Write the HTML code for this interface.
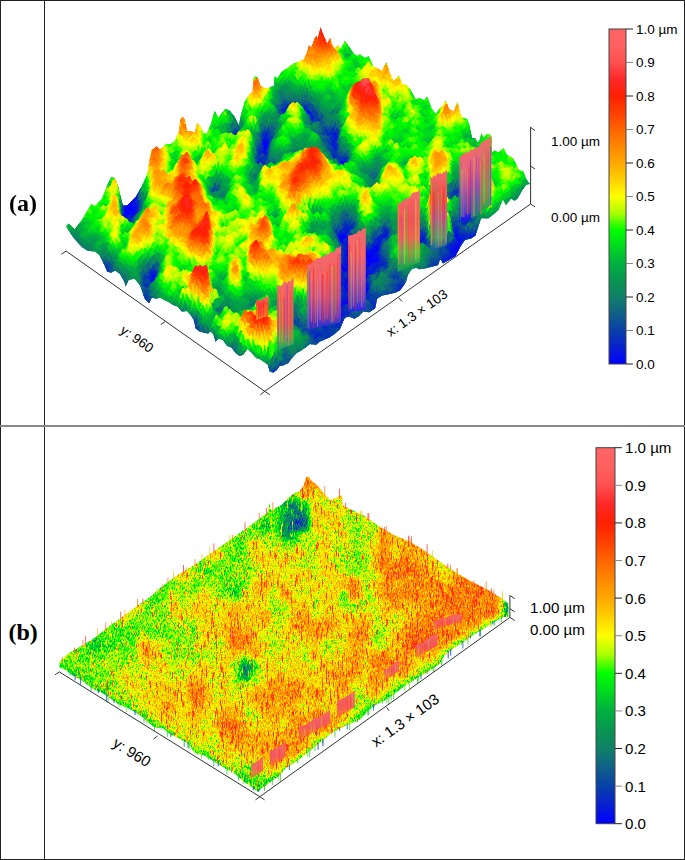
<!DOCTYPE html>
<html><head><meta charset="utf-8"><style>
html,body{margin:0;padding:0;background:#fff}
body{width:685px;height:860px;position:relative;overflow:hidden}
.lab{position:absolute;font-family:"Liberation Serif",serif;font-weight:bold;font-size:24px;line-height:1;z-index:4}
.bd{position:absolute;background:#222;z-index:4}
</style></head><body>
<svg width="685" height="860" viewBox="0 0 685 860" style="position:absolute;left:0;top:0;z-index:1;font-family:'Liberation Sans',sans-serif">
<defs>
<linearGradient id="cb" x1="0" y1="0" x2="0" y2="1"><stop offset="0.000" stop-color="#ff6464"/><stop offset="0.050" stop-color="#ff6060"/><stop offset="0.100" stop-color="#ff5050"/><stop offset="0.150" stop-color="#ff2828"/><stop offset="0.200" stop-color="#ff2000"/><stop offset="0.250" stop-color="#ff4000"/><stop offset="0.300" stop-color="#ff6400"/><stop offset="0.350" stop-color="#ff8800"/><stop offset="0.400" stop-color="#ffa800"/><stop offset="0.450" stop-color="#ffd000"/><stop offset="0.500" stop-color="#ffff00"/><stop offset="0.550" stop-color="#aaff00"/><stop offset="0.600" stop-color="#00ff00"/><stop offset="0.650" stop-color="#00d820"/><stop offset="0.700" stop-color="#00b040"/><stop offset="0.750" stop-color="#089650"/><stop offset="0.800" stop-color="#108068"/><stop offset="0.850" stop-color="#106088"/><stop offset="0.900" stop-color="#0840a8"/><stop offset="0.950" stop-color="#0820d0"/><stop offset="1.000" stop-color="#0000ff"/></linearGradient>
<linearGradient id="wg0" x1="0" y1="0" x2="0" y2="1"><stop offset="0" stop-color="#f46a6a"/><stop offset="0.55" stop-color="#f45a5a"/><stop offset="1" stop-color="#ff6030" stop-opacity="0.5"/></linearGradient><linearGradient id="wg1" x1="0" y1="0" x2="0" y2="1"><stop offset="0" stop-color="#f46a6a"/><stop offset="0.55" stop-color="#f45a5a"/><stop offset="1" stop-color="#ff6030" stop-opacity="0.5"/></linearGradient><linearGradient id="wg2" x1="0" y1="0" x2="0" y2="1"><stop offset="0" stop-color="#f46a6a"/><stop offset="0.55" stop-color="#f45a5a"/><stop offset="1" stop-color="#ff6030" stop-opacity="0.5"/></linearGradient><linearGradient id="wg3" x1="0" y1="0" x2="0" y2="1"><stop offset="0" stop-color="#f46a6a"/><stop offset="0.55" stop-color="#f45a5a"/><stop offset="1" stop-color="#ff6030" stop-opacity="0.5"/></linearGradient><linearGradient id="wg4" x1="0" y1="0" x2="0" y2="1"><stop offset="0" stop-color="#f46a6a"/><stop offset="0.55" stop-color="#f45a5a"/><stop offset="1" stop-color="#ff6030" stop-opacity="0.5"/></linearGradient><linearGradient id="wg5" x1="0" y1="0" x2="0" y2="1"><stop offset="0" stop-color="#f46a6a"/><stop offset="0.55" stop-color="#f45a5a"/><stop offset="1" stop-color="#ff6030" stop-opacity="0.5"/></linearGradient><linearGradient id="wg6" x1="0" y1="0" x2="0" y2="1"><stop offset="0" stop-color="#f46a6a"/><stop offset="0.55" stop-color="#f45a5a"/><stop offset="1" stop-color="#ff6030" stop-opacity="0.5"/></linearGradient>
<clipPath id="clipA"><polygon points="66.6,225.9 68.8,223.7 74.6,229.6 81.9,220.0 91.4,204.0 95.0,206.2 102.3,198.2 108.2,183.6 111.8,177.0 115.5,179.2 118.4,188.0 122.8,205.5 127.2,205.5 135.9,196.7 141.8,186.5 147.6,173.4 149.8,158.8 152.0,150.0 156.6,146.6 160.0,149.6 165.8,144.5 170.2,144.5 174.6,141.5 179.0,131.3 180.4,119.6 182.6,116.7 184.8,119.6 187.0,131.3 190.7,131.3 195.0,132.8 197.2,123.3 200.1,126.2 203.8,132.8 206.7,134.2 211.1,124.0 214.7,110.9 218.4,118.2 221.3,113.8 225.7,108.7 230.1,110.9 234.5,116.7 238.8,125.5 241.0,115.3 244.7,102.1 249.1,94.8 252.7,91.9 253.4,78.8 255.6,76.6 257.8,78.0 260.0,85.0 264.4,88.6 268.8,87.9 273.9,85.7 274.6,76.2 277.5,78.4 281.9,71.8 287.0,68.2 293.6,63.8 299.4,61.6 303.8,59.4 306.7,53.6 308.9,45.5 311.1,47.7 314.7,39.0 316.2,36.1 317.7,39.0 319.9,30.2 320.6,27.3 322.0,31.7 327.2,44.1 330.1,38.2 332.3,44.8 334.5,48.5 338.1,45.5 341.0,48.5 344.7,41.2 349.1,47.0 353.4,53.6 357.1,56.0 360.0,54.4 364.4,58.0 368.8,56.6 373.1,66.8 379.0,69.0 381.9,71.2 386.3,62.4 389.2,71.9 393.6,81.4 398.7,75.5 402.3,84.3 406.7,85.0 410.4,89.4 415.5,99.6 419.9,98.2 424.2,100.4 427.2,96.7 431.5,108.4 435.9,114.2 439.6,108.4 443.2,105.5 445.8,100.7 448.8,108.8 453.9,111.7 457.5,101.5 459.7,111.7 461.9,117.5 467.0,119.0 469.2,124.8 472.1,138.0 475.0,138.0 477.2,142.3 479.4,140.9 481.6,133.6 483.8,138.0 486.7,134.3 490.4,135.0 491.8,138.0 491.8,152.6 494.7,150.4 498.4,152.6 503.5,148.2 507.2,155.5 511.5,156.9 514.5,161.3 518.8,170.1 523.2,171.5 526.1,178.8 529.1,183.2 530.0,184.0 526.4,184.6 522.0,190.4 517.6,198.5 514.7,200.7 511.0,198.5 505.9,205.0 503.0,199.2 498.6,209.4 494.2,213.8 488.4,218.2 481.1,218.2 478.2,226.9 475.3,235.7 470.9,238.6 465.0,240.1 460.7,245.9 457.7,251.8 455.5,256.1 443.1,263.4 440.2,259.1 438.0,264.9 436.4,265.5 430.5,267.0 424.7,268.5 419.6,269.2 415.9,267.7 411.5,269.2 407.9,275.0 405.7,282.3 402.8,286.7 399.9,290.4 395.5,292.6 389.6,294.0 382.3,295.5 377.2,298.4 375.0,308.6 369.2,312.3 363.4,311.5 359.0,315.9 354.6,318.8 348.8,316.6 345.1,317.4 342.9,321.8 340.0,329.0 334.9,333.8 330.5,336.7 324.7,339.6 319.6,341.8 315.9,344.7 310.1,344.0 304.2,348.4 299.9,351.3 296.9,352.8 292.6,357.2 288.2,363.0 283.8,365.2 279.4,365.9 277.2,369.6 273.6,372.5 269.9,371.8 267.7,364.5 263.4,361.5 259.0,358.6 256.4,358.3 252.0,353.2 247.6,348.8 243.2,354.7 239.6,356.1 235.9,353.2 231.5,347.4 227.2,345.9 222.8,340.1 218.4,338.6 215.5,341.5 213.3,334.2 210.4,331.3 208.2,333.5 203.8,332.8 199.4,331.3 195.8,328.4 193.6,319.6 190.7,315.3 187.0,310.9 181.9,311.6 177.5,306.5 173.1,305.0 168.8,302.1 164.4,299.9 160.0,297.4 156.4,298.8 152.0,297.4 149.0,303.2 144.7,298.8 140.3,285.7 134.5,278.4 128.6,279.9 125.7,286.4 124.2,281.3 119.9,274.0 115.5,270.4 111.1,272.6 107.4,271.8 103.8,263.8 99.4,255.0 95.0,251.4 87.7,250.7 81.9,247.0 74.6,239.0 71.0,233.9 66.6,227.0"/></clipPath>
<clipPath id="clipB"><polygon points="59.5,661.8 69.0,653.0 79.2,647.2 93.8,638.4 108.4,626.7 123.0,616.5 137.6,605.5 150.0,597.0 164.6,584.2 179.2,574.0 193.8,565.3 208.4,555.0 223.0,544.8 237.6,534.6 250.0,525.7 260.5,517.8 267.5,512.5 269.3,502.9 271.0,510.8 281.5,504.7 293.8,493.3 299.0,491.5 303.4,486.3 306.0,477.5 308.7,476.6 310.4,479.3 313.0,481.9 318.3,486.3 323.6,493.3 330.6,500.3 342.0,495.0 342.8,505.5 350.0,509.0 364.6,516.1 379.2,526.3 393.8,535.0 408.4,540.9 423.0,549.6 437.6,559.9 452.5,570.3 470.0,580.8 487.6,589.5 501.6,598.3 508.5,603.7 508.3,617.0 503.2,617.0 493.0,622.8 484.2,628.6 474.0,634.5 463.8,641.8 455.0,647.6 444.8,654.9 440.0,664.0 424.9,673.4 406.2,685.0 387.5,699.0 373.5,706.0 359.4,720.0 347.8,724.8 333.7,731.8 322.0,741.1 310.4,750.5 298.7,759.8 292.4,763.9 285.4,768.5 278.4,776.7 272.6,780.2 266.7,784.9 260.9,788.4 258.5,791.9 256.2,790.7 250.4,786.1 243.4,781.4 231.7,770.9 227.6,770.0 215.9,762.8 204.2,755.5 194.0,752.6 188.2,743.8 178.0,738.0 169.2,733.6 161.9,727.7 154.6,727.7 147.6,721.8 138.8,714.5 128.6,708.6 118.4,704.2 103.8,694.0 92.1,688.2 80.4,679.4 71.7,675.0 65.8,669.9 59.5,667.6"/></clipPath>
<filter id="fa" x="0" y="0" width="100%" height="100%" color-interpolation-filters="sRGB"><feGaussianBlur in="SourceGraphic" stdDeviation="1.8 3" result="b"/><feTurbulence type="fractalNoise" baseFrequency="0.5 0.05" numOctaves="2" seed="5" result="n"/><feColorMatrix in="n" type="matrix" values="1 0 0 0 0 1 0 0 0 0 1 0 0 0 0 0 0 0 0 1" result="n2"/><feComposite in="b" in2="n2" operator="arithmetic" k1="0" k2="1" k3="0.06" k4="-0.030" result="bn"/><feComponentTransfer in="bn"><feFuncR type="table" tableValues="0.000 0.031 0.031 0.063 0.063 0.031 0.000 0.000 0.000 0.667 1.000 1.000 1.000 1.000 1.000 1.000 1.000 1.000 1.000 1.000 1.000"/><feFuncG type="table" tableValues="0.000 0.125 0.251 0.376 0.502 0.588 0.690 0.847 1.000 1.000 1.000 0.816 0.659 0.533 0.392 0.251 0.125 0.157 0.314 0.376 0.392"/><feFuncB type="table" tableValues="1.000 0.816 0.659 0.533 0.408 0.314 0.251 0.125 0.000 0.000 0.000 0.000 0.000 0.000 0.000 0.000 0.000 0.157 0.314 0.376 0.392"/><feFuncA type="linear" slope="0" intercept="1"/></feComponentTransfer></filter>
<filter id="fb" x="0" y="0" width="100%" height="100%" color-interpolation-filters="sRGB"><feGaussianBlur in="SourceGraphic" stdDeviation="3 3.5" result="b"/><feTurbulence type="fractalNoise" baseFrequency="1.5 0.4" numOctaves="2" seed="7" result="n"/><feColorMatrix in="n" type="matrix" values="1 0 0 0 0 1 0 0 0 0 1 0 0 0 0 0 0 0 0 1" result="n2"/><feComposite in="b" in2="n2" operator="arithmetic" k1="0" k2="1" k3="0.45" k4="-0.225" result="bn"/><feTurbulence type="fractalNoise" baseFrequency="1.8 0.1" numOctaves="2" seed="9" result="s"/><feColorMatrix in="s" type="matrix" values="1 0 0 0 0 1 0 0 0 0 1 0 0 0 0 0 0 0 0 1" result="s2"/><feComponentTransfer in="s2" result="s3"><feFuncR type="table" tableValues="0 0 0 0 0 0 0.25 0.6 1 1"/><feFuncG type="table" tableValues="0 0 0 0 0 0 0.25 0.6 1 1"/><feFuncB type="table" tableValues="0 0 0 0 0 0 0.25 0.6 1 1"/></feComponentTransfer><feComposite in="bn" in2="s3" operator="arithmetic" k1="0" k2="1" k3="0.5" k4="-0.040" result="bs"/><feComponentTransfer in="bs"><feFuncR type="table" tableValues="0.000 0.031 0.031 0.063 0.063 0.031 0.000 0.000 0.000 0.667 1.000 1.000 1.000 1.000 1.000 1.000 1.000 1.000 1.000 1.000 1.000"/><feFuncG type="table" tableValues="0.000 0.125 0.251 0.376 0.502 0.588 0.690 0.847 1.000 1.000 1.000 0.816 0.659 0.533 0.392 0.251 0.125 0.157 0.314 0.376 0.392"/><feFuncB type="table" tableValues="1.000 0.816 0.659 0.533 0.408 0.314 0.251 0.125 0.000 0.000 0.000 0.000 0.000 0.000 0.000 0.000 0.000 0.157 0.314 0.376 0.392"/><feFuncA type="linear" slope="0" intercept="1"/></feComponentTransfer></filter>
</defs>
<rect width="685" height="860" fill="#fff"/>
<g clip-path="url(#clipA)"><g filter="url(#fa)"><path fill="#000000" d="M299 104h12v7h-12zM299 109h12v7h-12zM299 114h12v7h-12zM309 119h12v7h-12zM329 129h12v7h-12zM229 134h12v7h-12zM329 134h12v7h-12zM259 139h12v7h-12zM329 139h12v7h-12zM259 144h12v7h-12zM259 149h12v7h-12zM124 184h12v7h-12zM124 189h17v7h-17zM124 194h17v7h-17zM209 194h12v7h-12zM124 199h17v7h-17zM119 204h22v7h-22zM119 209h12v7h-12zM119 214h12v7h-12zM339 219h12v7h-12zM119 224h12v7h-12zM339 229h12v7h-12zM339 234h27v7h-27zM349 239h22v7h-22zM449 239h22v7h-22zM354 244h27v7h-27zM459 244h17v7h-17zM354 249h27v7h-27zM449 249h32v7h-32zM354 254h27v7h-27zM449 254h37v7h-37zM354 259h27v7h-27zM439 259h12v7h-12zM454 259h37v7h-37zM354 264h27v7h-27zM439 264h57v7h-57zM354 269h17v7h-17zM444 269h57v7h-57zM354 274h17v7h-17zM449 274h57v7h-57zM149 279h12v7h-12zM354 279h17v7h-17zM454 279h57v7h-57zM354 284h17v7h-17zM459 284h52v7h-52zM359 289h12v7h-12zM464 289h37v7h-37zM469 294h32v7h-32zM474 299h17v7h-17zM479 304h12v7h-12zM184 329h17v7h-17zM174 334h27v7h-27zM169 339h27v7h-27zM164 344h27v7h-27zM199 344h12v7h-12zM159 349h32v7h-32zM194 349h12v7h-12zM154 354h47v7h-47zM149 359h52v7h-52zM149 364h47v7h-47zM149 369h47v7h-47zM259 369h22v7h-22zM149 374h42v7h-42zM259 374h22v7h-22zM159 379h27v7h-27zM264 379h12v7h-12zM159 384h22v7h-22z"/><path fill="#040404" d="M259 134h12v7h-12zM339 159h12v7h-12zM129 209h12v7h-12zM129 214h12v7h-12zM379 234h12v7h-12zM419 234h12v7h-12zM339 239h12v7h-12zM339 244h17v7h-17zM339 249h17v7h-17zM334 254h22v7h-22zM329 259h27v7h-27zM329 264h27v7h-27zM149 269h12v7h-12zM329 269h12v7h-12zM349 269h7v7h-7zM149 274h12v7h-12zM354 289h7v7h-7zM189 324h12v7h-12zM179 329h7v7h-7zM189 344h7v7h-7zM189 349h7v7h-7zM199 354h7v7h-7zM199 359h7v7h-7zM194 364h7v7h-7zM189 374h7v7h-7zM184 379h7v7h-7zM179 384h7v7h-7zM264 384h12v7h-12z"/><path fill="#080808" d="M449 224h12v7h-12zM449 229h12v7h-12zM369 239h12v7h-12zM449 244h12v7h-12zM449 259h7v7h-7zM339 269h12v7h-12zM324 274h32v7h-32zM324 279h32v7h-32zM324 284h32v7h-32zM324 289h32v7h-32zM324 294h32v7h-32zM339 299h12v7h-12zM184 324h7v7h-7zM194 344h7v7h-7zM199 364h7v7h-7zM194 369h7v7h-7zM264 389h12v7h-12z"/><path fill="#0c0c0c" d="M299 99h12v7h-12zM279 109h12v7h-12zM319 119h12v7h-12zM309 124h22v7h-22zM229 129h12v7h-12zM329 144h12v7h-12zM329 149h12v7h-12zM259 154h12v7h-12zM329 154h12v7h-12zM254 159h17v7h-17zM209 189h12v7h-12zM119 219h12v7h-12zM339 224h12v7h-12zM119 229h12v7h-12zM364 234h7v7h-7zM449 234h12v7h-12zM419 239h12v7h-12zM149 284h12v7h-12zM209 299h12v7h-12zM324 299h17v7h-17zM349 299h7v7h-7zM209 304h12v7h-12zM334 304h7v7h-7zM199 339h12v7h-12zM204 349h7v7h-7zM204 354h7v7h-7zM204 359h7v7h-7zM259 379h7v7h-7zM274 379h7v7h-7zM259 384h7v7h-7zM274 384h7v7h-7zM264 394h12v7h-12zM264 399h12v7h-12zM264 404h12v7h-12z"/><path fill="#101010" d="M279 99h12v7h-12zM279 104h12v7h-12zM329 119h12v7h-12zM259 124h12v7h-12zM329 124h12v7h-12zM259 129h12v7h-12zM319 129h12v7h-12zM229 139h7v7h-7zM254 149h7v7h-7zM254 154h7v7h-7zM329 159h12v7h-12zM254 164h7v7h-7zM339 164h12v7h-12zM219 189h12v7h-12zM449 189h12v7h-12zM459 214h12v7h-12zM309 219h12v7h-12zM329 219h12v7h-12zM459 219h12v7h-12zM309 224h12v7h-12zM329 224h12v7h-12zM329 229h12v7h-12zM349 229h7v7h-7zM379 229h12v7h-12zM419 229h12v7h-12zM439 229h12v7h-12zM439 234h12v7h-12zM379 259h12v7h-12zM379 264h12v7h-12zM99 269h12v7h-12zM94 274h17v7h-17zM89 279h22v7h-22zM139 279h12v7h-12zM389 279h22v7h-22zM84 284h27v7h-27zM399 284h12v7h-12zM79 289h27v7h-27zM399 289h12v7h-12zM74 294h27v7h-27zM354 294h17v7h-17zM389 294h22v7h-22zM69 299h32v7h-32zM394 299h12v7h-12zM64 304h37v7h-37zM324 304h12v7h-12zM339 304h12v7h-12zM59 309h37v7h-37zM139 309h12v7h-12zM289 309h12v7h-12zM319 309h17v7h-17zM339 309h12v7h-12zM59 314h32v7h-32zM134 314h17v7h-17zM284 314h17v7h-17zM319 314h17v7h-17zM59 319h27v7h-27zM119 319h27v7h-27zM189 319h12v7h-12zM284 319h17v7h-17zM319 319h22v7h-22zM59 324h22v7h-22zM114 324h27v7h-27zM289 324h12v7h-12zM314 324h12v7h-12zM329 324h12v7h-12zM109 329h32v7h-32zM309 329h22v7h-22zM104 334h32v7h-32zM309 334h22v7h-22zM99 339h37v7h-37zM194 339h7v7h-7zM99 344h37v7h-37zM99 349h32v7h-32zM219 349h12v7h-12zM239 349h12v7h-12zM99 354h32v7h-32zM214 354h12v7h-12zM229 354h12v7h-12zM209 359h27v7h-27zM204 364h27v7h-27zM269 364h12v7h-12zM199 369h27v7h-27zM194 374h27v7h-27zM189 379h27v7h-27zM184 384h27v7h-27zM179 389h27v7h-27zM259 389h7v7h-7zM274 389h7v7h-7zM189 394h12v7h-12zM259 394h7v7h-7zM274 394h7v7h-7zM259 399h7v7h-7zM274 399h7v7h-7zM264 409h12v7h-12zM264 414h12v7h-12z"/><path fill="#141414" d="M229 124h12v7h-12zM289 154h12v7h-12zM339 154h12v7h-12zM359 179h12v7h-12zM449 194h12v7h-12zM299 219h12v7h-12zM449 219h12v7h-12zM414 229h7v7h-7zM429 229h7v7h-7zM469 229h12v7h-12zM369 234h12v7h-12zM474 244h7v7h-7zM479 249h7v7h-7zM484 254h7v7h-7zM489 259h7v7h-7zM149 264h12v7h-12zM494 264h7v7h-7zM139 269h12v7h-12zM499 269h7v7h-7zM139 274h12v7h-12zM504 274h7v7h-7zM459 289h7v7h-7zM99 294h7v7h-7zM464 294h7v7h-7zM99 299h7v7h-7zM139 299h12v7h-12zM369 299h12v7h-12zM469 299h7v7h-7zM394 304h12v7h-12zM474 304h7v7h-7zM129 309h7v7h-7zM334 309h7v7h-7zM394 309h12v7h-12zM124 314h12v7h-12zM334 314h17v7h-17zM399 314h7v7h-7zM199 324h12v7h-12zM324 324h7v7h-7zM174 329h7v7h-7zM134 334h7v7h-7zM134 339h7v7h-7zM134 344h7v7h-7zM129 349h7v7h-7zM129 354h7v7h-7zM149 354h7v7h-7zM224 354h7v7h-7zM239 354h12v7h-12zM259 359h12v7h-12zM259 364h12v7h-12zM259 404h7v7h-7zM274 404h7v7h-7zM259 409h7v7h-7zM274 409h7v7h-7zM259 414h7v7h-7zM274 414h7v7h-7z"/><path fill="#181818" d="M459 189h7v7h-7zM434 229h7v7h-7zM429 234h7v7h-7zM439 239h12v7h-12zM469 239h7v7h-7zM439 244h12v7h-12zM449 279h7v7h-7zM454 284h7v7h-7zM104 289h7v7h-7zM104 294h7v7h-7zM389 299h7v7h-7zM404 299h7v7h-7zM134 304h7v7h-7zM349 304h7v7h-7zM389 304h7v7h-7zM404 304h7v7h-7zM134 309h7v7h-7zM404 309h7v7h-7zM404 314h7v7h-7zM139 324h7v7h-7zM179 324h7v7h-7zM139 329h7v7h-7zM169 334h7v7h-7zM164 339h7v7h-7zM159 344h7v7h-7zM134 349h7v7h-7zM154 349h7v7h-7zM209 349h7v7h-7zM134 354h7v7h-7zM209 354h7v7h-7zM254 389h7v7h-7zM279 389h7v7h-7zM254 394h7v7h-7zM279 394h7v7h-7zM254 399h7v7h-7zM279 399h7v7h-7zM254 404h7v7h-7zM279 404h7v7h-7zM254 409h7v7h-7zM279 409h7v7h-7zM254 414h7v7h-7zM279 414h7v7h-7z"/><path fill="#1c1c1c" d="M309 109h12v7h-12zM309 114h12v7h-12zM369 194h12v7h-12zM464 209h7v7h-7zM379 224h12v7h-12zM434 234h7v7h-7zM419 244h12v7h-12zM99 259h12v7h-12zM99 264h12v7h-12zM389 269h12v7h-12zM389 274h12v7h-12zM99 304h7v7h-7zM179 304h12v7h-12zM239 304h12v7h-12zM94 309h7v7h-7zM89 314h7v7h-7zM394 314h7v7h-7zM84 319h7v7h-7zM114 319h7v7h-7zM184 319h7v7h-7zM314 319h7v7h-7zM404 319h7v7h-7zM79 324h7v7h-7zM109 324h7v7h-7zM104 329h7v7h-7zM99 334h7v7h-7zM139 334h7v7h-7zM139 339h7v7h-7zM139 344h7v7h-7zM139 349h7v7h-7zM229 349h12v7h-12zM139 354h7v7h-7zM234 359h7v7h-7zM229 364h7v7h-7zM224 369h7v7h-7zM219 374h7v7h-7zM214 379h7v7h-7zM254 379h7v7h-7zM279 379h7v7h-7zM209 384h7v7h-7zM254 384h7v7h-7zM279 384h7v7h-7zM204 389h7v7h-7zM199 394h7v7h-7z"/><path fill="#202020" d="M279 114h12v7h-12zM249 184h7v7h-7zM449 184h17v7h-17zM464 189h7v7h-7zM339 214h12v7h-12zM414 224h7v7h-7zM429 224h12v7h-12zM309 229h12v7h-12zM479 234h7v7h-7zM379 239h12v7h-12zM334 249h7v7h-7zM379 249h12v7h-12zM379 254h12v7h-12zM324 269h7v7h-7zM444 274h7v7h-7zM109 289h7v7h-7zM369 289h12v7h-12zM369 294h12v7h-12zM104 299h7v7h-7zM384 299h7v7h-7zM409 299h7v7h-7zM379 304h12v7h-12zM409 304h7v7h-7zM389 309h7v7h-7zM409 309h7v7h-7zM119 314h7v7h-7zM409 314h7v7h-7zM399 319h7v7h-7zM409 319h7v7h-7zM309 324h7v7h-7zM404 324h12v7h-12zM199 329h12v7h-12zM249 394h7v7h-7zM284 394h7v7h-7zM249 399h7v7h-7zM284 399h7v7h-7zM249 404h7v7h-7zM284 404h7v7h-7zM249 409h7v7h-7zM284 409h7v7h-7zM249 414h7v7h-7zM284 414h7v7h-7z"/><path fill="#242424" d="M259 119h12v7h-12zM319 134h12v7h-12zM254 144h7v7h-7zM209 184h12v7h-12zM464 184h7v7h-7zM219 194h12v7h-12zM449 214h12v7h-12zM349 219h12v7h-12zM349 224h12v7h-12zM409 224h7v7h-7zM459 224h12v7h-12zM479 229h12v7h-12zM329 234h12v7h-12zM459 234h12v7h-12zM484 234h7v7h-7zM484 239h12v7h-12zM439 249h12v7h-12zM439 254h12v7h-12zM369 269h12v7h-12zM139 284h12v7h-12zM389 284h12v7h-12zM389 289h12v7h-12zM109 294h7v7h-7zM359 299h12v7h-12zM379 299h7v7h-7zM124 309h7v7h-7zM284 309h7v7h-7zM384 309h7v7h-7zM414 309h7v7h-7zM414 314h7v7h-7zM144 319h7v7h-7zM349 319h7v7h-7zM414 319h7v7h-7zM144 324h7v7h-7zM284 324h7v7h-7zM414 324h7v7h-7zM144 329h7v7h-7zM339 329h7v7h-7zM409 329h17v7h-17zM144 334h7v7h-7zM419 334h7v7h-7zM144 339h7v7h-7zM209 339h12v7h-12zM144 344h7v7h-7zM209 344h12v7h-12zM144 349h7v7h-7zM144 354h7v7h-7zM249 354h12v7h-12zM269 359h12v7h-12zM249 384h7v7h-7zM284 384h7v7h-7zM249 389h7v7h-7zM284 389h7v7h-7zM244 399h7v7h-7zM289 399h7v7h-7zM244 404h7v7h-7zM289 404h7v7h-7zM244 409h7v7h-7zM289 409h7v7h-7zM244 414h7v7h-7zM289 414h7v7h-7z"/><path fill="#282828" d="M279 89h12v7h-12zM279 94h22v7h-22zM269 99h12v7h-12zM309 99h12v7h-12zM269 104h12v7h-12zM309 104h12v7h-12zM229 119h12v7h-12zM269 119h12v7h-12zM269 124h12v7h-12zM269 129h12v7h-12zM319 139h12v7h-12zM319 144h12v7h-12zM289 149h12v7h-12zM339 149h12v7h-12zM269 159h12v7h-12zM369 169h12v7h-12zM369 174h12v7h-12zM214 179h7v7h-7zM249 179h7v7h-7zM449 179h12v7h-12zM459 194h12v7h-12zM509 194h12v7h-12zM514 199h12v7h-12zM464 204h12v7h-12zM519 204h12v7h-12zM459 209h7v7h-7zM469 209h12v7h-12zM524 209h12v7h-12zM434 214h17v7h-17zM469 214h12v7h-12zM529 214h17v7h-17zM269 219h12v7h-12zM319 219h12v7h-12zM419 219h12v7h-12zM434 219h17v7h-17zM479 219h12v7h-12zM534 219h17v7h-17zM299 224h12v7h-12zM419 224h12v7h-12zM439 224h12v7h-12zM469 224h12v7h-12zM484 224h12v7h-12zM539 224h17v7h-17zM369 229h12v7h-12zM489 229h12v7h-12zM544 229h17v7h-17zM469 234h12v7h-12zM489 234h17v7h-17zM549 234h12v7h-12zM429 239h12v7h-12zM474 239h12v7h-12zM494 239h17v7h-17zM429 244h12v7h-12zM479 244h37v7h-37zM69 249h12v7h-12zM429 249h12v7h-12zM484 249h37v7h-37zM64 254h17v7h-17zM429 254h12v7h-12zM489 254h37v7h-37zM59 259h17v7h-17zM149 259h12v7h-12zM429 259h12v7h-12zM494 259h37v7h-37zM54 264h17v7h-17zM389 264h12v7h-12zM429 264h12v7h-12zM499 264h22v7h-22zM49 269h17v7h-17zM399 269h12v7h-12zM439 269h7v7h-7zM504 269h17v7h-17zM44 274h17v7h-17zM109 274h12v7h-12zM399 274h12v7h-12zM509 274h12v7h-12zM39 279h17v7h-17zM109 279h12v7h-12zM409 279h32v7h-32zM34 284h17v7h-17zM109 284h12v7h-12zM409 284h37v7h-37zM29 289h17v7h-17zM119 289h12v7h-12zM139 289h12v7h-12zM209 289h12v7h-12zM379 289h12v7h-12zM409 289h42v7h-42zM29 294h12v7h-12zM114 294h17v7h-17zM139 294h12v7h-12zM209 294h12v7h-12zM379 294h12v7h-12zM409 294h57v7h-57zM109 299h17v7h-17zM219 299h12v7h-12zM249 299h12v7h-12zM354 299h7v7h-7zM414 299h57v7h-57zM104 304h17v7h-17zM139 304h12v7h-12zM219 304h12v7h-12zM249 304h12v7h-12zM369 304h12v7h-12zM414 304h62v7h-62zM99 309h17v7h-17zM159 309h32v7h-32zM349 309h22v7h-22zM374 309h12v7h-12zM419 309h62v7h-62zM94 314h22v7h-22zM159 314h32v7h-32zM349 314h47v7h-47zM419 314h62v7h-62zM89 319h27v7h-27zM164 319h22v7h-22zM299 319h12v7h-12zM339 319h12v7h-12zM354 319h47v7h-47zM419 319h62v7h-62zM84 324h27v7h-27zM169 324h12v7h-12zM299 324h12v7h-12zM339 324h67v7h-67zM419 324h62v7h-62zM79 329h27v7h-27zM299 329h12v7h-12zM329 329h12v7h-12zM344 329h67v7h-67zM424 329h57v7h-57zM79 334h22v7h-22zM299 334h12v7h-12zM329 334h92v7h-92zM424 334h57v7h-57zM309 339h112v7h-112zM309 344h112v7h-112zM214 349h7v7h-7zM279 349h22v7h-22zM309 349h102v7h-102zM279 354h22v7h-22zM309 354h102v7h-102zM239 359h22v7h-22zM279 359h112v7h-112zM234 364h27v7h-27zM279 364h112v7h-112zM229 369h32v7h-32zM279 369h102v7h-102zM224 374h37v7h-37zM279 374h102v7h-102zM219 379h37v7h-37zM284 379h97v7h-97zM214 384h37v7h-37zM289 384h92v7h-92zM209 389h42v7h-42zM289 389h92v7h-92zM204 394h47v7h-47zM289 394h92v7h-92zM199 399h47v7h-47zM294 399h87v7h-87zM199 404h47v7h-47zM294 404h87v7h-87zM199 409h47v7h-47zM294 409h87v7h-87zM199 414h47v7h-47zM294 414h87v7h-87z"/><path fill="#2c2c2c" d="M249 174h12v7h-12zM529 204h7v7h-7zM534 209h7v7h-7zM479 224h7v7h-7zM414 234h7v7h-7zM94 269h7v7h-7zM379 269h12v7h-12zM89 274h7v7h-7zM84 279h7v7h-7zM444 284h7v7h-7zM449 289h12v7h-12zM119 304h7v7h-7zM129 304h7v7h-7zM354 304h7v7h-7zM114 309h7v7h-7zM209 309h12v7h-12zM369 309h7v7h-7zM114 314h7v7h-7zM189 314h12v7h-12zM309 314h7v7h-7zM309 319h7v7h-7zM164 324h7v7h-7zM169 329h7v7h-7zM149 339h7v7h-7zM149 344h7v7h-7zM149 349h7v7h-7z"/><path fill="#303030" d="M299 94h12v7h-12zM299 124h12v7h-12zM249 134h12v7h-12zM289 144h12v7h-12zM339 144h12v7h-12zM269 154h22v7h-22zM369 159h12v7h-12zM319 164h12v7h-12zM369 164h12v7h-12zM359 169h12v7h-12zM359 174h12v7h-12zM129 179h7v7h-7zM369 179h12v7h-12zM444 179h7v7h-7zM459 179h12v7h-12zM134 184h7v7h-7zM369 184h12v7h-12zM139 189h12v7h-12zM369 189h12v7h-12zM139 194h12v7h-12zM139 199h12v7h-12zM464 199h7v7h-7zM524 199h7v7h-7zM349 209h12v7h-12zM439 209h7v7h-7zM539 209h7v7h-7zM349 214h12v7h-12zM544 214h7v7h-7zM289 219h12v7h-12zM379 219h12v7h-12zM549 219h7v7h-7zM369 224h12v7h-12zM554 224h7v7h-7zM389 229h12v7h-12zM59 234h22v7h-22zM69 239h12v7h-12zM329 239h12v7h-12zM379 244h12v7h-12zM329 254h7v7h-7zM419 259h12v7h-12zM139 264h12v7h-12zM409 264h12v7h-12zM219 279h12v7h-12zM379 279h12v7h-12zM79 284h7v7h-7zM379 284h12v7h-12zM449 284h7v7h-7zM74 289h7v7h-7zM114 289h7v7h-7zM69 294h7v7h-7zM64 299h7v7h-7zM179 299h12v7h-12zM239 299h12v7h-12zM59 304h7v7h-7zM169 304h12v7h-12zM229 304h12v7h-12zM319 304h7v7h-7zM119 309h7v7h-7zM299 309h12v7h-12zM299 314h12v7h-12zM314 314h7v7h-7zM149 329h7v7h-7zM164 329h7v7h-7zM149 334h7v7h-7zM164 334h7v7h-7zM154 339h12v7h-12zM154 344h7v7h-7z"/><path fill="#343434" d="M249 159h7v7h-7zM254 169h7v7h-7zM519 194h7v7h-7zM529 199h7v7h-7zM534 204h7v7h-7zM339 209h12v7h-12zM379 209h12v7h-12zM379 214h12v7h-12zM409 219h12v7h-12zM429 219h7v7h-7zM99 249h12v7h-12zM419 249h12v7h-12zM99 254h12v7h-12zM109 259h12v7h-12zM109 264h12v7h-12zM369 274h12v7h-12zM369 279h12v7h-12zM439 279h12v7h-12zM369 284h12v7h-12zM249 294h12v7h-12zM124 299h7v7h-7zM134 299h7v7h-7zM269 299h12v7h-12zM124 304h7v7h-7zM269 304h12v7h-12zM159 319h7v7h-7zM149 324h7v7h-7zM159 324h7v7h-7zM159 329h7v7h-7zM154 334h12v7h-12zM229 334h12v7h-12zM279 339h12v7h-12zM279 344h12v7h-12z"/><path fill="#383838" d="M249 149h7v7h-7zM249 154h7v7h-7zM249 164h7v7h-7zM519 184h12v7h-12zM524 189h12v7h-12zM524 194h17v7h-17zM459 199h7v7h-7zM534 199h12v7h-12zM539 204h22v7h-22zM444 209h7v7h-7zM544 209h27v7h-27zM549 214h22v7h-22zM554 219h17v7h-17zM559 224h12v7h-12zM379 274h12v7h-12zM284 304h7v7h-7zM229 309h12v7h-12zM314 309h7v7h-7zM149 319h7v7h-7zM154 329h7v7h-7zM284 329h7v7h-7zM229 339h12v7h-12zM229 344h12v7h-12z"/><path fill="#3c3c3c" d="M249 144h7v7h-7zM204 184h7v7h-7zM539 194h27v7h-27zM544 199h27v7h-27zM559 204h12v7h-12zM449 209h12v7h-12zM519 209h7v7h-7zM524 214h7v7h-7zM529 219h7v7h-7zM534 224h7v7h-7zM159 229h7v7h-7zM299 229h12v7h-12zM354 229h7v7h-7zM409 229h7v7h-7zM539 229h7v7h-7zM119 234h12v7h-12zM544 234h7v7h-7zM59 254h7v7h-7zM54 259h7v7h-7zM49 264h7v7h-7zM69 264h7v7h-7zM44 269h7v7h-7zM64 269h7v7h-7zM39 274h7v7h-7zM59 274h7v7h-7zM34 279h7v7h-7zM54 279h7v7h-7zM29 284h7v7h-7zM49 284h7v7h-7zM44 289h7v7h-7zM39 294h7v7h-7zM189 309h12v7h-12zM309 309h7v7h-7zM154 324h7v7h-7zM199 334h12v7h-12z"/><path fill="#404040" d="M254 139h7v7h-7zM444 174h7v7h-7zM459 174h12v7h-12zM209 179h7v7h-7zM219 179h7v7h-7zM254 179h7v7h-7zM219 184h7v7h-7zM509 189h17v7h-17zM534 189h32v7h-32zM564 194h7v7h-7zM514 204h7v7h-7zM434 209h7v7h-7zM414 214h7v7h-7zM429 214h7v7h-7zM399 224h7v7h-7zM494 224h7v7h-7zM364 229h7v7h-7zM399 229h7v7h-7zM459 229h12v7h-12zM499 229h7v7h-7zM504 234h7v7h-7zM509 239h7v7h-7zM514 244h7v7h-7zM64 249h7v7h-7zM519 249h7v7h-7zM524 254h7v7h-7zM74 259h7v7h-7zM439 274h7v7h-7zM129 299h7v7h-7zM279 299h7v7h-7zM359 304h12v7h-12zM154 319h7v7h-7zM284 334h7v7h-7zM249 349h12v7h-12z"/><path fill="#444444" d="M289 89h12v7h-12zM269 109h12v7h-12zM269 114h12v7h-12zM299 129h12v7h-12zM269 134h12v7h-12zM299 134h12v7h-12zM299 139h12v7h-12zM299 144h12v7h-12zM319 149h12v7h-12zM319 154h12v7h-12zM529 184h22v7h-22zM564 189h7v7h-7zM509 199h7v7h-7zM444 204h22v7h-22zM409 214h7v7h-7zM389 219h12v7h-12zM404 219h7v7h-7zM469 219h12v7h-12zM489 219h7v7h-7zM269 224h12v7h-12zM319 224h12v7h-12zM389 224h12v7h-12zM404 224h7v7h-7zM54 229h7v7h-7zM44 234h17v7h-17zM54 239h7v7h-7zM79 239h12v7h-12zM79 244h12v7h-12zM389 259h12v7h-12zM109 269h12v7h-12zM219 269h12v7h-12zM219 274h12v7h-12zM149 289h12v7h-12zM149 294h12v7h-12zM259 299h7v7h-7zM309 304h7v7h-7zM199 319h12v7h-12zM289 339h12v7h-12zM289 344h12v7h-12z"/><path fill="#484848" d="M449 169h12v7h-12zM464 169h7v7h-7zM449 174h12v7h-12zM254 184h7v7h-7zM549 184h22v7h-22zM469 199h7v7h-7zM399 219h7v7h-7zM19 224h37v7h-37zM19 229h37v7h-37zM19 234h27v7h-27zM19 239h37v7h-37zM19 244h37v7h-37zM279 294h7v7h-7zM279 304h7v7h-7zM314 304h7v7h-7zM209 314h12v7h-12z"/><path fill="#4c4c4c" d="M369 -1h32v7h-32zM369 4h32v7h-32zM364 9h32v7h-32zM364 14h27v7h-27zM364 19h22v7h-22zM359 24h22v7h-22zM359 29h17v7h-17zM354 34h17v7h-17zM349 39h17v7h-17zM349 44h12v7h-12zM339 49h12v7h-12zM339 54h12v7h-12zM349 59h12v7h-12zM349 64h12v7h-12zM279 79h12v7h-12zM279 84h12v7h-12zM339 84h12v7h-12zM269 89h12v7h-12zM299 89h12v7h-12zM319 89h12v7h-12zM269 94h12v7h-12zM309 94h22v7h-22zM319 99h22v7h-22zM319 104h12v7h-12zM319 109h12v7h-12zM319 114h22v7h-22zM219 119h12v7h-12zM279 119h12v7h-12zM299 119h12v7h-12zM339 119h12v7h-12zM209 124h22v7h-22zM249 129h12v7h-12zM469 129h12v7h-12zM209 134h12v7h-12zM289 134h12v7h-12zM469 134h12v7h-12zM269 139h12v7h-12zM289 139h12v7h-12zM309 139h12v7h-12zM339 139h12v7h-12zM469 139h12v7h-12zM269 144h12v7h-12zM469 144h17v7h-17zM269 149h22v7h-22zM379 149h12v7h-12zM474 149h12v7h-12zM379 154h12v7h-12zM319 159h12v7h-12zM349 159h12v7h-12zM379 159h12v7h-12zM399 159h12v7h-12zM399 164h12v7h-12zM214 169h7v7h-7zM244 169h12v7h-12zM459 169h7v7h-7zM209 174h12v7h-12zM19 179h22v7h-22zM419 179h12v7h-12zM529 179h42v7h-42zM19 184h27v7h-27zM419 184h12v7h-12zM19 189h32v7h-32zM249 189h12v7h-12zM19 194h37v7h-37zM249 194h12v7h-12zM19 199h42v7h-42zM219 199h12v7h-12zM349 199h12v7h-12zM19 204h47v7h-47zM139 204h12v7h-12zM349 204h12v7h-12zM474 204h7v7h-7zM499 204h12v7h-12zM19 209h52v7h-52zM389 209h12v7h-12zM419 209h12v7h-12zM504 209h12v7h-12zM19 214h57v7h-57zM389 214h22v7h-22zM419 214h12v7h-12zM479 214h22v7h-22zM509 214h12v7h-12zM19 219h72v7h-72zM369 219h12v7h-12zM494 219h12v7h-12zM514 219h12v7h-12zM54 224h37v7h-37zM289 224h12v7h-12zM499 224h12v7h-12zM514 224h22v7h-22zM59 229h42v7h-42zM319 229h12v7h-12zM504 229h12v7h-12zM519 229h22v7h-22zM79 234h22v7h-22zM319 234h12v7h-12zM389 234h12v7h-12zM509 234h37v7h-37zM59 239h12v7h-12zM89 239h12v7h-12zM514 239h37v7h-37zM54 244h27v7h-27zM89 244h12v7h-12zM329 244h12v7h-12zM519 244h32v7h-32zM19 249h47v7h-47zM79 249h22v7h-22zM149 249h12v7h-12zM524 249h17v7h-17zM19 254h42v7h-42zM79 254h22v7h-22zM149 254h12v7h-12zM309 254h12v7h-12zM389 254h12v7h-12zM529 254h12v7h-12zM19 259h37v7h-37zM79 259h22v7h-22zM119 259h12v7h-12zM139 259h12v7h-12zM314 259h12v7h-12zM399 259h22v7h-22zM19 264h32v7h-32zM74 264h27v7h-27zM119 264h12v7h-12zM319 264h12v7h-12zM399 264h12v7h-12zM419 264h12v7h-12zM19 269h27v7h-27zM69 269h27v7h-27zM119 269h22v7h-22zM179 269h12v7h-12zM409 269h32v7h-32zM19 274h22v7h-22zM64 274h27v7h-27zM119 274h12v7h-12zM239 274h12v7h-12zM409 274h32v7h-32zM19 279h17v7h-17zM59 279h27v7h-27zM119 279h22v7h-22zM209 279h12v7h-12zM19 284h12v7h-12zM54 284h27v7h-27zM119 284h22v7h-22zM209 284h22v7h-22zM49 289h27v7h-27zM129 289h12v7h-12zM219 289h12v7h-12zM44 294h27v7h-27zM129 294h12v7h-12zM219 294h12v7h-12zM39 299h27v7h-27zM149 299h32v7h-32zM229 299h12v7h-12zM289 299h12v7h-12zM39 304h22v7h-22zM149 304h22v7h-22zM289 304h12v7h-12zM149 309h12v7h-12zM149 314h12v7h-12zM289 329h12v7h-12zM209 334h12v7h-12zM289 334h12v7h-12zM219 339h12v7h-12zM219 344h12v7h-12zM299 349h12v7h-12zM299 354h12v7h-12z"/><path fill="#505050" d="M364 4h7v7h-7zM359 9h7v7h-7zM359 14h7v7h-7zM359 19h7v7h-7zM354 24h7v7h-7zM354 29h7v7h-7zM359 64h12v7h-12zM269 79h12v7h-12zM269 84h12v7h-12zM289 84h12v7h-12zM329 89h22v7h-22zM329 94h22v7h-22zM419 104h12v7h-12zM239 109h12v7h-12zM259 109h12v7h-12zM399 109h12v7h-12zM229 114h22v7h-22zM259 114h12v7h-12zM389 114h12v7h-12zM239 124h12v7h-12zM419 124h12v7h-12zM399 129h12v7h-12zM419 129h12v7h-12zM459 129h12v7h-12zM339 134h12v7h-12zM389 134h12v7h-12zM419 134h12v7h-12zM459 134h12v7h-12zM249 139h7v7h-7zM389 139h12v7h-12zM419 139h12v7h-12zM459 139h12v7h-12zM279 144h12v7h-12zM399 144h12v7h-12zM419 144h12v7h-12zM199 154h7v7h-7zM349 154h12v7h-12zM369 154h12v7h-12zM359 159h12v7h-12zM169 164h12v7h-12zM359 164h12v7h-12zM449 164h17v7h-17zM349 169h12v7h-12zM419 174h12v7h-12zM224 179h7v7h-7zM489 179h12v7h-12zM519 179h12v7h-12zM139 184h12v7h-12zM224 184h7v7h-7zM244 184h7v7h-7zM489 184h12v7h-12zM204 189h7v7h-7zM419 194h12v7h-12zM99 199h12v7h-12zM339 199h12v7h-12zM449 199h12v7h-12zM99 204h12v7h-12zM229 204h12v7h-12zM269 204h12v7h-12zM329 204h22v7h-22zM379 204h12v7h-12zM269 209h12v7h-12zM329 209h12v7h-12zM409 209h7v7h-7zM514 209h7v7h-7zM269 214h12v7h-12zM319 214h22v7h-22zM369 214h12v7h-12zM504 214h7v7h-7zM519 214h7v7h-7zM504 219h12v7h-12zM524 219h7v7h-7zM219 224h12v7h-12zM509 224h7v7h-7zM359 229h7v7h-7zM404 229h7v7h-7zM514 229h7v7h-7zM99 234h12v7h-12zM279 234h12v7h-12zM99 239h12v7h-12zM99 244h12v7h-12zM279 244h12v7h-12zM109 249h12v7h-12zM209 249h12v7h-12zM109 254h12v7h-12zM139 254h12v7h-12zM399 254h12v7h-12zM419 254h12v7h-12zM129 259h12v7h-12zM129 264h12v7h-12zM179 264h12v7h-12zM239 279h12v7h-12zM239 284h12v7h-12zM239 289h32v7h-32zM159 294h12v7h-12zM229 294h22v7h-22zM189 299h12v7h-12zM264 299h7v7h-7zM299 299h12v7h-12zM314 299h12v7h-12zM189 304h12v7h-12zM299 304h12v7h-12zM209 324h12v7h-12zM229 329h12v7h-12zM219 334h12v7h-12zM239 344h12v7h-12zM269 354h12v7h-12z"/><path fill="#545454" d="M354 14h7v7h-7zM354 19h7v7h-7zM349 29h7v7h-7zM349 34h7v7h-7zM174 149h7v7h-7zM469 149h7v7h-7zM169 154h12v7h-12zM194 154h7v7h-7zM169 159h12v7h-12zM189 159h12v7h-12zM189 164h12v7h-12zM464 164h7v7h-7zM244 174h7v7h-7zM519 174h12v7h-12zM534 174h7v7h-7zM544 174h27v7h-27zM204 179h7v7h-7zM244 179h7v7h-7zM399 209h12v7h-12zM414 209h7v7h-7zM429 209h7v7h-7zM159 214h7v7h-7zM159 224h7v7h-7zM399 234h7v7h-7zM119 239h12v7h-12zM389 239h12v7h-12zM119 244h12v7h-12zM389 244h12v7h-12zM269 289h12v7h-12zM269 294h12v7h-12zM299 294h12v7h-12zM284 299h7v7h-7zM309 299h7v7h-7zM259 354h12v7h-12z"/><path fill="#585858" d="M394 9h7v7h-7zM389 14h7v7h-7zM384 19h7v7h-7zM349 24h7v7h-7zM379 24h7v7h-7zM374 29h7v7h-7zM369 34h7v7h-7zM339 99h12v7h-12zM339 104h12v7h-12zM249 124h12v7h-12zM399 124h12v7h-12zM449 139h12v7h-12zM479 139h7v7h-7zM349 144h12v7h-12zM449 159h12v7h-12zM464 159h7v7h-7zM529 174h7v7h-7zM539 174h7v7h-7zM39 179h7v7h-7zM124 179h7v7h-7zM44 184h7v7h-7zM49 189h7v7h-7zM54 194h7v7h-7zM499 194h12v7h-12zM59 199h7v7h-7zM119 199h7v7h-7zM64 204h7v7h-7zM409 204h7v7h-7zM509 204h7v7h-7zM69 209h7v7h-7zM499 209h7v7h-7zM74 214h7v7h-7zM499 214h7v7h-7zM229 239h12v7h-12zM324 259h7v7h-7zM309 294h7v7h-7z"/><path fill="#5c5c5c" d="M349 19h7v7h-7zM344 34h7v7h-7zM364 39h7v7h-7zM359 44h7v7h-7zM339 109h12v7h-12zM339 114h12v7h-12zM204 119h7v7h-7zM234 139h7v7h-7zM464 149h7v7h-7zM464 154h7v7h-7zM459 159h7v7h-7zM169 169h7v7h-7zM209 169h7v7h-7zM239 169h7v7h-7zM529 169h7v7h-7zM539 169h32v7h-32zM229 174h12v7h-12zM414 194h7v7h-7zM409 199h12v7h-12zM399 204h12v7h-12zM414 204h7v7h-7zM429 204h7v7h-7zM229 209h12v7h-12zM329 249h7v7h-7zM279 289h7v7h-7zM284 294h7v7h-7zM314 294h12v7h-12zM219 309h12v7h-12zM279 309h7v7h-7zM279 334h7v7h-7zM239 339h12v7h-12z"/><path fill="#606060" d="M169 69h32v7h-32zM349 69h12v7h-12zM174 74h32v7h-32zM349 74h12v7h-12zM179 79h32v7h-32zM339 79h12v7h-12zM184 84h27v7h-27zM189 89h22v7h-22zM309 89h12v7h-12zM194 94h17v7h-17zM199 99h17v7h-17zM199 104h17v7h-17zM329 104h12v7h-12zM199 109h22v7h-22zM329 109h12v7h-12zM419 109h12v7h-12zM204 114h17v7h-17zM419 114h12v7h-12zM209 119h12v7h-12zM204 124h7v7h-7zM279 124h12v7h-12zM339 124h12v7h-12zM479 124h7v7h-7zM209 129h12v7h-12zM289 129h12v7h-12zM309 129h12v7h-12zM429 129h12v7h-12zM309 134h12v7h-12zM209 144h12v7h-12zM349 164h12v7h-12zM544 164h27v7h-27zM444 169h7v7h-7zM534 169h7v7h-7zM219 174h12v7h-12zM134 179h7v7h-7zM239 184h7v7h-7zM369 199h12v7h-12zM419 199h12v7h-12zM479 199h12v7h-12zM499 199h12v7h-12zM219 204h12v7h-12zM369 204h12v7h-12zM419 204h12v7h-12zM479 204h12v7h-12zM89 209h12v7h-12zM309 209h12v7h-12zM479 209h22v7h-22zM89 214h12v7h-12zM309 214h12v7h-12zM409 239h12v7h-12zM409 244h12v7h-12zM389 249h12v7h-12zM319 254h7v7h-7zM209 269h12v7h-12zM239 269h12v7h-12zM129 274h12v7h-12zM209 274h12v7h-12zM249 279h12v7h-12zM249 284h12v7h-12zM209 329h12v7h-12z"/><path fill="#646464" d="M199 69h7v7h-7zM204 74h7v7h-7zM209 79h7v7h-7zM209 84h12v7h-12zM209 89h17v7h-17zM209 94h22v7h-22zM214 99h22v7h-22zM214 104h12v7h-12zM234 104h7v7h-7zM484 119h7v7h-7zM449 144h12v7h-12zM459 149h7v7h-7zM549 149h22v7h-22zM459 154h7v7h-7zM544 154h27v7h-27zM539 159h32v7h-32zM164 164h7v7h-7zM534 164h12v7h-12zM229 169h12v7h-12zM239 174h7v7h-7zM89 189h7v7h-7zM469 189h7v7h-7zM94 194h7v7h-7zM469 194h12v7h-12zM404 199h7v7h-7zM474 199h7v7h-7zM84 204h7v7h-7zM404 234h12v7h-12zM324 254h7v7h-7zM279 284h7v7h-7zM309 289h17v7h-17z"/><path fill="#686868" d="M399 9h12v7h-12zM394 14h17v7h-17zM239 19h22v7h-22zM389 19h17v7h-17zM239 24h27v7h-27zM344 24h7v7h-7zM384 24h17v7h-17zM239 29h32v7h-32zM344 29h7v7h-7zM379 29h17v7h-17zM244 34h32v7h-32zM374 34h17v7h-17zM249 39h32v7h-32zM339 39h12v7h-12zM369 39h17v7h-17zM439 39h22v7h-22zM254 44h32v7h-32zM339 44h12v7h-12zM364 44h17v7h-17zM434 44h27v7h-27zM259 49h32v7h-32zM349 49h27v7h-27zM429 49h32v7h-32zM199 54h12v7h-12zM264 54h32v7h-32zM349 54h27v7h-27zM424 54h47v7h-47zM199 59h17v7h-17zM269 59h32v7h-32zM339 59h12v7h-12zM359 59h22v7h-22zM419 59h47v7h-47zM199 64h22v7h-22zM269 64h32v7h-32zM339 64h12v7h-12zM369 64h12v7h-12zM414 64h47v7h-47zM204 69h22v7h-22zM264 69h37v7h-37zM329 69h22v7h-22zM409 69h47v7h-47zM499 69h12v7h-12zM209 74h22v7h-22zM269 74h32v7h-32zM329 74h22v7h-22zM404 74h47v7h-47zM494 74h17v7h-17zM214 79h22v7h-22zM289 79h52v7h-52zM409 79h37v7h-37zM489 79h32v7h-32zM219 84h22v7h-22zM299 84h42v7h-42zM409 84h32v7h-32zM484 84h37v7h-37zM224 89h22v7h-22zM409 89h27v7h-27zM479 89h52v7h-52zM229 94h22v7h-22zM259 94h12v7h-12zM389 94h12v7h-12zM409 94h27v7h-27zM474 94h57v7h-57zM234 99h17v7h-17zM259 99h12v7h-12zM389 99h12v7h-12zM409 99h32v7h-32zM469 99h62v7h-62zM224 104h12v7h-12zM239 104h12v7h-12zM259 104h12v7h-12zM379 104h22v7h-22zM409 104h12v7h-12zM429 104h12v7h-12zM464 104h67v7h-67zM219 109h22v7h-22zM389 109h12v7h-12zM429 109h12v7h-12zM459 109h102v7h-102zM219 114h12v7h-12zM399 114h22v7h-22zM429 114h12v7h-12zM459 114h102v7h-102zM239 119h12v7h-12zM289 119h12v7h-12zM389 119h12v7h-12zM409 119h32v7h-32zM459 119h27v7h-27zM489 119h72v7h-72zM289 124h12v7h-12zM389 124h12v7h-12zM409 124h12v7h-12zM429 124h12v7h-12zM449 124h32v7h-32zM484 124h77v7h-77zM279 129h12v7h-12zM339 129h12v7h-12zM379 129h22v7h-22zM409 129h12v7h-12zM439 129h22v7h-22zM479 129h92v7h-92zM279 134h12v7h-12zM379 134h12v7h-12zM399 134h22v7h-22zM439 134h22v7h-22zM479 134h92v7h-92zM159 139h22v7h-22zM199 139h7v7h-7zM209 139h22v7h-22zM279 139h12v7h-12zM379 139h12v7h-12zM399 139h12v7h-12zM439 139h12v7h-12zM484 139h87v7h-87zM59 144h12v7h-12zM164 144h17v7h-17zM224 144h12v7h-12zM379 144h22v7h-22zM439 144h12v7h-12zM459 144h12v7h-12zM484 144h87v7h-87zM59 149h17v7h-17zM169 149h7v7h-7zM189 149h17v7h-17zM209 149h7v7h-7zM299 149h12v7h-12zM349 149h32v7h-32zM389 149h42v7h-42zM449 149h12v7h-12zM484 149h67v7h-67zM59 154h22v7h-22zM189 154h7v7h-7zM209 154h7v7h-7zM244 154h7v7h-7zM359 154h12v7h-12zM389 154h22v7h-22zM419 154h12v7h-12zM449 154h12v7h-12zM489 154h57v7h-57zM49 159h37v7h-37zM164 159h7v7h-7zM239 159h12v7h-12zM389 159h12v7h-12zM419 159h12v7h-12zM489 159h52v7h-52zM49 164h42v7h-42zM209 164h22v7h-22zM239 164h12v7h-12zM329 164h12v7h-12zM419 164h12v7h-12zM489 164h12v7h-12zM509 164h27v7h-27zM39 169h57v7h-57zM139 169h12v7h-12zM199 169h12v7h-12zM219 169h12v7h-12zM399 169h12v7h-12zM419 169h12v7h-12zM489 169h12v7h-12zM509 169h22v7h-22zM39 174h62v7h-62zM129 174h22v7h-22zM199 174h12v7h-12zM349 174h12v7h-12zM399 174h12v7h-12zM489 174h12v7h-12zM509 174h12v7h-12zM44 179h62v7h-62zM139 179h12v7h-12zM199 179h7v7h-7zM239 179h7v7h-7zM349 179h12v7h-12zM399 179h12v7h-12zM479 179h12v7h-12zM509 179h12v7h-12zM49 184h62v7h-62zM349 184h12v7h-12zM474 184h17v7h-17zM509 184h12v7h-12zM54 189h37v7h-37zM94 189h17v7h-17zM229 189h12v7h-12zM259 189h12v7h-12zM329 189h32v7h-32zM389 189h12v7h-12zM414 189h17v7h-17zM474 189h27v7h-27zM59 194h37v7h-37zM99 194h12v7h-12zM204 194h7v7h-7zM229 194h12v7h-12zM259 194h12v7h-12zM329 194h32v7h-32zM389 194h17v7h-17zM479 194h22v7h-22zM64 199h37v7h-37zM159 199h7v7h-7zM209 199h12v7h-12zM229 199h12v7h-12zM249 199h32v7h-32zM309 199h32v7h-32zM379 199h27v7h-27zM489 199h12v7h-12zM69 204h17v7h-17zM89 204h12v7h-12zM159 204h12v7h-12zM209 204h12v7h-12zM249 204h22v7h-22zM309 204h22v7h-22zM389 204h12v7h-12zM489 204h12v7h-12zM74 209h17v7h-17zM99 209h12v7h-12zM159 209h7v7h-7zM219 209h12v7h-12zM249 209h12v7h-12zM319 209h12v7h-12zM369 209h12v7h-12zM79 214h12v7h-12zM89 219h12v7h-12zM129 219h12v7h-12zM159 219h7v7h-7zM219 219h12v7h-12zM279 219h12v7h-12zM359 219h12v7h-12zM89 224h12v7h-12zM279 224h12v7h-12zM359 224h12v7h-12zM99 229h12v7h-12zM269 229h22v7h-22zM159 234h7v7h-7zM239 234h12v7h-12zM269 234h12v7h-12zM309 234h12v7h-12zM159 239h12v7h-12zM239 239h12v7h-12zM269 239h22v7h-22zM399 239h12v7h-12zM159 244h12v7h-12zM269 244h12v7h-12zM399 244h12v7h-12zM119 249h12v7h-12zM139 249h12v7h-12zM159 249h22v7h-22zM219 249h12v7h-12zM239 249h12v7h-12zM399 249h22v7h-22zM119 254h12v7h-12zM169 254h12v7h-12zM209 254h22v7h-22zM239 254h12v7h-12zM409 254h12v7h-12zM169 259h32v7h-32zM209 259h22v7h-22zM239 259h12v7h-12zM169 264h12v7h-12zM189 264h12v7h-12zM209 264h22v7h-22zM239 264h12v7h-12zM159 269h12v7h-12zM159 274h12v7h-12zM159 279h22v7h-22zM259 279h12v7h-12zM159 284h22v7h-22zM259 284h12v7h-12zM284 284h12v7h-12zM159 289h22v7h-22zM229 289h12v7h-12zM284 289h27v7h-27zM169 294h12v7h-12zM259 294h12v7h-12zM289 294h12v7h-12zM199 309h12v7h-12zM199 314h12v7h-12zM209 319h12v7h-12zM229 324h12v7h-12zM219 329h12v7h-12zM269 334h12v7h-12zM299 339h12v7h-12zM269 344h12v7h-12zM299 344h12v7h-12zM269 349h12v7h-12z"/><path fill="#6c6c6c" d="M299 69h12v7h-12zM299 74h32v7h-32zM399 79h12v7h-12zM379 89h12v7h-12zM379 94h12v7h-12zM399 99h12v7h-12zM249 104h12v7h-12zM399 104h12v7h-12zM249 109h12v7h-12zM379 109h12v7h-12zM379 114h12v7h-12zM249 119h12v7h-12zM379 119h12v7h-12zM399 119h12v7h-12zM379 124h12v7h-12zM199 129h12v7h-12zM164 134h7v7h-7zM199 134h12v7h-12zM349 134h22v7h-22zM349 139h12v7h-12zM409 139h12v7h-12zM199 144h7v7h-7zM369 144h12v7h-12zM409 144h12v7h-12zM164 149h7v7h-7zM219 159h7v7h-7zM409 179h12v7h-12zM259 184h22v7h-22zM339 184h12v7h-12zM389 184h12v7h-12zM269 189h12v7h-12zM379 189h12v7h-12zM499 189h12v7h-12zM269 194h12v7h-12zM319 194h12v7h-12zM379 194h12v7h-12zM409 194h7v7h-7zM149 199h12v7h-12zM239 209h12v7h-12zM279 209h12v7h-12zM359 209h12v7h-12zM239 214h12v7h-12zM359 214h12v7h-12zM99 219h12v7h-12zM99 224h12v7h-12zM209 229h12v7h-12zM289 229h12v7h-12zM149 234h12v7h-12zM209 234h12v7h-12zM289 234h12v7h-12zM109 239h12v7h-12zM149 239h12v7h-12zM209 239h12v7h-12zM109 244h12v7h-12zM149 244h12v7h-12zM169 244h12v7h-12zM209 244h12v7h-12zM229 244h12v7h-12zM129 249h12v7h-12zM129 254h12v7h-12zM179 254h12v7h-12zM249 269h22v7h-22zM249 274h32v7h-32zM269 279h12v7h-12zM229 284h12v7h-12zM269 284h12v7h-12zM294 284h17v7h-17zM179 294h12v7h-12z"/><path fill="#707070" d="M374 49h7v7h-7zM264 74h7v7h-7zM379 84h12v7h-12zM434 89h7v7h-7zM434 94h7v7h-7zM439 124h12v7h-12zM179 139h7v7h-7zM189 139h12v7h-12zM179 144h12v7h-12zM194 144h7v7h-7zM244 149h7v7h-7zM224 154h7v7h-7zM269 164h12v7h-12zM129 169h12v7h-12zM189 169h12v7h-12zM229 179h7v7h-7zM499 179h12v7h-12zM229 184h7v7h-7zM359 184h12v7h-12zM444 184h7v7h-7zM499 184h12v7h-12zM399 189h7v7h-7zM149 194h12v7h-12zM404 194h7v7h-7zM229 214h12v7h-12zM109 219h12v7h-12zM229 219h12v7h-12zM109 224h12v7h-12zM229 224h12v7h-12zM229 229h12v7h-12zM229 234h12v7h-12zM139 244h12v7h-12zM229 249h12v7h-12zM269 249h12v7h-12zM324 249h7v7h-7zM309 284h7v7h-7zM199 304h12v7h-12zM269 309h12v7h-12zM269 314h12v7h-12zM269 339h12v7h-12z"/><path fill="#747474" d="M434 39h7v7h-7zM429 44h7v7h-7zM424 49h7v7h-7zM419 54h7v7h-7zM264 59h7v7h-7zM414 59h7v7h-7zM449 119h12v7h-12zM429 134h12v7h-12zM224 149h7v7h-7zM164 154h7v7h-7zM379 164h12v7h-12zM469 184h7v7h-7zM279 249h12v7h-12zM299 249h27v7h-27zM169 269h12v7h-12zM169 274h12v7h-12zM314 284h12v7h-12zM249 309h12v7h-12zM239 329h12v7h-12zM239 334h12v7h-12zM259 349h12v7h-12z"/><path fill="#787878" d="M379 44h7v7h-7zM374 54h7v7h-7zM409 64h7v7h-7zM439 84h7v7h-7zM204 139h7v7h-7zM244 139h7v7h-7zM244 144h7v7h-7zM214 149h7v7h-7zM214 154h7v7h-7zM229 154h7v7h-7zM239 154h7v7h-7zM209 159h12v7h-12zM429 169h7v7h-7zM199 184h7v7h-7zM164 199h7v7h-7zM164 234h7v7h-7zM319 269h7v7h-7zM229 314h12v7h-12zM249 339h12v7h-12zM249 344h12v7h-12z"/><path fill="#7c7c7c" d="M364 -1h7v7h-7zM339 29h7v7h-7zM384 39h7v7h-7zM404 69h7v7h-7zM389 84h12v7h-12zM259 89h12v7h-12zM389 89h22v7h-22zM399 94h12v7h-12zM439 94h7v7h-7zM379 99h12v7h-12zM409 109h12v7h-12zM239 129h12v7h-12zM439 149h12v7h-12zM159 164h7v7h-7zM259 164h12v7h-12zM389 164h12v7h-12zM499 164h12v7h-12zM159 169h12v7h-12zM399 184h12v7h-12zM404 189h7v7h-7zM239 199h12v7h-12zM239 204h12v7h-12zM209 209h12v7h-12zM299 209h12v7h-12zM99 214h12v7h-12zM209 214h22v7h-22zM249 214h12v7h-12zM299 214h12v7h-12zM149 219h12v7h-12zM149 224h12v7h-12zM219 229h12v7h-12zM239 229h12v7h-12zM219 234h12v7h-12zM219 239h12v7h-12zM219 244h12v7h-12zM239 244h12v7h-12zM289 249h12v7h-12zM159 254h12v7h-12zM279 279h7v7h-7zM219 314h12v7h-12zM279 314h7v7h-7zM229 319h12v7h-12zM269 329h17v7h-17zM249 334h12v7h-12z"/><path fill="#808080" d="M404 19h7v7h-7zM399 24h7v7h-7zM394 29h7v7h-7zM429 29h12v7h-12zM339 34h7v7h-7zM389 34h7v7h-7zM424 34h17v7h-17zM419 39h17v7h-17zM414 44h17v7h-17zM329 49h12v7h-12zM409 49h17v7h-17zM259 54h7v7h-7zM329 54h12v7h-12zM404 54h12v7h-12zM299 59h12v7h-12zM329 59h12v7h-12zM399 59h12v7h-12zM264 64h7v7h-7zM299 64h12v7h-12zM329 64h12v7h-12zM394 64h12v7h-12zM309 69h22v7h-22zM359 69h12v7h-12zM389 69h12v7h-12zM369 74h12v7h-12zM259 79h12v7h-12zM444 79h7v7h-7zM259 84h12v7h-12zM399 84h12v7h-12zM439 89h7v7h-7zM129 94h12v7h-12zM134 99h12v7h-12zM249 99h12v7h-12zM289 99h12v7h-12zM139 104h12v7h-12zM289 104h12v7h-12zM144 109h12v7h-12zM289 109h12v7h-12zM149 114h12v7h-12zM199 114h7v7h-7zM249 114h12v7h-12zM289 114h12v7h-12zM449 114h12v7h-12zM154 119h12v7h-12zM159 124h12v7h-12zM159 129h17v7h-17zM219 129h12v7h-12zM349 129h32v7h-32zM159 134h7v7h-7zM169 134h12v7h-12zM219 134h12v7h-12zM369 134h12v7h-12zM184 139h7v7h-7zM359 139h22v7h-22zM429 139h12v7h-12zM69 144h7v7h-7zM159 144h7v7h-7zM189 144h7v7h-7zM359 144h12v7h-12zM429 144h12v7h-12zM74 149h7v7h-7zM229 149h7v7h-7zM79 154h7v7h-7zM219 154h7v7h-7zM84 159h7v7h-7zM199 159h12v7h-12zM224 159h17v7h-17zM89 164h7v7h-7zM129 164h22v7h-22zM199 164h12v7h-12zM229 164h12v7h-12zM409 164h12v7h-12zM94 169h7v7h-7zM269 169h12v7h-12zM329 169h22v7h-22zM409 169h12v7h-12zM499 169h12v7h-12zM99 174h7v7h-7zM164 174h12v7h-12zM269 174h12v7h-12zM329 174h22v7h-22zM409 174h12v7h-12zM499 174h12v7h-12zM104 179h7v7h-7zM234 179h7v7h-7zM259 179h22v7h-22zM319 179h32v7h-32zM379 179h22v7h-22zM109 184h12v7h-12zM234 184h7v7h-7zM319 184h22v7h-22zM379 184h12v7h-12zM409 184h12v7h-12zM199 189h7v7h-7zM239 189h12v7h-12zM309 189h22v7h-22zM409 189h7v7h-7zM159 194h12v7h-12zM239 194h12v7h-12zM309 194h12v7h-12zM299 199h12v7h-12zM444 199h7v7h-7zM149 204h12v7h-12zM299 204h12v7h-12zM259 209h12v7h-12zM279 214h12v7h-12zM209 219h12v7h-12zM239 219h22v7h-22zM209 224h12v7h-12zM239 224h12v7h-12zM109 229h12v7h-12zM149 229h12v7h-12zM109 234h12v7h-12zM299 234h12v7h-12zM169 239h22v7h-22zM259 239h12v7h-12zM289 239h42v7h-42zM179 244h12v7h-12zM259 244h12v7h-12zM289 244h42v7h-42zM179 249h22v7h-22zM189 254h22v7h-22zM269 269h12v7h-12zM229 279h12v7h-12zM299 279h12v7h-12zM179 289h12v7h-12zM259 304h7v7h-7zM219 319h12v7h-12zM219 324h12v7h-12z"/><path fill="#838383" d="M414 54h7v7h-7zM319 59h12v7h-12zM409 59h7v7h-7zM309 64h22v7h-22zM399 74h7v7h-7zM379 79h12v7h-12zM349 119h12v7h-12zM439 119h12v7h-12zM349 124h22v7h-22zM439 164h12v7h-12zM259 169h12v7h-12zM259 174h12v7h-12zM379 174h22v7h-22zM309 184h12v7h-12zM149 189h12v7h-12zM279 189h12v7h-12zM279 194h12v7h-12zM299 194h12v7h-12zM279 199h12v7h-12zM359 199h12v7h-12zM279 204h12v7h-12zM359 204h12v7h-12zM139 234h12v7h-12zM129 239h22v7h-22zM129 244h12v7h-12zM229 254h12v7h-12zM269 264h12v7h-12zM314 264h7v7h-7zM229 274h12v7h-12zM309 279h17v7h-17zM179 284h12v7h-12zM189 294h12v7h-12zM199 299h12v7h-12zM264 304h7v7h-7zM259 344h12v7h-12z"/><path fill="#878787" d="M254 49h7v7h-7zM379 49h7v7h-7zM294 54h7v7h-7zM379 54h7v7h-7zM494 69h7v7h-7zM449 74h7v7h-7zM489 74h7v7h-7zM484 79h7v7h-7zM479 84h7v7h-7zM244 89h7v7h-7zM474 89h7v7h-7zM469 94h7v7h-7zM439 99h12v7h-12zM464 99h7v7h-7zM459 104h7v7h-7zM199 124h7v7h-7zM239 139h7v7h-7zM219 144h7v7h-7zM159 149h7v7h-7zM179 149h7v7h-7zM179 154h7v7h-7zM159 189h7v7h-7zM199 194h7v7h-7zM164 209h7v7h-7zM164 214h7v7h-7zM164 219h7v7h-7zM164 224h7v7h-7zM164 229h7v7h-7zM279 319h7v7h-7z"/><path fill="#8b8b8b" d="M259 19h7v7h-7zM264 24h7v7h-7zM269 29h7v7h-7zM424 29h7v7h-7zM239 34h7v7h-7zM274 34h7v7h-7zM419 34h7v7h-7zM244 39h7v7h-7zM279 39h7v7h-7zM414 39h7v7h-7zM249 44h7v7h-7zM284 44h7v7h-7zM409 44h7v7h-7zM289 49h7v7h-7zM404 49h7v7h-7zM209 54h7v7h-7zM399 54h7v7h-7zM214 59h7v7h-7zM394 59h7v7h-7zM219 64h7v7h-7zM404 64h7v7h-7zM224 69h7v7h-7zM454 69h7v7h-7zM229 74h7v7h-7zM234 79h7v7h-7zM369 79h12v7h-12zM239 84h7v7h-7zM249 94h12v7h-12zM449 109h12v7h-12zM179 134h12v7h-12zM159 154h7v7h-7zM439 169h7v7h-7zM189 174h7v7h-7zM119 184h7v7h-7zM119 189h7v7h-7zM179 274h12v7h-12zM199 294h12v7h-12zM279 324h7v7h-7z"/><path fill="#8f8f8f" d="M359 4h7v7h-7zM354 9h7v7h-7zM464 59h7v7h-7zM389 64h7v7h-7zM459 64h7v7h-7zM389 79h12v7h-12zM444 84h7v7h-7zM444 89h7v7h-7zM444 94h7v7h-7zM439 114h12v7h-12zM154 124h7v7h-7zM239 134h12v7h-12zM239 149h7v7h-7zM409 154h12v7h-12zM439 154h12v7h-12zM469 154h7v7h-7zM124 159h17v7h-17zM159 159h7v7h-7zM149 169h12v7h-12zM174 169h7v7h-7zM434 169h7v7h-7zM159 174h7v7h-7zM174 174h7v7h-7zM429 174h7v7h-7zM119 179h7v7h-7zM469 179h12v7h-12zM439 204h7v7h-7zM149 209h12v7h-12zM174 209h7v7h-7zM194 209h7v7h-7zM149 214h12v7h-12zM129 224h12v7h-12zM169 234h12v7h-12zM259 339h12v7h-12z"/><path fill="#939393" d="M349 14h7v7h-7zM384 44h7v7h-7zM384 49h7v7h-7zM369 69h12v7h-12zM399 69h7v7h-7zM174 129h7v7h-7zM124 154h7v7h-7zM289 159h12v7h-12zM409 159h12v7h-12zM289 164h12v7h-12zM124 174h7v7h-7zM109 179h12v7h-12zM109 189h12v7h-12zM109 194h17v7h-17zM109 199h12v7h-12zM429 199h7v7h-7zM109 204h12v7h-12zM289 209h12v7h-12zM289 214h12v7h-12zM194 219h7v7h-7zM249 224h12v7h-12zM199 249h12v7h-12zM309 259h7v7h-7zM309 274h7v7h-7zM269 319h12v7h-12zM269 324h12v7h-12z"/><path fill="#979797" d="M344 19h7v7h-7zM409 19h22v7h-22zM404 24h27v7h-27zM399 29h27v7h-27zM334 34h7v7h-7zM394 34h27v7h-27zM389 39h27v7h-27zM389 44h22v7h-22zM389 49h17v7h-17zM319 54h12v7h-12zM384 54h17v7h-17zM259 59h7v7h-7zM309 59h12v7h-12zM379 59h17v7h-17zM259 64h7v7h-7zM379 64h12v7h-12zM379 69h12v7h-12zM259 74h7v7h-7zM379 74h12v7h-12zM449 79h7v7h-7zM449 84h7v7h-7zM194 99h7v7h-7zM349 109h12v7h-12zM99 114h12v7h-12zM349 114h12v7h-12zM99 119h17v7h-17zM359 119h22v7h-22zM99 124h22v7h-22zM169 124h7v7h-7zM369 124h12v7h-12zM99 129h27v7h-27zM154 129h7v7h-7zM189 129h12v7h-12zM69 134h62v7h-62zM154 134h7v7h-7zM189 134h12v7h-12zM69 139h67v7h-67zM74 144h67v7h-67zM239 144h7v7h-7zM79 149h67v7h-67zM219 149h7v7h-7zM429 149h12v7h-12zM84 154h42v7h-42zM129 154h22v7h-22zM204 154h7v7h-7zM234 154h7v7h-7zM429 154h12v7h-12zM484 154h7v7h-7zM89 159h37v7h-37zM139 159h12v7h-12zM279 159h12v7h-12zM429 159h22v7h-22zM94 164h37v7h-37zM279 164h12v7h-12zM429 164h12v7h-12zM99 169h32v7h-32zM184 169h7v7h-7zM279 169h12v7h-12zM319 169h12v7h-12zM379 169h22v7h-22zM104 174h22v7h-22zM279 174h12v7h-12zM319 174h12v7h-12zM149 179h12v7h-12zM169 179h7v7h-7zM189 179h7v7h-7zM279 179h12v7h-12zM309 179h12v7h-12zM149 184h12v7h-12zM189 184h7v7h-7zM279 184h12v7h-12zM164 189h7v7h-7zM299 189h12v7h-12zM359 189h12v7h-12zM359 194h12v7h-12zM289 199h12v7h-12zM289 204h12v7h-12zM109 209h12v7h-12zM109 214h12v7h-12zM194 214h7v7h-7zM139 229h12v7h-12zM169 229h12v7h-12zM184 229h7v7h-7zM179 234h12v7h-12zM269 254h12v7h-12zM159 259h12v7h-12zM229 259h12v7h-12zM249 259h32v7h-32zM159 264h12v7h-12zM249 264h22v7h-22zM229 269h12v7h-12zM279 269h12v7h-12zM279 274h12v7h-12zM314 274h12v7h-12zM179 279h12v7h-12zM294 279h7v7h-7zM189 289h12v7h-12z"/><path fill="#9b9b9b" d="M449 89h7v7h-7zM449 94h7v7h-7zM149 119h7v7h-7zM164 119h7v7h-7zM234 144h7v7h-7zM149 174h12v7h-12zM434 204h7v7h-7zM249 329h12v7h-12z"/><path fill="#9f9f9f" d="M309 49h12v7h-12zM299 54h22v7h-22zM454 74h7v7h-7zM454 79h7v7h-7zM369 84h12v7h-12zM454 84h7v7h-7zM249 89h12v7h-12zM129 99h7v7h-7zM349 99h12v7h-12zM134 104h7v7h-7zM349 104h12v7h-12zM139 109h7v7h-7zM144 114h7v7h-7zM159 114h7v7h-7zM359 114h12v7h-12zM179 129h12v7h-12zM204 144h7v7h-7zM149 164h12v7h-12zM159 179h12v7h-12zM169 184h7v7h-7zM299 184h12v7h-12zM199 199h7v7h-7zM199 204h7v7h-7zM139 209h12v7h-12zM139 214h12v7h-12zM129 229h12v7h-12zM129 234h12v7h-12zM259 234h12v7h-12zM189 244h12v7h-12zM259 249h12v7h-12zM279 254h12v7h-12zM289 269h22v7h-22zM299 274h12v7h-12zM199 289h12v7h-12zM259 334h12v7h-12z"/><path fill="#a3a3a3" d="M339 24h7v7h-7zM469 59h7v7h-7zM464 64h12v7h-12zM459 69h12v7h-12zM459 74h12v7h-12zM459 79h7v7h-7zM459 84h7v7h-7zM454 89h7v7h-7zM139 94h7v7h-7zM189 94h7v7h-7zM144 99h7v7h-7zM149 104h7v7h-7zM154 109h7v7h-7zM169 189h7v7h-7zM174 199h7v7h-7zM194 199h7v7h-7zM174 204h7v7h-7zM194 204h7v7h-7zM169 224h7v7h-7zM249 229h12v7h-12zM284 279h7v7h-7z"/><path fill="#a7a7a7" d="M254 54h7v7h-7zM474 59h27v7h-27zM474 64h27v7h-27zM469 69h27v7h-27zM169 74h7v7h-7zM389 74h12v7h-12zM469 74h22v7h-22zM174 79h7v7h-7zM464 79h22v7h-22zM179 84h7v7h-7zM464 84h17v7h-17zM184 89h7v7h-7zM459 89h17v7h-17zM454 94h17v7h-17zM449 99h17v7h-17zM449 104h12v7h-12zM439 109h12v7h-12zM109 114h7v7h-7zM114 119h7v7h-7zM119 124h7v7h-7zM149 124h7v7h-7zM124 129h7v7h-7zM129 134h7v7h-7zM134 139h7v7h-7zM139 144h7v7h-7zM144 149h7v7h-7zM199 209h7v7h-7zM259 214h12v7h-12zM314 269h7v7h-7z"/><path fill="#ababab" d="M294 49h7v7h-7zM254 59h7v7h-7zM244 84h7v7h-7zM174 124h7v7h-7zM149 129h7v7h-7zM204 149h7v7h-7zM179 169h7v7h-7zM159 184h12v7h-12zM189 189h7v7h-7zM169 194h12v7h-12zM179 224h17v7h-17zM179 229h7v7h-7zM309 269h7v7h-7zM289 279h7v7h-7z"/><path fill="#afafaf" d="M334 29h7v7h-7zM244 44h7v7h-7zM289 44h7v7h-7zM249 49h7v7h-7zM319 49h12v7h-12zM249 54h7v7h-7zM239 79h7v7h-7zM439 104h12v7h-12zM139 114h7v7h-7zM144 119h7v7h-7zM144 124h7v7h-7zM234 149h7v7h-7zM204 199h7v7h-7zM204 204h7v7h-7zM199 214h7v7h-7zM229 264h12v7h-12z"/><path fill="#b3b3b3" d="M259 -1h12v7h-12zM259 4h17v7h-17zM259 9h22v7h-22zM259 14h27v7h-27zM264 19h27v7h-27zM269 24h27v7h-27zM274 29h27v7h-27zM209 34h32v7h-32zM279 34h27v7h-27zM209 39h37v7h-37zM284 39h37v7h-37zM329 39h12v7h-12zM209 44h37v7h-37zM294 44h47v7h-47zM209 49h42v7h-42zM299 49h12v7h-12zM214 54h37v7h-37zM219 59h37v7h-37zM224 64h37v7h-37zM229 69h37v7h-37zM234 74h27v7h-27zM244 79h17v7h-17zM249 84h12v7h-12zM109 99h22v7h-22zM109 104h27v7h-27zM109 109h32v7h-32zM359 109h22v7h-22zM114 114h27v7h-27zM369 114h12v7h-12zM119 119h27v7h-27zM179 119h12v7h-12zM194 119h12v7h-12zM124 124h22v7h-22zM179 124h22v7h-22zM129 129h22v7h-22zM134 134h22v7h-22zM139 139h22v7h-22zM144 144h17v7h-17zM309 144h12v7h-12zM149 149h12v7h-12zM149 154h12v7h-12zM149 159h12v7h-12zM309 169h12v7h-12zM309 174h12v7h-12zM299 179h12v7h-12zM174 189h7v7h-7zM289 189h12v7h-12zM189 194h12v7h-12zM289 194h12v7h-12zM189 199h7v7h-7zM169 204h7v7h-7zM169 209h7v7h-7zM169 214h12v7h-12zM139 219h12v7h-12zM169 219h27v7h-27zM139 224h12v7h-12zM174 224h7v7h-7zM259 229h12v7h-12zM189 239h22v7h-22zM199 244h12v7h-12zM249 249h12v7h-12zM249 254h22v7h-22zM299 254h12v7h-12zM279 259h12v7h-12zM279 264h12v7h-12zM289 274h12v7h-12zM189 279h12v7h-12zM189 284h12v7h-12zM259 329h12v7h-12z"/><path fill="#b7b7b7" d="M304 34h17v7h-17zM349 94h12v7h-12zM359 104h22v7h-22zM169 119h7v7h-7zM189 119h7v7h-7zM299 154h12v7h-12zM299 169h12v7h-12zM299 174h12v7h-12zM289 184h12v7h-12zM259 219h12v7h-12zM259 224h12v7h-12zM289 254h12v7h-12zM289 264h12v7h-12zM189 274h12v7h-12zM199 279h12v7h-12zM199 284h12v7h-12zM239 319h12v7h-12zM239 324h22v7h-22z"/><path fill="#bbbbbb" d="M269 -1h7v7h-7zM299 29h7v7h-7zM194 114h7v7h-7zM174 119h7v7h-7zM184 149h7v7h-7zM179 159h7v7h-7zM179 164h12v7h-12zM469 174h12v7h-12zM174 179h7v7h-7zM179 189h7v7h-7zM194 189h7v7h-7zM189 214h7v7h-7zM309 264h7v7h-7z"/><path fill="#bfbfbf" d="M274 4h7v7h-7zM279 9h7v7h-7zM284 14h7v7h-7zM289 19h7v7h-7zM294 24h7v7h-7zM329 34h7v7h-7zM164 114h7v7h-7zM174 114h7v7h-7zM189 114h7v7h-7zM194 174h7v7h-7zM239 309h12v7h-12zM249 314h12v7h-12z"/><path fill="#c3c3c3" d="M304 29h7v7h-7zM159 109h7v7h-7zM169 114h7v7h-7zM174 184h7v7h-7zM169 199h7v7h-7zM189 204h7v7h-7zM189 209h7v7h-7z"/><path fill="#c7c7c7" d="M299 24h7v7h-7zM319 39h12v7h-12zM349 79h12v7h-12zM349 84h12v7h-12zM154 104h17v7h-17zM164 109h12v7h-12zM194 109h7v7h-7zM299 159h12v7h-12zM299 164h12v7h-12zM179 174h12v7h-12zM299 259h12v7h-12zM299 264h12v7h-12zM249 319h12v7h-12z"/><path fill="#cbcbcb" d="M274 -1h92v7h-92zM279 4h82v7h-82zM284 9h72v7h-72zM289 14h62v7h-62zM294 19h52v7h-52zM304 24h37v7h-37zM309 29h27v7h-27zM319 34h12v7h-12zM139 74h32v7h-32zM139 79h37v7h-37zM139 84h42v7h-42zM139 89h47v7h-47zM349 89h32v7h-32zM144 94h47v7h-47zM359 94h22v7h-22zM149 99h47v7h-47zM359 99h22v7h-22zM169 104h32v7h-32zM174 109h22v7h-22zM179 114h12v7h-12zM309 149h12v7h-12zM184 154h7v7h-7zM309 154h12v7h-12zM184 159h7v7h-7zM309 159h12v7h-12zM309 164h12v7h-12zM289 169h12v7h-12zM289 174h12v7h-12zM179 179h12v7h-12zM194 179h7v7h-7zM289 179h12v7h-12zM179 184h12v7h-12zM194 184h7v7h-7zM184 189h7v7h-7zM179 204h12v7h-12zM179 209h12v7h-12zM204 209h7v7h-7zM179 214h12v7h-12zM194 224h17v7h-17zM189 229h22v7h-22zM189 234h22v7h-22zM249 234h12v7h-12zM249 239h12v7h-12zM249 244h12v7h-12zM289 259h12v7h-12zM189 269h22v7h-22zM199 274h12v7h-12zM239 314h12v7h-12zM259 314h12v7h-12zM259 319h12v7h-12zM259 324h12v7h-12z"/><path fill="#cfcfcf" d="M359 84h12v7h-12z"/><path fill="#d3d3d3" d="M179 194h7v7h-7zM179 199h12v7h-12zM199 219h7v7h-7z"/><path fill="#d7d7d7" d="M469 169h7v7h-7z"/><path fill="#dfdfdf" d="M259 309h12v7h-12z"/><path fill="#e3e3e3" d="M184 194h7v7h-7zM204 214h7v7h-7zM204 219h7v7h-7z"/><path fill="#e7e7e7" d="M359 74h12v7h-12zM359 79h12v7h-12zM474 154h12v7h-12zM469 159h22v7h-22zM469 164h22v7h-22zM474 169h17v7h-17zM434 174h12v7h-12zM479 174h12v7h-12zM429 179h17v7h-17zM429 184h17v7h-17zM429 189h22v7h-22zM429 194h22v7h-22zM434 199h12v7h-12zM199 259h12v7h-12zM199 264h12v7h-12z"/></g></g>
<g clip-path="url(#clipB)"><g filter="url(#fb)"><path fill="#181818" d="M289 519h22v7h-22zM289 524h22v7h-22z"/><path fill="#282828" d="M239 669h12v7h-12zM239 674h12v7h-12z"/><path fill="#343434" d="M289 499h12v7h-12zM289 504h12v7h-12zM289 509h22v7h-22zM289 514h22v7h-22zM279 519h12v7h-12zM279 524h12v7h-12zM279 529h12v7h-12zM279 534h12v7h-12zM239 659h12v7h-12zM239 664h12v7h-12zM49 669h12v7h-12zM44 674h17v7h-17zM34 679h22v7h-22zM19 684h32v7h-32zM9 689h42v7h-42zM9 694h37v7h-37zM9 699h37v7h-37zM9 704h32v7h-32zM9 709h27v7h-27zM9 714h22v7h-22z"/><path fill="#383838" d="M39 674h7v7h-7zM19 679h17v7h-17zM9 684h12v7h-12zM49 684h7v7h-7zM44 694h7v7h-7z"/><path fill="#3c3c3c" d="M34 674h7v7h-7zM9 679h12v7h-12zM49 689h7v7h-7z"/><path fill="#404040" d="M14 674h22v7h-22z"/><path fill="#444444" d="M9 674h7v7h-7z"/><path fill="#484848" d="M29 669h22v7h-22zM54 679h7v7h-7zM54 684h7v7h-7z"/><path fill="#4c4c4c" d="M279 499h12v7h-12zM299 499h12v7h-12zM279 504h12v7h-12zM299 504h12v7h-12zM279 509h12v7h-12zM279 514h12v7h-12zM259 519h12v7h-12zM259 524h12v7h-12zM289 529h12v7h-12zM289 534h12v7h-12zM539 559h22v7h-22zM534 564h27v7h-27zM529 569h32v7h-32zM524 574h37v7h-37zM519 579h42v7h-42zM514 584h47v7h-47zM229 589h12v7h-12zM339 589h12v7h-12zM509 589h52v7h-52zM229 594h12v7h-12zM339 594h12v7h-12zM504 594h57v7h-57zM499 599h62v7h-62zM499 604h62v7h-62zM499 609h62v7h-62zM499 614h62v7h-62zM504 619h57v7h-57zM509 624h52v7h-52zM514 629h47v7h-47zM519 634h42v7h-42zM89 639h12v7h-12zM524 639h37v7h-37zM89 644h12v7h-12zM529 644h32v7h-32zM534 649h17v7h-17zM539 654h12v7h-12zM249 659h12v7h-12zM249 664h12v7h-12zM9 669h22v7h-22zM239 779h12v7h-12zM234 784h17v7h-17zM229 789h17v7h-17zM249 789h12v7h-12zM224 794h17v7h-17zM244 794h22v7h-22zM219 799h52v7h-52zM214 804h62v7h-62zM209 809h72v7h-72zM204 814h82v7h-82zM199 819h92v7h-92zM199 824h97v7h-97zM209 829h92v7h-92zM209 834h92v7h-92z"/><path fill="#505050" d="M39 704h7v7h-7zM34 709h7v7h-7zM29 714h7v7h-7zM239 794h7v7h-7z"/><path fill="#545454" d="M284 494h7v7h-7zM9 664h12v7h-12zM49 694h7v7h-7zM44 699h7v7h-7zM244 789h7v7h-7z"/><path fill="#585858" d="M279 494h7v7h-7zM89 634h7v7h-7zM19 664h22v7h-22zM54 689h7v7h-7z"/><path fill="#5c5c5c" d="M99 639h12v7h-12zM99 644h12v7h-12zM39 664h12v7h-12zM59 679h7v7h-7zM219 794h7v7h-7zM214 799h7v7h-7zM269 799h7v7h-7zM209 804h7v7h-7zM274 804h7v7h-7zM204 809h7v7h-7zM279 809h7v7h-7zM199 814h7v7h-7zM284 814h7v7h-7zM289 819h7v7h-7zM294 824h7v7h-7z"/><path fill="#606060" d="M94 634h7v7h-7zM9 659h22v7h-22zM229 784h7v7h-7zM224 789h7v7h-7zM259 789h7v7h-7zM264 794h7v7h-7z"/><path fill="#646464" d="M274 489h12v7h-12zM274 494h7v7h-7zM504 624h7v7h-7zM84 629h7v7h-7zM509 629h7v7h-7zM84 634h7v7h-7zM514 634h7v7h-7zM519 639h7v7h-7zM524 644h7v7h-7zM529 649h7v7h-7zM9 654h7v7h-7zM534 654h7v7h-7zM29 659h12v7h-12zM59 684h7v7h-7zM234 779h7v7h-7z"/><path fill="#686868" d="M269 484h12v7h-12zM79 624h7v7h-7zM89 629h7v7h-7zM14 654h17v7h-17zM39 659h7v7h-7zM249 774h7v7h-7z"/><path fill="#6c6c6c" d="M249 464h12v7h-12zM254 469h12v7h-12zM254 474h17v7h-17zM259 479h17v7h-17zM264 484h7v7h-7zM269 489h7v7h-7zM254 514h7v7h-7zM59 604h7v7h-7zM64 609h7v7h-7zM64 614h12v7h-12zM69 619h12v7h-12zM74 624h7v7h-7zM79 629h7v7h-7zM9 634h7v7h-7zM9 639h17v7h-17zM9 644h22v7h-22zM9 649h27v7h-27zM29 654h12v7h-12z"/><path fill="#707070" d="M249 449h12v7h-12zM249 454h17v7h-17zM229 459h42v7h-42zM229 464h22v7h-22zM259 464h17v7h-17zM234 469h22v7h-22zM264 469h17v7h-17zM239 474h17v7h-17zM269 474h17v7h-17zM209 479h12v7h-12zM244 479h17v7h-17zM274 479h17v7h-17zM209 484h17v7h-17zM249 484h17v7h-17zM279 484h17v7h-17zM199 489h32v7h-32zM254 489h17v7h-17zM284 489h17v7h-17zM199 494h37v7h-37zM259 494h17v7h-17zM289 494h12v7h-12zM204 499h37v7h-37zM264 499h17v7h-17zM209 504h37v7h-37zM269 504h12v7h-12zM214 509h42v7h-42zM269 509h12v7h-12zM219 514h37v7h-37zM269 514h12v7h-12zM159 519h12v7h-12zM224 519h37v7h-37zM269 519h12v7h-12zM159 524h17v7h-17zM224 524h37v7h-37zM269 524h12v7h-12zM164 529h17v7h-17zM229 529h22v7h-22zM259 529h12v7h-12zM349 529h12v7h-12zM169 534h17v7h-17zM229 534h22v7h-22zM259 534h12v7h-12zM349 534h12v7h-12zM174 539h17v7h-17zM229 539h22v7h-22zM179 544h17v7h-17zM229 544h22v7h-22zM109 549h22v7h-22zM184 549h17v7h-17zM229 549h22v7h-22zM349 549h12v7h-12zM109 554h27v7h-27zM189 554h17v7h-17zM229 554h22v7h-22zM349 554h12v7h-12zM114 559h27v7h-27zM194 559h37v7h-37zM239 559h12v7h-12zM359 559h12v7h-12zM119 564h27v7h-27zM199 564h32v7h-32zM239 564h12v7h-12zM359 564h12v7h-12zM124 569h27v7h-27zM199 569h32v7h-32zM239 569h12v7h-12zM129 574h27v7h-27zM199 574h32v7h-32zM239 574h12v7h-12zM69 579h12v7h-12zM134 579h27v7h-27zM189 579h12v7h-12zM219 579h32v7h-32zM359 579h12v7h-12zM69 584h17v7h-17zM139 584h27v7h-27zM189 584h12v7h-12zM219 584h32v7h-32zM359 584h12v7h-12zM74 589h17v7h-17zM144 589h27v7h-27zM219 589h12v7h-12zM79 594h17v7h-17zM149 594h22v7h-22zM219 594h12v7h-12zM39 599h22v7h-22zM84 599h17v7h-17zM149 599h12v7h-12zM309 599h12v7h-12zM349 599h12v7h-12zM39 604h22v7h-22zM89 604h17v7h-17zM149 604h12v7h-12zM309 604h12v7h-12zM349 604h12v7h-12zM44 609h22v7h-22zM94 609h17v7h-17zM139 609h12v7h-12zM159 609h12v7h-12zM49 614h17v7h-17zM99 614h17v7h-17zM139 614h12v7h-12zM159 614h12v7h-12zM9 619h12v7h-12zM54 619h17v7h-17zM79 619h7v7h-7zM104 619h37v7h-37zM159 619h12v7h-12zM189 619h12v7h-12zM9 624h17v7h-17zM59 624h17v7h-17zM84 624h7v7h-7zM109 624h32v7h-32zM159 624h12v7h-12zM189 624h12v7h-12zM9 629h22v7h-22zM64 629h17v7h-17zM109 629h32v7h-32zM149 629h22v7h-22zM189 629h12v7h-12zM369 629h12v7h-12zM14 634h22v7h-22zM69 634h17v7h-17zM109 634h32v7h-32zM149 634h22v7h-22zM189 634h12v7h-12zM369 634h12v7h-12zM24 639h17v7h-17zM74 639h17v7h-17zM109 639h22v7h-22zM319 639h12v7h-12zM29 644h17v7h-17zM79 644h12v7h-12zM109 644h22v7h-22zM319 644h12v7h-12zM34 649h17v7h-17zM79 649h22v7h-22zM169 649h42v7h-42zM39 654h17v7h-17zM79 654h22v7h-22zM169 654h42v7h-42zM44 659h27v7h-27zM79 659h12v7h-12zM119 659h12v7h-12zM49 664h22v7h-22zM79 664h12v7h-12zM119 664h12v7h-12zM59 669h22v7h-22zM59 674h22v7h-22zM64 679h27v7h-27zM64 684h27v7h-27zM59 689h52v7h-52zM54 694h57v7h-57zM49 699h72v7h-72zM44 704h77v7h-77zM39 709h92v7h-92zM34 714h97v7h-97zM29 719h102v7h-102zM139 719h12v7h-12zM29 724h122v7h-122zM39 729h122v7h-122zM39 734h122v7h-122zM59 739h102v7h-102zM169 739h12v7h-12zM59 744h122v7h-122zM79 749h97v7h-97zM189 749h12v7h-12zM79 754h97v7h-97zM184 754h17v7h-17zM99 759h97v7h-97zM99 764h92v7h-92zM109 769h77v7h-77zM219 769h12v7h-12zM239 769h17v7h-17zM109 774h72v7h-72zM214 774h17v7h-17zM239 774h12v7h-12zM129 779h47v7h-47zM209 779h27v7h-27zM249 779h22v7h-22zM129 784h42v7h-42zM204 784h27v7h-27zM249 784h27v7h-27zM149 789h17v7h-17zM199 789h27v7h-27zM264 789h17v7h-17zM149 794h12v7h-12zM194 794h27v7h-27zM269 794h17v7h-17zM189 799h27v7h-27zM274 799h17v7h-17zM184 804h27v7h-27zM279 804h17v7h-17zM179 809h27v7h-27zM284 809h17v7h-17zM179 814h22v7h-22zM289 814h17v7h-17zM294 819h17v7h-17zM299 824h12v7h-12z"/><path fill="#747474" d="M229 469h7v7h-7zM234 474h7v7h-7zM219 479h7v7h-7zM239 479h7v7h-7zM224 484h7v7h-7zM244 484h7v7h-7zM229 489h7v7h-7zM249 489h7v7h-7zM234 494h7v7h-7zM254 494h7v7h-7zM199 499h7v7h-7zM239 499h7v7h-7zM259 499h7v7h-7zM204 504h7v7h-7zM244 504h7v7h-7zM264 504h7v7h-7zM209 509h7v7h-7zM214 514h7v7h-7zM219 519h7v7h-7zM224 529h7v7h-7zM224 534h7v7h-7zM129 549h7v7h-7zM134 554h7v7h-7zM139 559h7v7h-7zM144 564h7v7h-7zM194 564h7v7h-7zM149 569h7v7h-7zM154 574h7v7h-7zM159 579h7v7h-7zM164 584h7v7h-7zM69 589h7v7h-7zM74 594h7v7h-7zM144 594h7v7h-7zM59 599h7v7h-7zM79 599h7v7h-7zM339 599h12v7h-12zM64 604h7v7h-7zM84 604h7v7h-7zM339 604h12v7h-12zM39 609h7v7h-7zM69 609h7v7h-7zM89 609h7v7h-7zM44 614h7v7h-7zM74 614h7v7h-7zM94 614h7v7h-7zM19 619h7v7h-7zM49 619h7v7h-7zM99 619h7v7h-7zM499 619h7v7h-7zM24 624h7v7h-7zM54 624h7v7h-7zM104 624h7v7h-7zM29 629h7v7h-7zM59 629h7v7h-7zM34 634h7v7h-7zM64 634h7v7h-7zM39 639h7v7h-7zM69 639h7v7h-7zM129 639h12v7h-12zM44 644h7v7h-7zM74 644h7v7h-7zM129 644h12v7h-12zM49 649h7v7h-7zM119 649h22v7h-22zM54 654h7v7h-7zM119 654h22v7h-22zM79 669h32v7h-32zM79 674h32v7h-32zM129 719h12v7h-12zM149 719h12v7h-12zM149 724h12v7h-12zM159 739h12v7h-12zM174 749h7v7h-7zM174 754h12v7h-12zM194 759h7v7h-7zM189 764h7v7h-7zM249 764h7v7h-7zM184 769h7v7h-7zM214 769h7v7h-7zM229 769h12v7h-12zM179 774h7v7h-7zM209 774h7v7h-7zM229 774h12v7h-12zM254 774h7v7h-7zM174 779h7v7h-7zM204 779h7v7h-7zM169 784h7v7h-7zM199 784h7v7h-7zM164 789h7v7h-7zM194 789h7v7h-7zM159 794h7v7h-7zM189 794h7v7h-7zM184 799h7v7h-7zM179 804h7v7h-7z"/><path fill="#787878" d="M369 459h32v7h-32zM364 464h37v7h-37zM219 469h12v7h-12zM364 469h32v7h-32zM219 474h17v7h-17zM364 474h27v7h-27zM224 479h17v7h-17zM364 479h22v7h-22zM229 484h17v7h-17zM359 484h22v7h-22zM234 489h17v7h-17zM359 489h17v7h-17zM239 494h17v7h-17zM354 494h17v7h-17zM179 499h22v7h-22zM244 499h17v7h-17zM329 499h12v7h-12zM349 499h17v7h-17zM179 504h27v7h-27zM249 504h17v7h-17zM329 504h12v7h-12zM349 504h12v7h-12zM184 509h27v7h-27zM254 509h17v7h-17zM349 509h12v7h-12zM189 514h27v7h-27zM259 514h12v7h-12zM349 514h12v7h-12zM194 519h27v7h-27zM349 519h12v7h-12zM369 519h12v7h-12zM199 524h27v7h-27zM349 524h12v7h-12zM369 524h12v7h-12zM204 529h22v7h-22zM249 529h12v7h-12zM269 529h12v7h-12zM359 529h22v7h-22zM209 534h17v7h-17zM249 534h12v7h-12zM269 534h12v7h-12zM359 534h22v7h-22zM129 539h12v7h-12zM214 539h17v7h-17zM259 539h12v7h-12zM279 539h22v7h-22zM349 539h12v7h-12zM129 544h17v7h-17zM219 544h12v7h-12zM259 544h12v7h-12zM279 544h22v7h-22zM349 544h12v7h-12zM134 549h17v7h-17zM219 549h12v7h-12zM279 549h12v7h-12zM359 549h12v7h-12zM139 554h17v7h-17zM219 554h12v7h-12zM279 554h12v7h-12zM359 554h12v7h-12zM144 559h17v7h-17zM189 559h7v7h-7zM229 559h12v7h-12zM289 559h12v7h-12zM339 559h22v7h-22zM149 564h17v7h-17zM229 564h12v7h-12zM289 564h12v7h-12zM339 564h22v7h-22zM154 569h17v7h-17zM189 569h12v7h-12zM229 569h12v7h-12zM249 569h12v7h-12zM349 569h12v7h-12zM159 574h17v7h-17zM189 574h12v7h-12zM229 574h12v7h-12zM249 574h12v7h-12zM349 574h12v7h-12zM164 579h27v7h-27zM199 579h12v7h-12zM169 584h22v7h-22zM199 584h12v7h-12zM59 589h12v7h-12zM139 589h7v7h-7zM179 589h22v7h-22zM239 589h12v7h-12zM269 589h12v7h-12zM359 589h12v7h-12zM59 594h17v7h-17zM179 594h22v7h-22zM239 594h12v7h-12zM269 594h12v7h-12zM359 594h12v7h-12zM64 599h17v7h-17zM139 599h12v7h-12zM159 599h12v7h-12zM269 599h12v7h-12zM359 599h12v7h-12zM69 604h17v7h-17zM139 604h12v7h-12zM159 604h12v7h-12zM269 604h12v7h-12zM359 604h12v7h-12zM19 609h22v7h-22zM74 609h17v7h-17zM129 609h12v7h-12zM149 609h12v7h-12zM269 609h12v7h-12zM19 614h27v7h-27zM79 614h17v7h-17zM129 614h12v7h-12zM149 614h12v7h-12zM269 614h12v7h-12zM24 619h27v7h-27zM84 619h17v7h-17zM139 619h22v7h-22zM169 619h12v7h-12zM369 619h12v7h-12zM489 619h12v7h-12zM29 624h27v7h-27zM89 624h17v7h-17zM139 624h22v7h-22zM169 624h12v7h-12zM369 624h12v7h-12zM489 624h17v7h-17zM34 629h27v7h-27zM94 629h17v7h-17zM139 629h12v7h-12zM169 629h22v7h-22zM494 629h17v7h-17zM39 634h27v7h-27zM99 634h12v7h-12zM139 634h12v7h-12zM169 634h22v7h-22zM499 634h17v7h-17zM44 639h27v7h-27zM169 639h12v7h-12zM189 639h12v7h-12zM209 639h12v7h-12zM269 639h12v7h-12zM369 639h12v7h-12zM459 639h12v7h-12zM499 639h22v7h-22zM49 644h27v7h-27zM169 644h12v7h-12zM189 644h12v7h-12zM209 644h12v7h-12zM269 644h12v7h-12zM369 644h12v7h-12zM459 644h17v7h-17zM504 644h22v7h-22zM54 649h27v7h-27zM99 649h12v7h-12zM159 649h12v7h-12zM239 649h12v7h-12zM299 649h12v7h-12zM439 649h12v7h-12zM464 649h17v7h-17zM504 649h27v7h-27zM59 654h22v7h-22zM99 654h12v7h-12zM159 654h12v7h-12zM239 654h12v7h-12zM299 654h12v7h-12zM439 654h17v7h-17zM464 654h22v7h-22zM509 654h27v7h-27zM69 659h12v7h-12zM89 659h22v7h-22zM169 659h12v7h-12zM189 659h12v7h-12zM229 659h12v7h-12zM444 659h47v7h-47zM514 659h27v7h-27zM69 664h12v7h-12zM89 664h22v7h-22zM169 664h12v7h-12zM189 664h12v7h-12zM229 664h12v7h-12zM449 664h47v7h-47zM519 664h22v7h-22zM109 669h12v7h-12zM159 669h12v7h-12zM179 669h12v7h-12zM229 669h12v7h-12zM249 669h12v7h-12zM409 669h12v7h-12zM449 669h52v7h-52zM109 674h12v7h-12zM159 674h12v7h-12zM179 674h12v7h-12zM229 674h12v7h-12zM249 674h12v7h-12zM409 674h17v7h-17zM454 674h52v7h-52zM89 679h32v7h-32zM239 679h12v7h-12zM349 679h12v7h-12zM414 679h17v7h-17zM454 679h57v7h-57zM89 684h32v7h-32zM239 684h12v7h-12zM349 684h12v7h-12zM419 684h17v7h-17zM459 684h52v7h-52zM119 689h12v7h-12zM359 689h12v7h-12zM419 689h22v7h-22zM464 689h27v7h-27zM119 694h12v7h-12zM354 694h17v7h-17zM424 694h22v7h-22zM469 694h22v7h-22zM119 699h12v7h-12zM349 699h17v7h-17zM424 699h27v7h-27zM119 704h12v7h-12zM349 704h12v7h-12zM429 704h27v7h-27zM129 709h22v7h-22zM354 709h7v7h-7zM434 709h27v7h-27zM129 714h22v7h-22zM439 714h22v7h-22zM159 729h12v7h-12zM159 734h12v7h-12zM199 759h22v7h-22zM239 759h12v7h-12zM194 764h27v7h-27zM239 764h12v7h-12zM254 764h12v7h-12zM189 769h27v7h-27zM254 769h17v7h-17zM184 774h27v7h-27zM259 774h12v7h-12zM179 779h27v7h-27zM269 779h7v7h-7zM174 784h27v7h-27zM274 784h7v7h-7zM169 789h27v7h-27zM279 789h7v7h-7zM164 794h27v7h-27zM284 794h7v7h-7zM159 799h27v7h-27zM289 799h7v7h-7zM159 804h22v7h-22zM294 804h7v7h-7zM299 809h7v7h-7zM304 814h7v7h-7z"/><path fill="#7c7c7c" d="M359 469h7v7h-7zM394 469h7v7h-7zM354 474h12v7h-12zM389 474h7v7h-7zM354 479h12v7h-12zM384 479h7v7h-7zM354 484h7v7h-7zM379 484h7v7h-7zM354 489h7v7h-7zM374 489h7v7h-7zM369 494h7v7h-7zM364 499h7v7h-7zM359 504h7v7h-7zM369 514h7v7h-7zM184 554h7v7h-7zM204 554h7v7h-7zM534 559h7v7h-7zM529 564h7v7h-7zM524 569h7v7h-7zM519 574h7v7h-7zM514 579h7v7h-7zM134 584h7v7h-7zM509 584h7v7h-7zM504 589h7v7h-7zM114 614h7v7h-7zM494 634h7v7h-7zM329 639h12v7h-12zM494 639h7v7h-7zM329 644h12v7h-12zM474 644h7v7h-7zM499 644h7v7h-7zM454 649h12v7h-12zM479 649h7v7h-7zM499 649h7v7h-7zM454 654h12v7h-12zM484 654h7v7h-7zM504 654h7v7h-7zM109 659h12v7h-12zM489 659h7v7h-7zM509 659h7v7h-7zM109 664h12v7h-12zM444 664h7v7h-7zM494 664h7v7h-7zM514 664h7v7h-7zM139 669h12v7h-12zM444 669h7v7h-7zM499 669h7v7h-7zM139 674h12v7h-12zM424 674h7v7h-7zM449 674h7v7h-7zM504 674h7v7h-7zM429 679h7v7h-7zM449 679h7v7h-7zM414 684h7v7h-7zM434 684h7v7h-7zM454 684h7v7h-7zM354 689h7v7h-7zM414 689h7v7h-7zM439 689h7v7h-7zM459 689h7v7h-7zM419 694h7v7h-7zM444 694h7v7h-7zM464 694h7v7h-7zM179 699h12v7h-12zM419 699h7v7h-7zM449 699h7v7h-7zM179 704h12v7h-12zM359 704h7v7h-7zM424 704h7v7h-7zM454 704h7v7h-7zM359 709h7v7h-7zM429 709h7v7h-7zM354 714h12v7h-12zM434 714h7v7h-7zM179 749h12v7h-12z"/><path fill="#808080" d="M399 469h12v7h-12zM394 474h17v7h-17zM349 479h7v7h-7zM389 479h17v7h-17zM349 484h7v7h-7zM384 484h17v7h-17zM309 489h12v7h-12zM349 489h7v7h-7zM379 489h17v7h-17zM309 494h12v7h-12zM334 494h7v7h-7zM349 494h7v7h-7zM374 494h17v7h-17zM319 499h12v7h-12zM369 499h17v7h-17zM319 504h12v7h-12zM364 504h17v7h-17zM339 509h12v7h-12zM359 509h17v7h-17zM339 514h12v7h-12zM359 514h12v7h-12zM169 519h7v7h-7zM319 519h12v7h-12zM339 519h12v7h-12zM359 519h12v7h-12zM174 524h7v7h-7zM319 524h12v7h-12zM339 524h12v7h-12zM359 524h12v7h-12zM159 529h7v7h-7zM179 529h7v7h-7zM299 529h22v7h-22zM329 529h12v7h-12zM164 534h7v7h-7zM184 534h7v7h-7zM299 534h22v7h-22zM329 534h12v7h-12zM169 539h7v7h-7zM189 539h7v7h-7zM269 539h12v7h-12zM299 539h22v7h-22zM329 539h22v7h-22zM359 539h12v7h-12zM174 544h7v7h-7zM194 544h7v7h-7zM269 544h12v7h-12zM299 544h22v7h-22zM329 544h22v7h-22zM359 544h12v7h-12zM179 549h7v7h-7zM199 549h7v7h-7zM299 549h22v7h-22zM329 549h22v7h-22zM389 549h12v7h-12zM299 554h22v7h-22zM329 554h22v7h-22zM389 554h12v7h-12zM109 559h7v7h-7zM249 559h12v7h-12zM269 559h12v7h-12zM299 559h22v7h-22zM329 559h12v7h-12zM114 564h7v7h-7zM189 564h7v7h-7zM249 564h12v7h-12zM269 564h12v7h-12zM299 564h22v7h-22zM329 564h12v7h-12zM119 569h7v7h-7zM259 569h12v7h-12zM279 569h12v7h-12zM309 569h12v7h-12zM339 569h12v7h-12zM359 569h22v7h-22zM124 574h7v7h-7zM259 574h12v7h-12zM279 574h12v7h-12zM309 574h12v7h-12zM339 574h12v7h-12zM359 574h22v7h-22zM79 579h7v7h-7zM129 579h7v7h-7zM209 579h12v7h-12zM269 579h12v7h-12zM289 579h22v7h-22zM319 579h12v7h-12zM84 584h7v7h-7zM209 584h12v7h-12zM269 584h12v7h-12zM289 584h22v7h-22zM319 584h12v7h-12zM89 589h7v7h-7zM169 589h12v7h-12zM209 589h12v7h-12zM289 589h12v7h-12zM309 589h12v7h-12zM369 589h12v7h-12zM94 594h7v7h-7zM139 594h7v7h-7zM169 594h12v7h-12zM209 594h12v7h-12zM289 594h12v7h-12zM309 594h12v7h-12zM369 594h12v7h-12zM99 599h7v7h-7zM179 599h12v7h-12zM209 599h12v7h-12zM259 599h12v7h-12zM279 599h12v7h-12zM369 599h12v7h-12zM104 604h7v7h-7zM179 604h12v7h-12zM209 604h12v7h-12zM259 604h12v7h-12zM279 604h12v7h-12zM369 604h12v7h-12zM109 609h7v7h-7zM179 609h12v7h-12zM209 609h12v7h-12zM279 609h12v7h-12zM309 609h12v7h-12zM349 609h12v7h-12zM369 609h12v7h-12zM389 609h12v7h-12zM179 614h12v7h-12zM209 614h12v7h-12zM279 614h12v7h-12zM309 614h12v7h-12zM349 614h12v7h-12zM369 614h12v7h-12zM389 614h12v7h-12zM179 619h12v7h-12zM269 619h22v7h-22zM379 619h22v7h-22zM179 624h12v7h-12zM269 624h22v7h-22zM379 624h22v7h-22zM209 629h12v7h-12zM259 629h22v7h-22zM289 629h12v7h-12zM379 629h12v7h-12zM469 629h12v7h-12zM489 629h7v7h-7zM209 634h12v7h-12zM259 634h22v7h-22zM289 634h12v7h-12zM379 634h12v7h-12zM469 634h17v7h-17zM489 634h7v7h-7zM159 639h12v7h-12zM179 639h12v7h-12zM219 639h12v7h-12zM279 639h12v7h-12zM299 639h12v7h-12zM379 639h12v7h-12zM449 639h12v7h-12zM469 639h27v7h-27zM159 644h12v7h-12zM179 644h12v7h-12zM219 644h12v7h-12zM279 644h12v7h-12zM299 644h12v7h-12zM379 644h12v7h-12zM449 644h12v7h-12zM479 644h22v7h-22zM109 649h12v7h-12zM209 649h12v7h-12zM259 649h22v7h-22zM289 649h12v7h-12zM319 649h12v7h-12zM484 649h17v7h-17zM109 654h12v7h-12zM209 654h12v7h-12zM259 654h22v7h-22zM289 654h12v7h-12zM319 654h12v7h-12zM489 654h17v7h-17zM129 659h12v7h-12zM209 659h12v7h-12zM279 659h12v7h-12zM299 659h22v7h-22zM419 659h12v7h-12zM439 659h7v7h-7zM494 659h17v7h-17zM129 664h12v7h-12zM209 664h12v7h-12zM279 664h12v7h-12zM299 664h22v7h-22zM419 664h17v7h-17zM439 664h7v7h-7zM499 664h17v7h-17zM129 669h12v7h-12zM169 669h12v7h-12zM209 669h12v7h-12zM259 669h12v7h-12zM359 669h12v7h-12zM419 669h27v7h-27zM504 669h17v7h-17zM129 674h12v7h-12zM169 674h12v7h-12zM209 674h12v7h-12zM259 674h12v7h-12zM359 674h12v7h-12zM429 674h22v7h-22zM509 674h12v7h-12zM119 679h12v7h-12zM139 679h12v7h-12zM209 679h12v7h-12zM229 679h12v7h-12zM249 679h12v7h-12zM389 679h12v7h-12zM409 679h7v7h-7zM434 679h17v7h-17zM119 684h12v7h-12zM139 684h12v7h-12zM209 684h12v7h-12zM229 684h12v7h-12zM249 684h12v7h-12zM389 684h17v7h-17zM409 684h7v7h-7zM439 684h17v7h-17zM109 689h12v7h-12zM129 689h12v7h-12zM169 689h12v7h-12zM209 689h12v7h-12zM229 689h12v7h-12zM379 689h12v7h-12zM394 689h22v7h-22zM444 689h17v7h-17zM109 694h12v7h-12zM129 694h12v7h-12zM169 694h12v7h-12zM209 694h12v7h-12zM229 694h12v7h-12zM379 694h42v7h-42zM449 694h17v7h-17zM129 699h12v7h-12zM239 699h12v7h-12zM299 699h12v7h-12zM364 699h7v7h-7zM384 699h37v7h-37zM454 699h17v7h-17zM129 704h12v7h-12zM239 704h12v7h-12zM299 704h12v7h-12zM364 704h7v7h-7zM389 704h37v7h-37zM459 704h12v7h-12zM239 709h22v7h-22zM349 709h7v7h-7zM364 709h7v7h-7zM389 709h42v7h-42zM239 714h22v7h-22zM364 714h7v7h-7zM389 714h47v7h-47zM159 719h12v7h-12zM179 719h12v7h-12zM199 719h12v7h-12zM249 719h12v7h-12zM279 719h12v7h-12zM354 719h17v7h-17zM389 719h52v7h-52zM159 724h12v7h-12zM179 724h12v7h-12zM199 724h12v7h-12zM249 724h12v7h-12zM279 724h12v7h-12zM359 724h12v7h-12zM389 724h52v7h-52zM169 729h12v7h-12zM189 729h12v7h-12zM209 729h12v7h-12zM364 729h7v7h-7zM394 729h37v7h-37zM169 734h12v7h-12zM189 734h12v7h-12zM209 734h12v7h-12zM394 734h37v7h-37zM179 739h12v7h-12zM199 739h22v7h-22zM309 739h12v7h-12zM179 744h12v7h-12zM199 744h22v7h-22zM309 744h17v7h-17zM199 749h22v7h-22zM299 749h12v7h-12zM314 749h17v7h-17zM199 754h22v7h-22zM299 754h37v7h-37zM219 759h12v7h-12zM289 759h12v7h-12zM304 759h37v7h-37zM219 764h12v7h-12zM289 764h57v7h-57zM269 769h12v7h-12zM294 769h57v7h-57zM269 774h17v7h-17zM294 774h62v7h-62zM274 779h87v7h-87zM279 784h82v7h-82zM284 789h67v7h-67zM289 794h62v7h-62zM294 799h47v7h-47zM299 804h42v7h-42zM304 809h17v7h-17zM309 814h12v7h-12z"/><path fill="#838383" d="M344 484h7v7h-7zM329 494h7v7h-7zM209 539h7v7h-7zM214 544h7v7h-7zM169 569h7v7h-7zM174 574h7v7h-7zM484 634h7v7h-7zM449 649h7v7h-7zM434 664h7v7h-7zM404 684h7v7h-7zM389 689h7v7h-7zM349 694h7v7h-7zM384 704h7v7h-7zM384 709h7v7h-7zM349 714h7v7h-7zM369 714h7v7h-7zM384 714h7v7h-7zM369 719h7v7h-7zM379 719h12v7h-12zM369 724h22v7h-22zM369 729h27v7h-27zM369 734h27v7h-27zM229 749h12v7h-12zM229 754h12v7h-12zM289 769h7v7h-7zM284 774h12v7h-12z"/><path fill="#878787" d="M364 459h7v7h-7zM359 464h7v7h-7zM354 469h7v7h-7zM339 489h12v7h-12zM179 509h7v7h-7zM374 509h7v7h-7zM184 514h7v7h-7zM374 514h7v7h-7zM189 519h7v7h-7zM194 524h7v7h-7zM199 529h7v7h-7zM204 534h7v7h-7zM139 539h7v7h-7zM144 544h7v7h-7zM149 549h7v7h-7zM154 554h7v7h-7zM159 559h7v7h-7zM164 564h7v7h-7zM499 594h7v7h-7zM149 659h12v7h-12zM149 664h12v7h-12zM349 689h7v7h-7zM139 699h12v7h-12zM379 699h7v7h-7zM139 704h12v7h-12zM369 704h7v7h-7zM379 704h7v7h-7zM369 709h17v7h-17zM374 714h12v7h-12zM374 719h7v7h-7zM239 749h12v7h-12zM309 749h7v7h-7zM239 754h12v7h-12zM229 759h12v7h-12zM249 759h7v7h-7zM299 759h7v7h-7zM229 764h12v7h-12zM264 764h7v7h-7zM284 769h7v7h-7z"/><path fill="#8b8b8b" d="M259 449h7v7h-7zM264 454h7v7h-7zM269 459h7v7h-7zM274 464h7v7h-7zM279 469h7v7h-7zM284 474h7v7h-7zM349 474h7v7h-7zM289 479h7v7h-7zM344 479h7v7h-7zM294 484h7v7h-7zM339 484h7v7h-7zM334 489h7v7h-7zM339 494h12v7h-12zM379 504h7v7h-7zM469 519h12v7h-12zM464 524h17v7h-17zM459 529h17v7h-17zM454 534h17v7h-17zM449 539h17v7h-17zM444 544h17v7h-17zM439 549h17v7h-17zM434 554h22v7h-22zM184 559h7v7h-7zM429 559h22v7h-22zM184 564h7v7h-7zM429 564h22v7h-22zM439 569h12v7h-12zM439 574h12v7h-12zM134 589h7v7h-7zM134 594h7v7h-7zM329 599h12v7h-12zM329 604h12v7h-12zM339 619h12v7h-12zM339 624h12v7h-12zM329 629h22v7h-22zM484 629h7v7h-7zM329 634h22v7h-22zM339 639h12v7h-12zM339 644h12v7h-12zM149 649h12v7h-12zM329 649h12v7h-12zM149 654h12v7h-12zM329 654h12v7h-12zM139 659h12v7h-12zM434 659h7v7h-7zM139 664h12v7h-12zM389 674h12v7h-12zM149 679h12v7h-12zM399 679h12v7h-12zM149 684h12v7h-12zM239 689h12v7h-12zM239 694h12v7h-12zM209 699h12v7h-12zM369 699h12v7h-12zM209 704h12v7h-12zM374 704h7v7h-7zM149 709h12v7h-12zM169 709h12v7h-12zM209 709h12v7h-12zM344 709h7v7h-7zM149 714h12v7h-12zM169 714h12v7h-12zM209 714h12v7h-12zM309 734h7v7h-7zM279 759h12v7h-12zM279 764h12v7h-12zM279 769h7v7h-7z"/><path fill="#8f8f8f" d="M384 499h7v7h-7zM474 529h7v7h-7zM469 534h7v7h-7zM464 539h7v7h-7zM459 544h7v7h-7zM454 549h7v7h-7zM179 554h7v7h-7zM429 554h7v7h-7zM179 559h7v7h-7zM449 559h7v7h-7zM449 564h7v7h-7zM129 584h7v7h-7zM129 589h7v7h-7zM124 604h7v7h-7zM479 629h7v7h-7zM429 659h7v7h-7z"/><path fill="#939393" d="M359 449h12v7h-12zM354 454h17v7h-17zM349 459h17v7h-17zM344 464h17v7h-17zM339 469h17v7h-17zM334 474h17v7h-17zM329 479h17v7h-17zM404 479h7v7h-7zM324 484h17v7h-17zM399 484h7v7h-7zM299 489h12v7h-12zM319 489h17v7h-17zM394 489h7v7h-7zM299 494h12v7h-12zM319 494h12v7h-12zM389 494h7v7h-7zM309 499h12v7h-12zM339 499h12v7h-12zM309 504h12v7h-12zM339 504h12v7h-12zM169 509h12v7h-12zM309 509h32v7h-32zM169 514h17v7h-17zM309 514h32v7h-32zM174 519h17v7h-17zM309 519h12v7h-12zM329 519h12v7h-12zM179 524h17v7h-17zM309 524h12v7h-12zM329 524h12v7h-12zM139 529h22v7h-22zM184 529h17v7h-17zM319 529h12v7h-12zM339 529h12v7h-12zM389 529h12v7h-12zM479 529h22v7h-22zM139 534h27v7h-27zM189 534h17v7h-17zM319 534h12v7h-12zM339 534h12v7h-12zM389 534h12v7h-12zM474 534h27v7h-27zM144 539h27v7h-27zM194 539h17v7h-17zM249 539h12v7h-12zM319 539h12v7h-12zM369 539h12v7h-12zM389 539h22v7h-22zM469 539h27v7h-27zM149 544h27v7h-27zM199 544h17v7h-17zM249 544h12v7h-12zM319 544h12v7h-12zM369 544h12v7h-12zM389 544h22v7h-22zM464 544h27v7h-27zM154 549h27v7h-27zM204 549h17v7h-17zM249 549h32v7h-32zM289 549h12v7h-12zM319 549h12v7h-12zM369 549h12v7h-12zM409 549h22v7h-22zM434 549h7v7h-7zM459 549h27v7h-27zM159 554h22v7h-22zM209 554h12v7h-12zM249 554h32v7h-32zM289 554h12v7h-12zM319 554h12v7h-12zM369 554h12v7h-12zM409 554h22v7h-22zM454 554h27v7h-27zM89 559h22v7h-22zM164 559h17v7h-17zM259 559h12v7h-12zM279 559h12v7h-12zM319 559h12v7h-12zM369 559h12v7h-12zM419 559h12v7h-12zM454 559h22v7h-22zM89 564h27v7h-27zM169 564h17v7h-17zM259 564h12v7h-12zM279 564h12v7h-12zM319 564h12v7h-12zM369 564h12v7h-12zM419 564h12v7h-12zM454 564h17v7h-17zM79 569h42v7h-42zM174 569h17v7h-17zM269 569h12v7h-12zM289 569h22v7h-22zM319 569h22v7h-22zM379 569h12v7h-12zM429 569h12v7h-12zM449 569h17v7h-17zM79 574h47v7h-47zM179 574h12v7h-12zM269 574h12v7h-12zM289 574h22v7h-22zM319 574h22v7h-22zM379 574h12v7h-12zM429 574h12v7h-12zM449 574h12v7h-12zM84 579h47v7h-47zM249 579h12v7h-12zM279 579h12v7h-12zM309 579h12v7h-12zM329 579h12v7h-12zM369 579h12v7h-12zM389 579h12v7h-12zM409 579h12v7h-12zM439 579h12v7h-12zM89 584h42v7h-42zM249 584h12v7h-12zM279 584h12v7h-12zM309 584h12v7h-12zM329 584h12v7h-12zM369 584h12v7h-12zM389 584h12v7h-12zM409 584h12v7h-12zM439 584h12v7h-12zM94 589h37v7h-37zM199 589h12v7h-12zM249 589h22v7h-22zM299 589h12v7h-12zM319 589h22v7h-22zM99 594h37v7h-37zM199 594h12v7h-12zM249 594h22v7h-22zM299 594h12v7h-12zM319 594h22v7h-22zM104 599h37v7h-37zM169 599h12v7h-12zM189 599h22v7h-22zM219 599h42v7h-42zM289 599h22v7h-22zM319 599h12v7h-12zM379 599h12v7h-12zM399 599h22v7h-22zM429 599h12v7h-12zM109 604h17v7h-17zM129 604h12v7h-12zM169 604h12v7h-12zM189 604h22v7h-22zM219 604h42v7h-42zM289 604h22v7h-22zM319 604h12v7h-12zM379 604h12v7h-12zM399 604h22v7h-22zM429 604h12v7h-12zM114 609h17v7h-17zM169 609h12v7h-12zM189 609h22v7h-22zM219 609h12v7h-12zM239 609h22v7h-22zM289 609h12v7h-12zM319 609h32v7h-32zM359 609h12v7h-12zM379 609h12v7h-12zM399 609h22v7h-22zM119 614h12v7h-12zM169 614h12v7h-12zM189 614h22v7h-22zM219 614h12v7h-12zM239 614h22v7h-22zM289 614h12v7h-12zM319 614h32v7h-32zM359 614h12v7h-12zM379 614h12v7h-12zM399 614h22v7h-22zM199 619h72v7h-72zM309 619h12v7h-12zM349 619h12v7h-12zM399 619h12v7h-12zM479 619h12v7h-12zM199 624h72v7h-72zM309 624h12v7h-12zM349 624h12v7h-12zM399 624h12v7h-12zM479 624h12v7h-12zM199 629h12v7h-12zM219 629h12v7h-12zM249 629h12v7h-12zM279 629h12v7h-12zM299 629h12v7h-12zM319 629h12v7h-12zM389 629h12v7h-12zM459 629h12v7h-12zM199 634h12v7h-12zM219 634h12v7h-12zM249 634h12v7h-12zM279 634h12v7h-12zM299 634h12v7h-12zM319 634h12v7h-12zM389 634h12v7h-12zM459 634h12v7h-12zM149 639h12v7h-12zM199 639h12v7h-12zM249 639h22v7h-22zM289 639h12v7h-12zM309 639h12v7h-12zM359 639h12v7h-12zM389 639h12v7h-12zM149 644h12v7h-12zM199 644h12v7h-12zM249 644h22v7h-22zM289 644h12v7h-12zM309 644h12v7h-12zM359 644h12v7h-12zM389 644h12v7h-12zM219 649h22v7h-22zM279 649h12v7h-12zM309 649h12v7h-12zM339 649h12v7h-12zM359 649h12v7h-12zM389 649h12v7h-12zM409 649h12v7h-12zM429 649h12v7h-12zM219 654h22v7h-22zM279 654h12v7h-12zM309 654h12v7h-12zM339 654h12v7h-12zM359 654h12v7h-12zM389 654h12v7h-12zM409 654h12v7h-12zM429 654h12v7h-12zM159 659h12v7h-12zM179 659h12v7h-12zM199 659h12v7h-12zM219 659h12v7h-12zM259 659h22v7h-22zM289 659h12v7h-12zM319 659h32v7h-32zM359 659h12v7h-12zM409 659h12v7h-12zM159 664h12v7h-12zM179 664h12v7h-12zM199 664h12v7h-12zM219 664h12v7h-12zM259 664h22v7h-22zM289 664h12v7h-12zM319 664h32v7h-32zM359 664h12v7h-12zM409 664h12v7h-12zM119 669h12v7h-12zM149 669h12v7h-12zM189 669h22v7h-22zM219 669h12v7h-12zM269 669h62v7h-62zM339 669h12v7h-12zM379 669h12v7h-12zM399 669h12v7h-12zM119 674h12v7h-12zM149 674h12v7h-12zM189 674h22v7h-22zM219 674h12v7h-12zM269 674h62v7h-62zM339 674h12v7h-12zM379 674h12v7h-12zM399 674h12v7h-12zM129 679h12v7h-12zM159 679h32v7h-32zM199 679h12v7h-12zM219 679h12v7h-12zM259 679h12v7h-12zM279 679h12v7h-12zM299 679h42v7h-42zM359 679h12v7h-12zM379 679h12v7h-12zM129 684h12v7h-12zM159 684h32v7h-32zM199 684h12v7h-12zM219 684h12v7h-12zM259 684h12v7h-12zM279 684h12v7h-12zM299 684h42v7h-42zM359 684h12v7h-12zM379 684h12v7h-12zM139 689h32v7h-32zM179 689h12v7h-12zM219 689h12v7h-12zM299 689h12v7h-12zM319 689h22v7h-22zM369 689h12v7h-12zM139 694h32v7h-32zM179 694h12v7h-12zM219 694h12v7h-12zM299 694h12v7h-12zM319 694h32v7h-32zM369 694h12v7h-12zM149 699h12v7h-12zM199 699h12v7h-12zM219 699h22v7h-22zM249 699h12v7h-12zM269 699h12v7h-12zM289 699h12v7h-12zM309 699h42v7h-42zM149 704h12v7h-12zM199 704h12v7h-12zM219 704h22v7h-22zM249 704h12v7h-12zM269 704h12v7h-12zM289 704h12v7h-12zM309 704h42v7h-42zM179 709h12v7h-12zM199 709h12v7h-12zM259 709h12v7h-12zM279 709h12v7h-12zM299 709h12v7h-12zM324 709h22v7h-22zM179 714h12v7h-12zM199 714h12v7h-12zM259 714h12v7h-12zM279 714h12v7h-12zM299 714h12v7h-12zM329 714h12v7h-12zM344 714h7v7h-7zM169 719h12v7h-12zM189 719h12v7h-12zM209 719h12v7h-12zM239 719h12v7h-12zM259 719h22v7h-22zM349 719h7v7h-7zM169 724h12v7h-12zM189 724h12v7h-12zM209 724h12v7h-12zM239 724h12v7h-12zM259 724h22v7h-22zM354 724h7v7h-7zM179 729h12v7h-12zM199 729h12v7h-12zM269 729h12v7h-12zM359 729h7v7h-7zM179 734h12v7h-12zM199 734h12v7h-12zM269 734h12v7h-12zM314 734h7v7h-7zM364 734h7v7h-7zM189 739h12v7h-12zM219 739h12v7h-12zM319 739h7v7h-7zM189 744h12v7h-12zM219 744h12v7h-12zM324 744h7v7h-7zM219 749h12v7h-12zM249 749h12v7h-12zM329 749h7v7h-7zM219 754h12v7h-12zM249 754h12v7h-12zM334 754h7v7h-7zM339 759h7v7h-7zM344 764h7v7h-7zM349 769h7v7h-7zM354 774h7v7h-7z"/><path fill="#979797" d="M319 484h7v7h-7zM379 509h7v7h-7zM379 514h7v7h-7zM464 519h7v7h-7zM459 524h7v7h-7zM454 529h7v7h-7zM449 534h7v7h-7zM444 539h7v7h-7zM439 544h7v7h-7zM344 689h7v7h-7zM274 739h7v7h-7zM254 759h7v7h-7z"/><path fill="#9b9b9b" d="M324 479h7v7h-7zM394 524h7v7h-7zM429 549h7v7h-7zM399 639h7v7h-7zM399 644h7v7h-7zM394 669h7v7h-7zM339 689h7v7h-7zM319 709h7v7h-7zM339 714h7v7h-7zM304 719h7v7h-7zM304 729h12v7h-12zM304 734h7v7h-7zM229 739h12v7h-12zM269 739h7v7h-7zM279 739h7v7h-7zM229 744h12v7h-12zM259 759h7v7h-7z"/><path fill="#9f9f9f" d="M354 449h7v7h-7zM349 454h7v7h-7zM344 459h7v7h-7zM339 464h7v7h-7zM334 469h7v7h-7zM329 474h7v7h-7zM384 504h7v7h-7zM389 524h7v7h-7zM494 539h7v7h-7zM489 544h7v7h-7zM484 549h7v7h-7zM479 554h7v7h-7zM429 589h12v7h-12zM429 594h12v7h-12zM419 599h12v7h-12zM419 604h12v7h-12zM329 619h12v7h-12zM329 624h12v7h-12zM139 639h12v7h-12zM139 644h12v7h-12zM424 644h7v7h-7zM419 649h12v7h-12zM419 654h12v7h-12zM394 659h7v7h-7zM389 669h7v7h-7zM159 699h22v7h-22zM159 704h22v7h-22zM159 709h12v7h-12zM189 709h12v7h-12zM219 709h22v7h-22zM159 714h12v7h-12zM189 714h12v7h-12zM219 714h22v7h-22zM324 714h7v7h-7zM299 719h7v7h-7zM304 724h7v7h-7zM219 729h12v7h-12zM249 729h22v7h-22zM279 729h22v7h-22zM219 734h12v7h-12zM249 734h22v7h-22zM279 734h22v7h-22zM239 739h32v7h-32zM239 744h37v7h-37zM259 749h17v7h-17zM289 749h12v7h-12zM259 754h22v7h-22zM289 754h12v7h-12zM264 759h17v7h-17zM269 764h12v7h-12z"/><path fill="#a3a3a3" d="M389 499h7v7h-7zM384 509h7v7h-7zM399 514h12v7h-12zM394 519h12v7h-12zM399 524h7v7h-7zM409 534h7v7h-7zM439 539h7v7h-7zM429 544h12v7h-12zM474 559h7v7h-7zM469 564h7v7h-7zM464 569h7v7h-7zM459 574h7v7h-7zM454 624h7v7h-7zM419 644h7v7h-7zM389 659h7v7h-7zM394 664h7v7h-7zM309 719h7v7h-7zM339 719h12v7h-12zM299 724h7v7h-7zM309 724h7v7h-7zM349 724h7v7h-7zM299 729h7v7h-7zM299 734h7v7h-7zM284 739h7v7h-7z"/><path fill="#a7a7a7" d="M259 439h102v7h-102zM259 444h102v7h-102zM264 449h92v7h-92zM269 454h82v7h-82zM274 459h72v7h-72zM279 464h62v7h-62zM284 469h52v7h-52zM289 474h42v7h-42zM294 479h32v7h-32zM409 479h22v7h-22zM299 484h22v7h-22zM404 484h27v7h-27zM399 489h52v7h-52zM394 494h57v7h-57zM394 499h77v7h-77zM389 504h82v7h-82zM389 509h82v7h-82zM384 514h17v7h-17zM409 514h62v7h-62zM379 519h17v7h-17zM404 519h62v7h-62zM379 524h12v7h-12zM404 524h57v7h-57zM379 529h12v7h-12zM399 529h57v7h-57zM379 534h12v7h-12zM399 534h12v7h-12zM414 534h37v7h-37zM379 539h12v7h-12zM409 539h32v7h-32zM499 539h32v7h-32zM379 544h12v7h-12zM409 544h22v7h-22zM494 544h37v7h-37zM379 549h12v7h-12zM399 549h12v7h-12zM494 549h47v7h-47zM379 554h12v7h-12zM399 554h12v7h-12zM494 554h47v7h-47zM389 559h12v7h-12zM409 559h12v7h-12zM489 559h47v7h-47zM389 564h12v7h-12zM409 564h12v7h-12zM489 564h42v7h-42zM399 569h12v7h-12zM419 569h12v7h-12zM489 569h37v7h-37zM399 574h12v7h-12zM419 574h12v7h-12zM484 574h37v7h-37zM259 579h12v7h-12zM339 579h12v7h-12zM379 579h12v7h-12zM399 579h12v7h-12zM419 579h22v7h-22zM449 579h12v7h-12zM479 579h37v7h-37zM259 584h12v7h-12zM339 584h12v7h-12zM379 584h12v7h-12zM399 584h12v7h-12zM419 584h22v7h-22zM449 584h12v7h-12zM479 584h32v7h-32zM279 589h12v7h-12zM379 589h12v7h-12zM399 589h12v7h-12zM419 589h12v7h-12zM459 589h12v7h-12zM479 589h27v7h-27zM279 594h12v7h-12zM379 594h12v7h-12zM399 594h12v7h-12zM419 594h12v7h-12zM459 594h12v7h-12zM479 594h22v7h-22zM389 599h12v7h-12zM459 599h12v7h-12zM479 599h12v7h-12zM389 604h12v7h-12zM459 604h12v7h-12zM479 604h12v7h-12zM229 609h12v7h-12zM259 609h12v7h-12zM299 609h12v7h-12zM419 609h12v7h-12zM439 609h12v7h-12zM469 609h22v7h-22zM229 614h12v7h-12zM259 614h12v7h-12zM299 614h12v7h-12zM419 614h12v7h-12zM439 614h17v7h-17zM469 614h22v7h-22zM289 619h22v7h-22zM319 619h12v7h-12zM359 619h12v7h-12zM409 619h12v7h-12zM444 619h12v7h-12zM459 619h22v7h-22zM289 624h22v7h-22zM319 624h12v7h-12zM359 624h12v7h-12zM409 624h12v7h-12zM434 624h22v7h-22zM459 624h22v7h-22zM239 629h12v7h-12zM309 629h12v7h-12zM349 629h22v7h-22zM399 629h12v7h-12zM434 629h27v7h-27zM239 634h12v7h-12zM309 634h12v7h-12zM349 634h22v7h-22zM399 634h12v7h-12zM434 634h27v7h-27zM239 639h12v7h-12zM349 639h12v7h-12zM429 639h22v7h-22zM239 644h12v7h-12zM349 644h12v7h-12zM404 644h7v7h-7zM429 644h22v7h-22zM139 649h12v7h-12zM249 649h12v7h-12zM349 649h12v7h-12zM369 649h22v7h-22zM399 649h12v7h-12zM139 654h12v7h-12zM249 654h12v7h-12zM349 654h12v7h-12zM369 654h22v7h-22zM399 654h12v7h-12zM349 659h12v7h-12zM369 659h12v7h-12zM399 659h12v7h-12zM349 664h12v7h-12zM369 664h12v7h-12zM399 664h12v7h-12zM329 669h12v7h-12zM349 669h12v7h-12zM369 669h12v7h-12zM329 674h12v7h-12zM349 674h12v7h-12zM369 674h12v7h-12zM189 679h12v7h-12zM269 679h12v7h-12zM289 679h12v7h-12zM339 679h12v7h-12zM369 679h12v7h-12zM189 684h12v7h-12zM269 684h12v7h-12zM289 684h12v7h-12zM339 684h12v7h-12zM369 684h12v7h-12zM199 689h12v7h-12zM249 689h42v7h-42zM309 689h12v7h-12zM199 694h12v7h-12zM249 694h42v7h-42zM309 694h12v7h-12zM189 699h12v7h-12zM259 699h12v7h-12zM279 699h12v7h-12zM189 704h12v7h-12zM259 704h12v7h-12zM279 704h12v7h-12zM269 709h12v7h-12zM289 709h12v7h-12zM309 709h12v7h-12zM269 714h12v7h-12zM289 714h12v7h-12zM309 714h17v7h-17zM289 719h12v7h-12zM314 719h27v7h-27zM289 724h12v7h-12zM314 724h37v7h-37zM239 729h12v7h-12zM314 729h47v7h-47zM239 734h12v7h-12zM319 734h47v7h-47zM289 739h22v7h-22zM324 739h47v7h-47zM274 744h37v7h-37zM329 744h42v7h-42zM274 749h17v7h-17zM334 749h37v7h-37zM279 754h12v7h-12zM339 754h32v7h-32zM344 759h27v7h-27zM349 764h22v7h-22zM354 769h17v7h-17zM359 774h12v7h-12z"/><path fill="#ababab" d="M489 549h7v7h-7zM484 554h12v7h-12zM479 559h12v7h-12zM479 564h12v7h-12zM479 569h12v7h-12zM479 574h7v7h-7zM439 619h7v7h-7zM454 619h7v7h-7zM389 664h7v7h-7z"/><path fill="#afafaf" d="M474 564h7v7h-7zM474 569h7v7h-7zM474 574h7v7h-7zM439 589h12v7h-12zM439 594h12v7h-12zM449 609h7v7h-7zM454 614h7v7h-7zM419 619h22v7h-22zM419 624h17v7h-17zM429 634h7v7h-7zM404 639h7v7h-7zM424 639h7v7h-7zM229 719h12v7h-12zM229 724h12v7h-12zM229 729h12v7h-12zM229 734h12v7h-12z"/><path fill="#b3b3b3" d="M379 559h12v7h-12zM399 559h12v7h-12zM379 564h12v7h-12zM399 564h12v7h-12zM389 569h12v7h-12zM409 569h12v7h-12zM469 569h7v7h-7zM389 574h12v7h-12zM409 574h12v7h-12zM464 574h12v7h-12zM349 579h12v7h-12zM459 579h22v7h-22zM349 584h12v7h-12zM459 584h22v7h-22zM349 589h12v7h-12zM389 589h12v7h-12zM409 589h12v7h-12zM449 589h12v7h-12zM469 589h12v7h-12zM349 594h12v7h-12zM389 594h12v7h-12zM409 594h12v7h-12zM449 594h12v7h-12zM469 594h12v7h-12zM439 599h22v7h-22zM469 599h12v7h-12zM489 599h12v7h-12zM439 604h22v7h-22zM469 604h12v7h-12zM489 604h12v7h-12zM429 609h12v7h-12zM454 609h17v7h-17zM489 609h12v7h-12zM429 614h12v7h-12zM459 614h12v7h-12zM489 614h12v7h-12zM229 629h12v7h-12zM409 629h27v7h-27zM229 634h12v7h-12zM409 634h22v7h-22zM229 639h12v7h-12zM409 639h17v7h-17zM229 644h12v7h-12zM409 644h12v7h-12zM379 659h12v7h-12zM379 664h12v7h-12zM189 689h12v7h-12zM289 689h12v7h-12zM189 694h12v7h-12zM289 694h12v7h-12zM219 719h12v7h-12zM219 724h12v7h-12z"/><polyline points="503.2,617.0 493.0,622.8 484.2,628.6 474.0,634.5 463.8,641.8 455.0,647.6 444.8,654.9 440.0,664.0 424.9,673.4 406.2,685.0 387.5,699.0 373.5,706.0 359.4,720.0 347.8,724.8 333.7,731.8 322.0,741.1 310.4,750.5 298.7,759.8 292.4,763.9 285.4,768.5 278.4,776.7 272.6,780.2 266.7,784.9 260.9,788.4 258.5,791.9 256.2,790.7 250.4,786.1 243.4,781.4 231.7,770.9 227.6,770.0 215.9,762.8 204.2,755.5 194.0,752.6 188.2,743.8 178.0,738.0 169.2,733.6 161.9,727.7 154.6,727.7 147.6,721.8 138.8,714.5 128.6,708.6 118.4,704.2 103.8,694.0 92.1,688.2 80.4,679.4 71.7,675.0 65.8,669.9" fill="none" stroke="#595959" stroke-width="6" stroke-opacity="0.8" stroke-linejoin="round"/></g>
<polygon points="251.0,764.0 253.0,763.5 255.0,762.6 257.0,761.4 259.0,760.5 261.0,758.6 263.0,756.0 263.0,771.0 251.0,779.0" fill="url(#wg0)"/><rect x="251.5" y="764.8" width="0.9" height="11.0" fill="#c0d040" opacity="0.58"/><rect x="253.6" y="763.7" width="0.9" height="11.0" fill="#ff9040" opacity="0.37"/><rect x="255.6" y="763.0" width="0.9" height="12.7" fill="#c0d040" opacity="0.42"/><rect x="257.0" y="761.6" width="0.9" height="13.1" fill="#ff5050" opacity="0.34"/><rect x="259.1" y="760.1" width="0.9" height="14.2" fill="#ff9040" opacity="0.30"/><rect x="261.4" y="761.6" width="0.9" height="9.9" fill="#ff9040" opacity="0.59"/><polygon points="270.0,751.0 272.2,750.5 274.4,747.5 276.6,748.1 278.9,745.8 281.1,745.0 283.3,743.3 285.5,740.0 285.5,757.0 270.0,768.0" fill="url(#wg1)"/><rect x="270.5" y="751.7" width="0.9" height="12.0" fill="#e05080" opacity="0.58"/><rect x="272.1" y="751.7" width="0.9" height="13.3" fill="#e05080" opacity="0.30"/><rect x="274.2" y="749.3" width="0.9" height="11.6" fill="#e05080" opacity="0.39"/><rect x="276.4" y="749.4" width="0.9" height="14.1" fill="#ff9040" opacity="0.32"/><rect x="279.0" y="749.4" width="0.9" height="11.6" fill="#ff3030" opacity="0.42"/><rect x="280.9" y="745.7" width="0.9" height="13.2" fill="#ff5050" opacity="0.30"/><rect x="282.2" y="745.8" width="0.9" height="15.9" fill="#ff9040" opacity="0.34"/><rect x="283.7" y="743.6" width="0.9" height="11.6" fill="#ff5050" opacity="0.46"/><polygon points="298.7,727.0 300.8,725.2 302.9,726.0 305.0,725.0 307.0,724.0 309.1,720.4 311.2,722.0 313.3,718.3 315.4,718.0 317.5,717.6 319.6,717.4 321.7,714.6 323.7,715.2 325.8,712.9 327.9,711.1 330.0,710.0 330.0,723.0 298.7,740.0" fill="url(#wg2)"/><rect x="299.2" y="729.0" width="0.9" height="11.5" fill="#e05080" opacity="0.49"/><rect x="301.4" y="730.5" width="0.9" height="7.9" fill="#e05080" opacity="0.31"/><rect x="304.0" y="728.8" width="0.9" height="7.2" fill="#c0d040" opacity="0.52"/><rect x="305.7" y="726.0" width="0.9" height="9.4" fill="#e05080" opacity="0.32"/><rect x="308.2" y="726.1" width="0.9" height="8.9" fill="#ff3030" opacity="0.36"/><rect x="310.7" y="725.3" width="0.9" height="10.5" fill="#c0d040" opacity="0.54"/><rect x="312.1" y="722.2" width="0.9" height="7.3" fill="#ff5050" opacity="0.43"/><rect x="313.5" y="723.4" width="0.9" height="12.5" fill="#c0d040" opacity="0.44"/><rect x="315.4" y="720.9" width="0.9" height="8.6" fill="#e05080" opacity="0.42"/><rect x="316.8" y="721.5" width="0.9" height="10.0" fill="#ff5050" opacity="0.35"/><rect x="319.3" y="717.5" width="0.9" height="9.8" fill="#e05080" opacity="0.45"/><rect x="321.2" y="717.2" width="0.9" height="11.4" fill="#c0d040" opacity="0.53"/><rect x="323.4" y="717.6" width="0.9" height="9.0" fill="#ff3030" opacity="0.51"/><rect x="325.0" y="714.8" width="0.9" height="12.5" fill="#ff5050" opacity="0.51"/><rect x="327.5" y="714.9" width="0.9" height="10.3" fill="#e05080" opacity="0.30"/><polygon points="337.0,701.0 339.0,699.5 341.0,699.6 343.0,697.7 345.0,697.6 347.0,695.8 349.0,695.1 351.0,692.5 353.0,692.2 355.0,690.0 355.0,707.0 337.0,718.0" fill="url(#wg3)"/><rect x="337.5" y="703.1" width="0.9" height="15.1" fill="#ff5050" opacity="0.56"/><rect x="339.7" y="704.2" width="0.9" height="12.7" fill="#e05080" opacity="0.46"/><rect x="341.1" y="703.2" width="0.9" height="12.4" fill="#e05080" opacity="0.51"/><rect x="343.3" y="698.8" width="0.9" height="14.6" fill="#ff5050" opacity="0.47"/><rect x="345.4" y="698.1" width="0.9" height="13.0" fill="#ff5050" opacity="0.56"/><rect x="347.0" y="696.7" width="0.9" height="13.2" fill="#ff3030" opacity="0.49"/><rect x="348.5" y="697.5" width="0.9" height="9.3" fill="#ff9040" opacity="0.44"/><rect x="350.0" y="697.6" width="0.9" height="9.8" fill="#ff3030" opacity="0.59"/><rect x="351.9" y="693.1" width="0.9" height="12.4" fill="#c0d040" opacity="0.41"/><rect x="353.9" y="692.5" width="0.9" height="14.2" fill="#c0d040" opacity="0.41"/><polygon points="384.0,669.0 386.1,669.4 388.3,667.7 390.4,666.3 392.6,664.4 394.7,662.5 396.9,662.3 399.0,659.0 399.0,671.0 384.0,681.0" fill="url(#wg4)"/><rect x="384.5" y="672.1" width="0.9" height="7.0" fill="#c0d040" opacity="0.46"/><rect x="386.2" y="669.7" width="0.9" height="8.3" fill="#c0d040" opacity="0.34"/><rect x="387.9" y="669.9" width="0.9" height="8.4" fill="#c0d040" opacity="0.34"/><rect x="390.0" y="667.9" width="0.9" height="7.5" fill="#c0d040" opacity="0.34"/><rect x="391.3" y="666.7" width="0.9" height="8.2" fill="#ff3030" opacity="0.57"/><rect x="393.3" y="666.3" width="0.9" height="11.1" fill="#e05080" opacity="0.41"/><rect x="395.1" y="664.6" width="0.9" height="9.0" fill="#ff9040" opacity="0.51"/><rect x="396.8" y="663.8" width="0.9" height="7.9" fill="#ff9040" opacity="0.59"/><polygon points="416.0,645.0 418.1,644.0 420.3,642.5 422.4,643.2 424.6,640.5 426.8,638.6 428.9,637.9 431.1,635.6 433.2,635.9 435.4,634.1 437.5,632.5 437.5,645.5 416.0,658.0" fill="url(#wg5)"/><rect x="416.5" y="645.9" width="0.9" height="7.8" fill="#e05080" opacity="0.42"/><rect x="418.4" y="645.7" width="0.9" height="12.2" fill="#c0d040" opacity="0.53"/><rect x="419.9" y="647.1" width="0.9" height="11.0" fill="#e05080" opacity="0.39"/><rect x="421.8" y="644.7" width="0.9" height="11.8" fill="#ff5050" opacity="0.56"/><rect x="424.3" y="644.2" width="0.9" height="8.7" fill="#ff3030" opacity="0.46"/><rect x="425.9" y="643.2" width="0.9" height="7.1" fill="#e05080" opacity="0.40"/><rect x="428.1" y="639.5" width="0.9" height="7.0" fill="#c0d040" opacity="0.47"/><rect x="430.2" y="641.3" width="0.9" height="10.1" fill="#ff3030" opacity="0.30"/><rect x="432.5" y="638.8" width="0.9" height="10.9" fill="#ff5050" opacity="0.59"/><rect x="434.6" y="637.1" width="0.9" height="10.8" fill="#ff5050" opacity="0.52"/><polygon points="433.0,621.0 435.1,620.8 437.1,621.0 439.2,619.0 441.3,617.4 443.4,619.1 445.4,617.9 447.5,617.4 449.6,616.3 451.6,615.1 453.7,614.1 455.8,615.0 457.9,615.0 459.9,614.6 462.0,612.0 462.0,621.0 433.0,630.0" fill="url(#wg6)"/><rect x="433.5" y="622.5" width="0.9" height="7.3" fill="#c0d040" opacity="0.54"/><rect x="434.8" y="622.5" width="0.9" height="5.3" fill="#ff9040" opacity="0.32"/><rect x="437.3" y="623.6" width="0.9" height="8.9" fill="#e05080" opacity="0.60"/><rect x="439.5" y="620.5" width="0.9" height="5.5" fill="#ff3030" opacity="0.48"/><rect x="441.9" y="622.1" width="0.9" height="5.5" fill="#ff3030" opacity="0.39"/><rect x="444.3" y="619.2" width="0.9" height="5.7" fill="#ff9040" opacity="0.54"/><rect x="445.6" y="618.3" width="0.9" height="5.4" fill="#ff9040" opacity="0.41"/><rect x="446.9" y="620.0" width="0.9" height="5.5" fill="#ff3030" opacity="0.42"/><rect x="449.0" y="618.8" width="0.9" height="6.3" fill="#ff3030" opacity="0.48"/><rect x="450.9" y="620.1" width="0.9" height="5.6" fill="#e05080" opacity="0.39"/><rect x="452.9" y="617.0" width="0.9" height="8.8" fill="#c0d040" opacity="0.46"/><rect x="454.4" y="617.6" width="0.9" height="6.0" fill="#ff3030" opacity="0.53"/><rect x="456.3" y="618.0" width="0.9" height="8.5" fill="#ff9040" opacity="0.44"/><rect x="458.1" y="617.1" width="0.9" height="7.6" fill="#ff9040" opacity="0.33"/><rect x="460.2" y="617.0" width="0.9" height="7.0" fill="#ff3030" opacity="0.44"/></g>
<rect x="500.8" y="616.4" width="1" height="5.7" fill="#40c040" opacity="0.85"/><rect x="493.9" y="620.3" width="1" height="5.4" fill="#40d040" opacity="0.85"/><rect x="492.4" y="621.2" width="1" height="3.1" fill="#1040e0" opacity="0.85"/><rect x="490.7" y="622.3" width="1" height="4.2" fill="#80e040" opacity="0.85"/><rect x="479.4" y="629.4" width="1" height="7.2" fill="#1040e0" opacity="0.85"/><rect x="480.1" y="628.9" width="1" height="7.3" fill="#20a060" opacity="0.85"/><rect x="467.5" y="637.1" width="1" height="7.3" fill="#40d040" opacity="0.85"/><rect x="470.0" y="635.3" width="1" height="3.1" fill="#2060c0" opacity="0.85"/><rect x="462.4" y="640.7" width="1" height="7.8" fill="#2060c0" opacity="0.85"/><rect x="461.1" y="641.5" width="1" height="3.2" fill="#40c040" opacity="0.85"/><rect x="450.2" y="649.1" width="1" height="6.6" fill="#1040e0" opacity="0.85"/><rect x="447.7" y="650.8" width="1" height="7.6" fill="#1040e0" opacity="0.85"/><rect x="441.3" y="659.5" width="1" height="5.9" fill="#20a060" opacity="0.85"/><rect x="426.7" y="670.3" width="1" height="3.5" fill="#20a060" opacity="0.85"/><rect x="432.5" y="666.7" width="1" height="4.3" fill="#80e040" opacity="0.85"/><rect x="433.4" y="666.1" width="1" height="6.1" fill="#40c040" opacity="0.85"/><rect x="417.0" y="676.3" width="1" height="7.2" fill="#40d040" opacity="0.85"/><rect x="418.3" y="675.5" width="1" height="5.9" fill="#40d040" opacity="0.85"/><rect x="420.6" y="674.1" width="1" height="4.7" fill="#2060c0" opacity="0.85"/><rect x="408.9" y="681.3" width="1" height="8.0" fill="#80e040" opacity="0.85"/><rect x="393.2" y="692.7" width="1" height="6.5" fill="#40c040" opacity="0.85"/><rect x="388.2" y="696.5" width="1" height="7.5" fill="#40d040" opacity="0.85"/><rect x="404.3" y="684.5" width="1" height="6.3" fill="#80e040" opacity="0.85"/><rect x="390.6" y="694.6" width="1" height="5.9" fill="#40c040" opacity="0.85"/><rect x="385.8" y="697.9" width="1" height="5.4" fill="#80e040" opacity="0.85"/><rect x="373.6" y="703.9" width="1" height="3.4" fill="#2060c0" opacity="0.85"/><rect x="381.8" y="699.9" width="1" height="3.8" fill="#40c040" opacity="0.85"/><rect x="367.5" y="710.0" width="1" height="5.1" fill="#2060c0" opacity="0.85"/><rect x="372.9" y="704.6" width="1" height="6.1" fill="#2060c0" opacity="0.85"/><rect x="368.2" y="709.3" width="1" height="5.9" fill="#40d040" opacity="0.85"/><rect x="349.2" y="722.2" width="1" height="7.9" fill="#40d040" opacity="0.85"/><rect x="356.7" y="719.1" width="1" height="3.2" fill="#2060c0" opacity="0.85"/><rect x="346.7" y="723.3" width="1" height="6.0" fill="#2060c0" opacity="0.85"/><rect x="334.4" y="729.4" width="1" height="7.9" fill="#40c040" opacity="0.85"/><rect x="339.2" y="727.1" width="1" height="3.8" fill="#2060c0" opacity="0.85"/><rect x="322.2" y="738.9" width="1" height="4.7" fill="#40c040" opacity="0.85"/><rect x="322.5" y="738.7" width="1" height="7.5" fill="#1040e0" opacity="0.85"/><rect x="317.6" y="742.6" width="1" height="7.3" fill="#1040e0" opacity="0.85"/><rect x="314.5" y="745.2" width="1" height="6.0" fill="#40d040" opacity="0.85"/><rect x="309.2" y="749.5" width="1" height="7.9" fill="#40d040" opacity="0.85"/><rect x="307.2" y="751.0" width="1" height="6.2" fill="#80e040" opacity="0.85"/><rect x="297.2" y="758.8" width="1" height="4.5" fill="#40c040" opacity="0.85"/><rect x="288.8" y="764.3" width="1" height="5.7" fill="#2060c0" opacity="0.85"/><rect x="279.9" y="773.0" width="1" height="7.9" fill="#40c040" opacity="0.85"/><rect x="278.3" y="774.8" width="1" height="6.1" fill="#80e040" opacity="0.85"/><rect x="271.8" y="778.8" width="1" height="6.2" fill="#40c040" opacity="0.85"/><rect x="264.0" y="784.5" width="1" height="6.4" fill="#40c040" opacity="0.85"/><rect x="252.7" y="785.9" width="1" height="4.4" fill="#1040e0" opacity="0.85"/><rect x="250.2" y="784.0" width="1" height="3.3" fill="#80e040" opacity="0.85"/><rect x="243.2" y="779.2" width="1" height="4.8" fill="#80e040" opacity="0.85"/><rect x="238.1" y="774.6" width="1" height="6.0" fill="#40c040" opacity="0.85"/><rect x="231.0" y="768.7" width="1" height="3.9" fill="#40c040" opacity="0.85"/><rect x="217.7" y="761.9" width="1" height="4.3" fill="#1040e0" opacity="0.85"/><rect x="226.4" y="767.2" width="1" height="7.1" fill="#40d040" opacity="0.85"/><rect x="207.9" y="755.8" width="1" height="3.7" fill="#40d040" opacity="0.85"/><rect x="213.3" y="759.2" width="1" height="7.0" fill="#20a060" opacity="0.85"/><rect x="200.9" y="752.5" width="1" height="6.4" fill="#80e040" opacity="0.85"/><rect x="197.1" y="751.5" width="1" height="3.5" fill="#40c040" opacity="0.85"/><rect x="188.5" y="742.2" width="1" height="6.4" fill="#20a060" opacity="0.85"/><rect x="183.7" y="739.3" width="1" height="7.3" fill="#20a060" opacity="0.85"/><rect x="187.4" y="741.3" width="1" height="6.7" fill="#20a060" opacity="0.85"/><rect x="170.2" y="732.1" width="1" height="5.3" fill="#20a060" opacity="0.85"/><rect x="171.1" y="732.5" width="1" height="3.2" fill="#20a060" opacity="0.85"/><rect x="166.9" y="729.7" width="1" height="7.2" fill="#40d040" opacity="0.85"/><rect x="160.6" y="725.7" width="1" height="4.4" fill="#80e040" opacity="0.85"/><rect x="154.0" y="725.2" width="1" height="6.1" fill="#40d040" opacity="0.85"/><rect x="146.5" y="718.9" width="1" height="4.5" fill="#40c040" opacity="0.85"/><rect x="143.5" y="716.4" width="1" height="6.2" fill="#40c040" opacity="0.85"/><rect x="134.5" y="710.0" width="1" height="5.0" fill="#1040e0" opacity="0.85"/><rect x="137.2" y="711.6" width="1" height="3.0" fill="#40d040" opacity="0.85"/><rect x="118.5" y="702.3" width="1" height="5.2" fill="#80e040" opacity="0.85"/><rect x="126.3" y="705.6" width="1" height="6.7" fill="#80e040" opacity="0.85"/><rect x="107.5" y="694.6" width="1" height="7.8" fill="#40d040" opacity="0.85"/><rect x="113.4" y="698.7" width="1" height="4.1" fill="#2060c0" opacity="0.85"/><rect x="105.9" y="693.4" width="1" height="7.9" fill="#2060c0" opacity="0.85"/><rect x="94.3" y="687.3" width="1" height="3.2" fill="#80e040" opacity="0.85"/><rect x="97.8" y="689.0" width="1" height="4.0" fill="#1040e0" opacity="0.85"/><rect x="85.3" y="681.1" width="1" height="3.1" fill="#80e040" opacity="0.85"/><rect x="90.7" y="685.1" width="1" height="5.5" fill="#20a060" opacity="0.85"/><rect x="74.6" y="674.5" width="1" height="5.6" fill="#1040e0" opacity="0.85"/><rect x="79.9" y="677.2" width="1" height="7.6" fill="#2060c0" opacity="0.85"/><rect x="69.7" y="671.3" width="1" height="4.3" fill="#40d040" opacity="0.85"/>
<rect x="61.7" y="657.1" width="1" height="4.6" fill="#ff8030" opacity="0.8"/><rect x="73.9" y="647.7" width="1" height="4.5" fill="#ff4040" opacity="0.8"/><rect x="85.1" y="636.2" width="1" height="9.5" fill="#ff4040" opacity="0.8"/><rect x="82.4" y="640.0" width="1" height="7.2" fill="#ff8030" opacity="0.8"/><rect x="105.2" y="622.3" width="1" height="9.0" fill="#ff8030" opacity="0.8"/><rect x="96.9" y="628.3" width="1" height="9.6" fill="#f0d020" opacity="0.8"/><rect x="120.2" y="611.7" width="1" height="8.8" fill="#ff4040" opacity="0.8"/><rect x="110.8" y="621.3" width="1" height="5.7" fill="#f0d020" opacity="0.8"/><rect x="137.0" y="598.8" width="1" height="9.1" fill="#ff8030" opacity="0.8"/><rect x="124.3" y="609.9" width="1" height="7.6" fill="#f0d020" opacity="0.8"/><rect x="142.4" y="598.7" width="1" height="5.5" fill="#ff4040" opacity="0.8"/><rect x="156.9" y="588.4" width="1" height="4.5" fill="#f0d020" opacity="0.8"/><rect x="162.3" y="584.2" width="1" height="4.0" fill="#ff8030" opacity="0.8"/><rect x="173.0" y="571.1" width="1" height="9.3" fill="#f0d020" opacity="0.8"/><rect x="167.4" y="577.7" width="1" height="6.5" fill="#ff8030" opacity="0.8"/><rect x="185.5" y="567.3" width="1" height="5.0" fill="#ff8030" opacity="0.8"/><rect x="183.0" y="565.0" width="1" height="8.8" fill="#ff4040" opacity="0.8"/><rect x="194.5" y="559.1" width="1" height="7.8" fill="#ff8030" opacity="0.8"/><rect x="201.4" y="554.1" width="1" height="7.9" fill="#f0d020" opacity="0.8"/><rect x="213.4" y="543.5" width="1" height="10.0" fill="#ff4040" opacity="0.8"/><rect x="209.4" y="546.8" width="1" height="9.5" fill="#f0d020" opacity="0.8"/><rect x="232.2" y="534.7" width="1" height="5.7" fill="#ff8030" opacity="0.8"/><rect x="229.4" y="534.8" width="1" height="7.5" fill="#f0d020" opacity="0.8"/><rect x="244.5" y="522.2" width="1" height="9.4" fill="#ff4040" opacity="0.8"/><rect x="258.8" y="512.8" width="1" height="8.2" fill="#ff8030" opacity="0.8"/><rect x="265.9" y="508.1" width="1" height="7.7" fill="#ff4040" opacity="0.8"/><rect x="272.3" y="502.4" width="1" height="9.6" fill="#ff8030" opacity="0.8"/><rect x="287.1" y="497.2" width="1" height="4.3" fill="#f0d020" opacity="0.8"/><rect x="324.2" y="486.1" width="1" height="9.8" fill="#ff8030" opacity="0.8"/><rect x="339.0" y="488.6" width="1" height="9.8" fill="#ff4040" opacity="0.8"/><rect x="345.1" y="502.7" width="1" height="5.9" fill="#ff4040" opacity="0.8"/><rect x="361.3" y="510.0" width="1" height="6.5" fill="#f0d020" opacity="0.8"/><rect x="359.9" y="511.4" width="1" height="4.5" fill="#f0d020" opacity="0.8"/><rect x="367.4" y="513.4" width="1" height="6.7" fill="#ff4040" opacity="0.8"/><rect x="368.3" y="513.1" width="1" height="7.6" fill="#ff4040" opacity="0.8"/><rect x="384.0" y="527.1" width="1" height="4.1" fill="#ff4040" opacity="0.8"/><rect x="385.8" y="526.1" width="1" height="6.2" fill="#ff8030" opacity="0.8"/><rect x="408.4" y="535.5" width="1" height="7.4" fill="#ff8030" opacity="0.8"/><rect x="408.1" y="536.2" width="1" height="6.5" fill="#ff4040" opacity="0.8"/><rect x="410.1" y="539.5" width="1" height="4.4" fill="#f0d020" opacity="0.8"/><rect x="410.9" y="536.3" width="1" height="8.1" fill="#ff4040" opacity="0.8"/><rect x="431.9" y="550.6" width="1" height="7.3" fill="#f0d020" opacity="0.8"/><rect x="426.6" y="544.2" width="1" height="10.0" fill="#ff4040" opacity="0.8"/><rect x="450.0" y="564.8" width="1" height="5.8" fill="#ff8030" opacity="0.8"/><rect x="447.3" y="563.5" width="1" height="5.2" fill="#ff4040" opacity="0.8"/><rect x="456.7" y="568.4" width="1" height="6.5" fill="#ff4040" opacity="0.8"/><rect x="456.3" y="567.9" width="1" height="6.7" fill="#f0d020" opacity="0.8"/><rect x="485.7" y="581.6" width="1" height="9.0" fill="#ff8030" opacity="0.8"/><rect x="473.3" y="580.2" width="1" height="4.2" fill="#ff8030" opacity="0.8"/><rect x="491.0" y="588.4" width="1" height="5.2" fill="#ff4040" opacity="0.8"/><rect x="493.4" y="589.6" width="1" height="5.6" fill="#ff8030" opacity="0.8"/><rect x="502.0" y="591.0" width="1" height="9.6" fill="#f0d020" opacity="0.8"/>
<text x="551" y="146" font-size="13.5">1.00 µm</text>
<text x="551" y="222" font-size="13.5">0.00 µm</text>
<text transform="translate(137,339) rotate(35)" text-anchor="middle" dominant-baseline="central" font-size="13.5">y: 960</text>
<text transform="translate(417,313) rotate(-35.2)" text-anchor="middle" dominant-baseline="central" font-size="13.5">x: 1.3 × 103</text>
<rect x="609" y="29" width="17" height="335" fill="url(#cb)" stroke="#444" stroke-width="1"/>
<line x1="626" y1="29.0" x2="633" y2="29.0" stroke="#222" stroke-width="1"/>
<text x="636" y="33.9" font-size="13.5">1.0 µm</text>
<line x1="626" y1="62.5" x2="633" y2="62.5" stroke="#888" stroke-width="1"/>
<text x="636" y="67.4" font-size="13.5">0.9</text>
<line x1="626" y1="96.0" x2="633" y2="96.0" stroke="#222" stroke-width="1"/>
<text x="636" y="100.9" font-size="13.5">0.8</text>
<line x1="626" y1="129.5" x2="633" y2="129.5" stroke="#888" stroke-width="1"/>
<text x="636" y="134.4" font-size="13.5">0.7</text>
<line x1="626" y1="163.0" x2="633" y2="163.0" stroke="#222" stroke-width="1"/>
<text x="636" y="167.9" font-size="13.5">0.6</text>
<line x1="626" y1="196.5" x2="633" y2="196.5" stroke="#888" stroke-width="1"/>
<text x="636" y="201.4" font-size="13.5">0.5</text>
<line x1="626" y1="230.0" x2="633" y2="230.0" stroke="#222" stroke-width="1"/>
<text x="636" y="234.9" font-size="13.5">0.4</text>
<line x1="626" y1="263.5" x2="633" y2="263.5" stroke="#888" stroke-width="1"/>
<text x="636" y="268.4" font-size="13.5">0.3</text>
<line x1="626" y1="297.0" x2="633" y2="297.0" stroke="#222" stroke-width="1"/>
<text x="636" y="301.9" font-size="13.5">0.2</text>
<line x1="626" y1="330.5" x2="633" y2="330.5" stroke="#888" stroke-width="1"/>
<text x="636" y="335.4" font-size="13.5">0.1</text>
<line x1="626" y1="364.0" x2="633" y2="364.0" stroke="#222" stroke-width="1"/>
<text x="636" y="368.9" font-size="13.5">0.0</text>
<g stroke="#333" stroke-width="1" fill="none">
<polyline points="55,674.8 59.3,671.9 259.8,796.7 264.5,799.8"/>
<polyline points="255.5,799.8 259.8,796.7 509.9,617.4"/>
<line x1="509.9" y1="617.4" x2="509.9" y2="595.5"/>
<line x1="509.9" y1="617.4" x2="514.7" y2="620.5"/>
<line x1="509.9" y1="608.7" x2="514.7" y2="611.8"/>
<line x1="509.9" y1="595.5" x2="514.7" y2="598.6"/>
<line x1="157.6" y1="736" x2="153.5" y2="739"/>
<line x1="386.5" y1="707.3" x2="389" y2="710.8"/>
</g>
<text x="530" y="613" font-size="15.1">1.00 µm</text>
<text x="530" y="635.3" font-size="15.1">0.00 µm</text>
<text transform="translate(132,752) rotate(32)" text-anchor="middle" dominant-baseline="central" font-size="15.1">y: 960</text>
<text transform="translate(405,720) rotate(-35.6)" text-anchor="middle" dominant-baseline="central" font-size="15.1">x: 1.3 × 103</text>
<rect x="596" y="447.7" width="19" height="376" fill="url(#cb)" stroke="#444" stroke-width="1"/>
<line x1="615" y1="447.7" x2="622" y2="447.7" stroke="#222" stroke-width="1"/>
<text x="625" y="453.1" font-size="15.1">1.0 µm</text>
<line x1="615" y1="485.3" x2="622" y2="485.3" stroke="#888" stroke-width="1"/>
<text x="625" y="490.7" font-size="15.1">0.9</text>
<line x1="615" y1="522.9" x2="622" y2="522.9" stroke="#222" stroke-width="1"/>
<text x="625" y="528.3" font-size="15.1">0.8</text>
<line x1="615" y1="560.5" x2="622" y2="560.5" stroke="#888" stroke-width="1"/>
<text x="625" y="565.9" font-size="15.1">0.7</text>
<line x1="615" y1="598.1" x2="622" y2="598.1" stroke="#222" stroke-width="1"/>
<text x="625" y="603.5" font-size="15.1">0.6</text>
<line x1="615" y1="635.7" x2="622" y2="635.7" stroke="#888" stroke-width="1"/>
<text x="625" y="641.1" font-size="15.1">0.5</text>
<line x1="615" y1="673.3" x2="622" y2="673.3" stroke="#222" stroke-width="1"/>
<text x="625" y="678.7" font-size="15.1">0.4</text>
<line x1="615" y1="710.9" x2="622" y2="710.9" stroke="#888" stroke-width="1"/>
<text x="625" y="716.3" font-size="15.1">0.3</text>
<line x1="615" y1="748.5" x2="622" y2="748.5" stroke="#222" stroke-width="1"/>
<text x="625" y="753.9" font-size="15.1">0.2</text>
<line x1="615" y1="786.1" x2="622" y2="786.1" stroke="#888" stroke-width="1"/>
<text x="625" y="791.5" font-size="15.1">0.1</text>
<line x1="615" y1="823.7" x2="622" y2="823.7" stroke="#222" stroke-width="1"/>
<text x="625" y="829.1" font-size="15.1">0.0</text>
</svg>
<canvas id="cA" width="685" height="430" style="position:absolute;left:0;top:0;z-index:2"></canvas>
<svg width="685" height="430" viewBox="0 0 685 430" style="position:absolute;left:0;top:0;z-index:3">
<defs><linearGradient id="cg0" gradientUnits="userSpaceOnUse" x1="0" y1="296.9" x2="0" y2="318.0"><stop offset="0" stop-color="#f46a6a"/><stop offset="0.35" stop-color="#ff3a30"/><stop offset="0.8" stop-color="#ff6020"/><stop offset="1" stop-color="#ff8020"/></linearGradient><linearGradient id="cg1" gradientUnits="userSpaceOnUse" x1="0" y1="280.6" x2="0" y2="347.0"><stop offset="0" stop-color="#f46a6a"/><stop offset="0.3" stop-color="#f25a5a"/><stop offset="0.65" stop-color="#e05a50"/><stop offset="0.85" stop-color="#80a050"/><stop offset="1" stop-color="#30a060"/></linearGradient><linearGradient id="cg2" gradientUnits="userSpaceOnUse" x1="0" y1="254.1" x2="0" y2="326.0"><stop offset="0" stop-color="#f46a6a"/><stop offset="0.3" stop-color="#f06068"/><stop offset="0.6" stop-color="#c05890"/><stop offset="0.85" stop-color="#7040c0"/><stop offset="1" stop-color="#3030d0"/></linearGradient><linearGradient id="cg3" gradientUnits="userSpaceOnUse" x1="0" y1="230.4" x2="0" y2="311.0"><stop offset="0" stop-color="#f46a6a"/><stop offset="0.3" stop-color="#f0606a"/><stop offset="0.6" stop-color="#b058a0"/><stop offset="0.85" stop-color="#6040c8"/><stop offset="1" stop-color="#2828e0"/></linearGradient><linearGradient id="cg4" gradientUnits="userSpaceOnUse" x1="0" y1="194.7" x2="0" y2="267.0"><stop offset="0" stop-color="#f46a6a"/><stop offset="0.35" stop-color="#f25858"/><stop offset="0.6" stop-color="#e87050"/><stop offset="0.8" stop-color="#60c040"/><stop offset="1" stop-color="#20a050"/></linearGradient><linearGradient id="cg5" gradientUnits="userSpaceOnUse" x1="0" y1="172.8" x2="0" y2="248.5"><stop offset="0" stop-color="#f46a6a"/><stop offset="0.35" stop-color="#f04848"/><stop offset="0.6" stop-color="#c05090"/><stop offset="0.85" stop-color="#50a070"/><stop offset="1" stop-color="#2060a0"/></linearGradient><linearGradient id="cg6" gradientUnits="userSpaceOnUse" x1="0" y1="152.4" x2="0" y2="220.5"><stop offset="0" stop-color="#f46a6a"/><stop offset="0.3" stop-color="#e05a88"/><stop offset="0.55" stop-color="#a040b8"/><stop offset="0.8" stop-color="#5030d0"/><stop offset="1" stop-color="#1818e8"/></linearGradient><linearGradient id="cg7" gradientUnits="userSpaceOnUse" x1="0" y1="145.3" x2="0" y2="216.0"><stop offset="0" stop-color="#f46a6a"/><stop offset="0.3" stop-color="#d86878"/><stop offset="0.55" stop-color="#9858a0"/><stop offset="0.8" stop-color="#407890"/><stop offset="1" stop-color="#208070"/></linearGradient><linearGradient id="cg8" gradientUnits="userSpaceOnUse" x1="0" y1="138.7" x2="0" y2="208.5"><stop offset="0" stop-color="#f46a6a"/><stop offset="0.3" stop-color="#c87868"/><stop offset="0.5" stop-color="#909060"/><stop offset="0.75" stop-color="#50b060"/><stop offset="1" stop-color="#30a050"/></linearGradient><clipPath id="clipA2"><polygon points="66.6,225.9 68.8,223.7 74.6,229.6 81.9,220.0 91.4,204.0 95.0,206.2 102.3,198.2 108.2,183.6 111.8,177.0 115.5,179.2 118.4,188.0 122.8,205.5 127.2,205.5 135.9,196.7 141.8,186.5 147.6,173.4 149.8,158.8 152.0,150.0 156.6,146.6 160.0,149.6 165.8,144.5 170.2,144.5 174.6,141.5 179.0,131.3 180.4,119.6 182.6,116.7 184.8,119.6 187.0,131.3 190.7,131.3 195.0,132.8 197.2,123.3 200.1,126.2 203.8,132.8 206.7,134.2 211.1,124.0 214.7,110.9 218.4,118.2 221.3,113.8 225.7,108.7 230.1,110.9 234.5,116.7 238.8,125.5 241.0,115.3 244.7,102.1 249.1,94.8 252.7,91.9 253.4,78.8 255.6,76.6 257.8,78.0 260.0,85.0 264.4,88.6 268.8,87.9 273.9,85.7 274.6,76.2 277.5,78.4 281.9,71.8 287.0,68.2 293.6,63.8 299.4,61.6 303.8,59.4 306.7,53.6 308.9,45.5 311.1,47.7 314.7,39.0 316.2,36.1 317.7,39.0 319.9,30.2 320.6,27.3 322.0,31.7 327.2,44.1 330.1,38.2 332.3,44.8 334.5,48.5 338.1,45.5 341.0,48.5 344.7,41.2 349.1,47.0 353.4,53.6 357.1,56.0 360.0,54.4 364.4,58.0 368.8,56.6 373.1,66.8 379.0,69.0 381.9,71.2 386.3,62.4 389.2,71.9 393.6,81.4 398.7,75.5 402.3,84.3 406.7,85.0 410.4,89.4 415.5,99.6 419.9,98.2 424.2,100.4 427.2,96.7 431.5,108.4 435.9,114.2 439.6,108.4 443.2,105.5 445.8,100.7 448.8,108.8 453.9,111.7 457.5,101.5 459.7,111.7 461.9,117.5 467.0,119.0 469.2,124.8 472.1,138.0 475.0,138.0 477.2,142.3 479.4,140.9 481.6,133.6 483.8,138.0 486.7,134.3 490.4,135.0 491.8,138.0 491.8,152.6 494.7,150.4 498.4,152.6 503.5,148.2 507.2,155.5 511.5,156.9 514.5,161.3 518.8,170.1 523.2,171.5 526.1,178.8 529.1,183.2 530.0,184.0 526.4,184.6 522.0,190.4 517.6,198.5 514.7,200.7 511.0,198.5 505.9,205.0 503.0,199.2 498.6,209.4 494.2,213.8 488.4,218.2 481.1,218.2 478.2,226.9 475.3,235.7 470.9,238.6 465.0,240.1 460.7,245.9 457.7,251.8 455.5,256.1 443.1,263.4 440.2,259.1 438.0,264.9 436.4,265.5 430.5,267.0 424.7,268.5 419.6,269.2 415.9,267.7 411.5,269.2 407.9,275.0 405.7,282.3 402.8,286.7 399.9,290.4 395.5,292.6 389.6,294.0 382.3,295.5 377.2,298.4 375.0,308.6 369.2,312.3 363.4,311.5 359.0,315.9 354.6,318.8 348.8,316.6 345.1,317.4 342.9,321.8 340.0,329.0 334.9,333.8 330.5,336.7 324.7,339.6 319.6,341.8 315.9,344.7 310.1,344.0 304.2,348.4 299.9,351.3 296.9,352.8 292.6,357.2 288.2,363.0 283.8,365.2 279.4,365.9 277.2,369.6 273.6,372.5 269.9,371.8 267.7,364.5 263.4,361.5 259.0,358.6 256.4,358.3 252.0,353.2 247.6,348.8 243.2,354.7 239.6,356.1 235.9,353.2 231.5,347.4 227.2,345.9 222.8,340.1 218.4,338.6 215.5,341.5 213.3,334.2 210.4,331.3 208.2,333.5 203.8,332.8 199.4,331.3 195.8,328.4 193.6,319.6 190.7,315.3 187.0,310.9 181.9,311.6 177.5,306.5 173.1,305.0 168.8,302.1 164.4,299.9 160.0,297.4 156.4,298.8 152.0,297.4 149.0,303.2 144.7,298.8 140.3,285.7 134.5,278.4 128.6,279.9 125.7,286.4 124.2,281.3 119.9,274.0 115.5,270.4 111.1,272.6 107.4,271.8 103.8,263.8 99.4,255.0 95.0,251.4 87.7,250.7 81.9,247.0 74.6,239.0 71.0,233.9 66.6,227.0"/></clipPath></defs>
<g clip-path="url(#clipA2)"><polygon points="256.1,300.2 257.9,300.5 259.7,300.1 261.5,300.6 263.2,298.2 265.0,297.5 266.8,297.0 268.6,294.7 268.6,316.0 256.1,320.0" fill="url(#cg0)"/><rect x="256.7" y="305.3" width="0.8" height="12.9" fill="#c0e030" opacity="0.38"/><rect x="258.2" y="306.0" width="0.8" height="11.6" fill="#ff2020" opacity="0.56"/><rect x="259.8" y="305.1" width="1.0" height="12.1" fill="#ff2020" opacity="0.64"/><rect x="261.2" y="305.1" width="0.7" height="11.7" fill="#d040a0" opacity="0.46"/><rect x="263.0" y="301.4" width="0.8" height="15.7" fill="#ff2020" opacity="0.58"/><rect x="264.7" y="304.2" width="0.9" height="10.5" fill="#ff9020" opacity="0.60"/><rect x="266.3" y="300.2" width="0.9" height="16.3" fill="#ff9020" opacity="0.49"/><polygon points="277.1,285.3 278.8,285.3 280.4,286.5 282.1,285.3 283.7,281.5 285.4,281.4 287.0,283.0 288.7,280.6 290.3,281.6 292.0,278.7 293.6,277.0 293.6,344.0 277.1,350.0" fill="url(#cg1)"/><rect x="277.7" y="298.5" width="0.8" height="45.2" fill="#8030d0" opacity="0.47"/><rect x="279.2" y="294.6" width="0.7" height="47.4" fill="#c0e030" opacity="0.44"/><rect x="280.3" y="299.7" width="0.7" height="47.8" fill="#40c040" opacity="0.51"/><rect x="281.6" y="289.4" width="1.2" height="53.9" fill="#ff9020" opacity="0.49"/><rect x="284.4" y="298.7" width="0.7" height="40.9" fill="#8030d0" opacity="0.70"/><rect x="285.4" y="300.1" width="0.8" height="42.0" fill="#ff9020" opacity="0.36"/><rect x="286.7" y="285.1" width="1.0" height="56.5" fill="#8030d0" opacity="0.49"/><rect x="288.1" y="293.6" width="0.8" height="52.3" fill="#ff8080" opacity="0.48"/><rect x="289.9" y="290.5" width="1.4" height="50.2" fill="#ff4040" opacity="0.41"/><rect x="291.7" y="294.5" width="1.3" height="48.1" fill="#40c040" opacity="0.41"/><polygon points="306.9,264.3 308.5,264.8 310.1,264.3 311.8,262.4 313.4,261.8 315.0,259.4 316.6,258.4 318.3,257.7 319.9,258.2 321.5,256.3 323.1,257.1 324.8,255.0 326.4,254.1 328.0,254.9 329.6,252.5 331.3,251.7 332.9,252.2 334.5,251.4 336.1,247.5 337.8,247.8 339.4,247.5 341.0,244.8 341.0,322.0 306.9,330.0" fill="url(#cg2)"/><rect x="307.5" y="269.5" width="1.1" height="58.6" fill="#40c040" opacity="0.61"/><rect x="309.0" y="271.3" width="1.0" height="57.9" fill="#8030d0" opacity="0.48"/><rect x="311.1" y="271.8" width="0.8" height="50.0" fill="#ff8080" opacity="0.58"/><rect x="313.0" y="267.4" width="1.1" height="60.8" fill="#ff2020" opacity="0.52"/><rect x="314.9" y="264.8" width="0.9" height="58.4" fill="#ff9020" opacity="0.52"/><rect x="317.1" y="278.4" width="0.9" height="48.6" fill="#ff8080" opacity="0.61"/><rect x="319.5" y="272.6" width="1.2" height="47.7" fill="#ff8080" opacity="0.47"/><rect x="321.9" y="274.0" width="1.3" height="48.9" fill="#ff2020" opacity="0.65"/><rect x="324.3" y="265.1" width="1.1" height="55.8" fill="#ff9020" opacity="0.38"/><rect x="326.5" y="271.9" width="1.4" height="47.2" fill="#ff4040" opacity="0.68"/><rect x="329.1" y="263.8" width="1.0" height="56.2" fill="#ff2020" opacity="0.46"/><rect x="330.6" y="271.1" width="0.7" height="52.3" fill="#d040a0" opacity="0.44"/><rect x="331.6" y="266.0" width="0.9" height="56.4" fill="#c0e030" opacity="0.61"/><rect x="333.2" y="262.2" width="1.4" height="59.4" fill="#ff4040" opacity="0.58"/><rect x="335.2" y="266.3" width="1.0" height="48.7" fill="#40c040" opacity="0.48"/><rect x="337.2" y="254.0" width="0.9" height="64.3" fill="#ff2020" opacity="0.60"/><rect x="339.7" y="253.3" width="0.9" height="64.9" fill="#8030d0" opacity="0.67"/><polygon points="348.1,235.4 349.7,235.4 351.3,235.1 352.9,234.8 354.5,234.1 356.1,233.7 357.8,232.1 359.4,230.2 361.0,231.2 362.6,228.4 364.2,228.8 365.8,226.3 365.8,310.0 348.1,312.0" fill="url(#cg3)"/><rect x="348.7" y="244.7" width="1.2" height="64.0" fill="#ff2020" opacity="0.57"/><rect x="350.7" y="252.1" width="0.8" height="57.1" fill="#c0e030" opacity="0.63"/><rect x="353.1" y="239.6" width="0.8" height="66.8" fill="#ff8080" opacity="0.69"/><rect x="355.1" y="245.1" width="0.8" height="64.4" fill="#ff2020" opacity="0.61"/><rect x="356.9" y="239.8" width="0.7" height="63.7" fill="#c0e030" opacity="0.49"/><rect x="359.0" y="236.3" width="1.3" height="65.3" fill="#ff4040" opacity="0.40"/><rect x="361.2" y="250.1" width="1.1" height="56.7" fill="#ff8080" opacity="0.51"/><rect x="363.5" y="245.7" width="0.8" height="56.4" fill="#ff9020" opacity="0.42"/><polygon points="397.5,201.9 399.2,203.8 400.9,202.8 402.7,200.2 404.4,200.0 406.1,197.4 407.8,198.4 409.6,197.2 411.3,194.4 413.0,192.4 414.7,192.6 416.5,192.0 418.2,191.7 419.9,188.5 419.9,262.0 397.5,272.0" fill="url(#cg4)"/><rect x="398.1" y="206.6" width="1.0" height="58.3" fill="#ff9020" opacity="0.50"/><rect x="399.5" y="216.0" width="1.1" height="47.3" fill="#d040a0" opacity="0.40"/><rect x="401.5" y="217.3" width="1.2" height="47.0" fill="#d040a0" opacity="0.55"/><rect x="403.9" y="209.6" width="1.2" height="54.7" fill="#c0e030" opacity="0.53"/><rect x="406.6" y="206.1" width="1.1" height="58.6" fill="#40c040" opacity="0.46"/><rect x="408.1" y="204.5" width="1.1" height="58.4" fill="#ff4040" opacity="0.54"/><rect x="410.2" y="199.4" width="1.1" height="58.5" fill="#ff4040" opacity="0.54"/><rect x="412.9" y="198.9" width="0.8" height="64.8" fill="#d040a0" opacity="0.49"/><rect x="415.2" y="200.3" width="1.3" height="59.6" fill="#c0e030" opacity="0.47"/><rect x="418.0" y="209.3" width="1.4" height="48.9" fill="#ff9020" opacity="0.42"/><polygon points="430.4,176.5 432.1,178.6 433.7,175.2 435.4,176.8 437.0,173.5 438.7,173.5 440.4,173.0 442.0,173.9 443.7,172.0 445.3,171.5 447.0,170.1 447.0,245.0 430.4,252.0" fill="url(#cg5)"/><rect x="431.0" y="182.8" width="1.1" height="62.3" fill="#ff9020" opacity="0.65"/><rect x="433.2" y="191.9" width="1.2" height="50.9" fill="#ff2020" opacity="0.48"/><rect x="435.3" y="182.1" width="1.1" height="66.0" fill="#40c040" opacity="0.54"/><rect x="437.8" y="192.7" width="1.1" height="54.1" fill="#ff8080" opacity="0.67"/><rect x="439.6" y="193.1" width="0.9" height="53.1" fill="#40c040" opacity="0.66"/><rect x="441.0" y="189.3" width="0.9" height="55.9" fill="#ff9020" opacity="0.50"/><rect x="443.4" y="188.0" width="1.1" height="56.7" fill="#ff2020" opacity="0.38"/><rect x="445.5" y="189.1" width="1.0" height="53.3" fill="#ff8080" opacity="0.53"/><polygon points="459.3,156.7 461.0,155.8 462.6,154.3 464.3,153.3 466.0,152.0 467.7,152.7 469.3,151.5 471.0,149.1 471.0,219.0 459.3,222.0" fill="url(#cg6)"/><rect x="459.9" y="162.9" width="1.1" height="57.5" fill="#40c040" opacity="0.41"/><rect x="461.5" y="169.6" width="0.9" height="47.2" fill="#c0e030" opacity="0.68"/><rect x="463.3" y="163.5" width="1.2" height="53.7" fill="#ff8080" opacity="0.50"/><rect x="465.6" y="167.7" width="0.7" height="45.8" fill="#c0e030" opacity="0.49"/><rect x="467.1" y="170.2" width="1.0" height="44.8" fill="#ff9020" opacity="0.53"/><rect x="468.4" y="167.6" width="1.3" height="46.2" fill="#ff4040" opacity="0.55"/><rect x="470.2" y="159.5" width="1.1" height="53.3" fill="#8030d0" opacity="0.67"/><polygon points="471.0,149.1 472.7,150.2 474.3,149.3 476.0,146.8 477.7,147.4 479.3,146.3 481.0,142.6 481.0,214.0 471.0,218.0" fill="url(#cg7)"/><rect x="471.6" y="165.0" width="1.2" height="46.3" fill="#ff4040" opacity="0.42"/><rect x="473.3" y="156.8" width="1.3" height="59.4" fill="#ff8080" opacity="0.70"/><rect x="476.1" y="154.7" width="0.7" height="53.1" fill="#8030d0" opacity="0.47"/><rect x="478.0" y="157.6" width="1.1" height="54.3" fill="#d040a0" opacity="0.57"/><rect x="480.3" y="163.2" width="1.2" height="50.9" fill="#ff9020" opacity="0.61"/><polygon points="481.0,142.6 482.7,142.4 484.5,140.0 486.2,139.4 487.9,138.9 489.7,136.8 491.4,135.8 491.4,205.0 481.0,212.0" fill="url(#cg8)"/><rect x="481.6" y="160.7" width="0.9" height="46.3" fill="#ff4040" opacity="0.69"/><rect x="483.5" y="155.4" width="1.4" height="48.2" fill="#ff9020" opacity="0.54"/><rect x="486.1" y="149.8" width="1.4" height="50.9" fill="#ff4040" opacity="0.52"/><rect x="488.0" y="152.0" width="1.0" height="54.8" fill="#d040a0" opacity="0.50"/><rect x="490.0" y="146.9" width="1.1" height="56.6" fill="#8030d0" opacity="0.55"/></g>
<g stroke="#333" stroke-width="1" fill="none">
<polyline points="61.4,254.2 66.1,251.1 264.7,391.3 269.8,394.8"/>
<polyline points="260.3,394.8 264.7,391.3 530.6,204"/>
<line x1="530.6" y1="204" x2="530.6" y2="127"/>
<line x1="530.6" y1="204" x2="535" y2="207"/>
<line x1="530.6" y1="166" x2="535" y2="169"/>
<line x1="530.6" y1="127.5" x2="535" y2="130.5"/>
<line x1="165.3" y1="321.5" x2="160.7" y2="324.5"/>
<line x1="398.5" y1="297.7" x2="402" y2="301.4"/>
</g>
</svg>
<div class="bd" style="left:0;top:0;width:685px;height:1px"></div>
<div class="bd" style="left:0;top:859px;width:685px;height:1px"></div>
<div class="bd" style="left:0;top:0;width:1px;height:860px"></div>
<div class="bd" style="left:684px;top:0;width:1px;height:860px"></div>
<div class="bd" style="left:44px;top:0;width:1px;height:860px"></div>
<div class="bd" style="left:0;top:425px;width:685px;height:2px;background:#888"></div>
<div class="lab" style="left:9px;top:191px">(a)</div>
<div class="lab" style="left:8.5px;top:620px">(b)</div>
<script>
(function(){
var NU=200,NW=150,S=50,F=[257.97,424.05],R=[590.35,189.93],L=[9.72,248.80];
var d=atob("GBgVERcYFBYWFhYWExQVFxcUEhQVFRoXDA4SExYZHhwfKCUhHRoeHxkUEw8UGRsbHh4eGxwbGAsLDRQdICAcHB8eICEcICMgHiEhHg8JCwwQDgsXIiIeIB8ZGBYVFBcPEhQREw4QDhASDw0YJCAdIB8hIB8eIB4iIRIPIScdHCAcHh8hHyAfHR4cHRscJCEeHB0fIiEcFxQRERUYFBQRFRcWExUXGBoWEhUVFRUVEBMSEhcaGx4fJyQeHR4bHxwZFA0TFx0cHBsgHxsbFwsIDQ8aIR8eHR8dHx8eISIgHyAdGQ4NCgsPEA8XICAdIRwVFhYVEhgSERUUFA4ODg4PDQ8cIh4cIBscHh0fICEeHBUSIyEeIR8cISMgICEeICAdGxwdIiAdHR8eIiUhFBQTEhQWGBcWGBgYFRMUFRMTEhcWExITExMSExUYGx8hICMgIiMbHhoXEhEVGhwYGh0cGhwcGA0KCQ4YICIfHiAiIh4hIyUdHiMeGBIRCwwOERIdHh4gJCAWFxgVFBUSFBUUFg8MDBAMDxQeIh0aIB0dHSEiICIfHRgWHB8eIR4fIiQgJCEeHyAdGxsbHR0dHyAfIiUmFxUWFBMWGBoXGhsYGRYUFhQVFBcXExMRFBYWGBgVGCAiIichIyQfHRoXFhUVGBoVGhwZHRgXFQ4HCgwQGB4iHBwgIyEiHyIgHSQlGxIRCQcJDBAeIB4hJiMZFhgUFxYXFhIUFxALCAkPEhUdHyAdIyQiHiAhJCEcHx4ZGx0ZGRsgIiMgIx8eIR0YGxwXGRgWGx4gIyEdExgbFxYZFhQSFhoTFBIVGBYYFxcbGBQREhUWGxsUFyIdHyIeHiAiIR0YFhcVFBQUGh0bGhYXFQsFBwsKFhofHBogJCIjHxsgHR0jHREQDAwLDBAgIiIfHx4REhgXGBcZFA8PEhALBAYMDxEZHCMhJSUiHx8dIiEiIh0WGRwbHBwiJCMgIR4dIiAcHx0bGBcaISIjIB0cERcZFxUUFBEUFRQUFBETFxYZExIYGBMQEhITEhQPFiEfIB4bHCEiIhwVFBkaGBYXHRwYGBMUFg0IBwsQFRwfHx8eHh8eHh4hHR4jHRERDw0MChMhIh4eHBwWExgXGBkeFxERDxERDw8LDRMeIiMoIx8gISAeIyIkIxYSFRweHx4iJB4fIR8gJiUhHyMeFxodJSMgGx8cEBUUGBcQEhEVFxIYFBIVGBMVEhYXFhYRFBgVFxYSFh0eHR0bHyEhHR0VEBUYGxwdHxoVGBoWEgwLDAkNEBsgICEdHh4fHh0hHR0iIBQREwwKCxUfJCIgHBkcGRcVFhgaEhMVFBQSDg4IChQaHyAgIRsaHB0fISEgIxgUFhkdICIjJB8eJB8hJCUeHR4YFBsZISMgGyAeEBESFRYPEhYWFhEWEhUZGxgYExUYFhUSFRcTFRoYFxodHiEgIx8gIBwUExQRGBsbHBkZGxwXEAoNCgoNFB4fISAeICEhHyAiIB4gHhYTEhAOERgfISAjHRYYFxUZGh0bGBkcFxYSDQ4TDhUZGxodIR0fICQhIyIeHBoSEhkgHyAhJSUeHxkdHSQhHhsZHB4hJCIcGx4jERIUEhIVFBUWFBMWFhUTFhgZExYXFhcZFxUTFRcbHBseGxshIx8iHxoVExMTFRgZFxcbGxwVDw4TERUTFBwcHB8gICEgIiEfHh4iGxocGhkbFxgcGRceHRsZGRgfHx4YHB8gHhoXGRkYGB4aGxsgIiIiHiUhICAfHhsSDhYfICAhIiEiGxkbGR4kIRseHx8gICAcIB8jEBQXGBQYFhUZFxocGRUTFxcUFBkaERYWGBcUERASGhweHhwhJCIfIRsSEBIUExUaHhocHiEYGhYYHCEaGB4bHSAfHh8gIR4cHR8dGhkZFhcYGBkaGxcYFBYXFxQZHBoYFxYbHBYTFxcQFhwbGx0fHh4fHB8aHyEeHx8VERYdHh8eHBwjHx4eHyIhGxcZHCEdGxwdIB8kFhodHRgTExccGhoXFxcVGBgVFxkXFRQUFxUTEQ8RGBodIyIeIB8hHR0bFhoYGBcZHBoZHB8fIRwfISAhIBwZHSQgGRscHh4ZHyIdGBcQDAwSGBoeIR4aGRoWFRYWFRYbGBIUFRERDw8PEBAXGx0cHx8cGh4bISIbGh0bGR4gICAiIB8mISEfIiMcFhcaHB8fIR0gICQoGBoXEhEPERUZGRcVFRYVFxcUEBIUGRcZGRYVFBIXGxobHh8aGh0dFRgZFxsaGBUVGRsWFhgdIyMfISMiHhkZGR4cFhodHyAeHiAgGhcWEAwSGBogIh8dHBkYFxsZGBwZFxMTEhAPDxARERIZHB0bICEjHx0cIB0bGh4bHiAcHiMgHyQnIyQhJCEeGhweHRwdHx0hJCMiFhcXExMUFRQVFxYZGxgSFxcWEhQTGRsdGBQYGBcbGhUWFxoZFxkbGBkZGBUZFxgXHRwYGhogIB0cHSAgGxgdHxwZGRobGRobHCAdHBkcGRQXGRsbHB8eHR4aFxoYFxcbGxUXFhITFBISDRAXHB8eHh8gGyIeHB0YGhkZHB8cHSAeICEgJCMeISEdGBsfHx4fIR8hKCMjFxYUFhUXGhcYFRcaGBQTFBQWGRYUFhoYGRYXFhsaGRcWFhoZFxcZGh0cGBUYGBscHhwbHRodHxsYFhgcFRYbGxsYHCAaGBcZHyIcGhweHBYVGBoYGR4eHCAaGRoYGBccHBgbGhkbFw4ODg4RFB4fHSAeHSIhHx4YGBYVGh4bHSAgHSEiIB4dHRofHiAgIB4dIyAgIyUkGRgVFRIRFBQcGxkWGREREhMXGRsZGBcVExITFhsVFRoZGxsYGBoZGRscGRYaHB8fHBgZHBkbHBcXFhoYERMSFBYXGBcUFhUZISIdGh0gHRgXGBcTFhsgHh0bGRsbHRsbIB0cGBUcGxILDg4OCxYWGx8aGh8lJSAgHhsaGh4dIB4ZGR8fHB0eHBohJCMeHR0fHx8eISIkFhcTERIUExEWGBYTFRISFBcbGxgWFhUVDhIQFhsWFB4hICAcICIfHh8eGhwcHB8fHBcXFRQSERMTEhQQDQ8RExUVFRYYHBgbGh8eICIhHBwaGBUUFBYcGxwcHR0eHhwaHx8aFxgfHBYQDQwPChIWGhwcICAjJCMiHBwdGRwZGRgbGx0dHxwfHBweJCQgICAhHiEgHBofFhkWEhEUEhEVGRYTFRMSFhYZFxQXGRUTERISExobGR4hIh8eISIhIBsZFRcYGBkXFRANEQwQEQ0MDQ4FCQsRFhcXFxYbHRoXGB8jJCAgIiEeFhMSERIVHR0cIiIjIR8dISQgHR4eGxkVEA4LChITGCEjIyMjJCckHyAgGhocGBYcIR8fHB4gHSEjJCYhHyEhHSMiHyEfGhgXFBQVExQVGRgZFxweGhoYERccHRocGBgdFRkdHyEkIyElJCgnIhwbGx0hHRoQDQwSFA0RDgQBDAwEDBARFxEVGhwdHh4cIyYpKicoKywoHhoWExMYGh0jKSonKiwlJzAqIx4fGRkXExgREhMQFyAoKCktLCslJCIlIB8eHh4fHxwgKSYeJScrLConIiYmJSYmJiolGBYWFhUUFhkTFBUYFBsgGBYQDhkeHR4jJRsfFxQdJiYmMS0mKCspKSMjJigsHhoTDQ8NFA4REQQCDQwIAwgVHBMVHyEgGhooLDEqMS4sMjMtKCAcGhkbGSUrLCwqLy8uLTAuLCopJR4hHxwWGRQRFR4kJi0wLy8oJysvLCohJSQlIygvMichLDM0OC8rKi4pKSszMDExFxUXFQ8RFhgUEhQSFRgbGRYGCxgbJiYrMyYjHSErLiotNjEkKyEhJzE2Pz0wHyUeGBcQEBMZHREIEBAJBxAYIRwdKygkHyo2NTw7Qz89OTc6KywnHx4WHSooLzE4Njg5QDcyLi82NScrKCokGRYXEB4kKTM5OC84MjcyMDU+NycsMjQyLScyPEI5PTk7NTAsODo8OEA3GBcYFRESFxYVEhUWFxQWHxUMCw0VIy5COCYlJDQ3NzE2LykmLCwoLkNNVksyJzMpKSoaGSY+LR0QDAkADxwTJCkkIBouNDc3LkNKUlVZTUlBMTY+LiYZGxsgKyw5R0RERjs0MDw9PDM3NzYrIx4aHCYoMjhDSkw/Mzk3OkFAPCc1ODUwODZGPz9BSkNCPTg4TEk5OjlAGRUUGBYVFxITExYYFhkWFBcSGSQiIT1LQCowNz9MQjo2KCgnIDAsS19pbGFMNzZBUEMzOUNJPTgsGRIKGCAiOjsqGydDWEQ1PlhUWFlZU09AQEM+NC8mIiImJiA0RkVIRUQ8Q0FETFBNRkY1JR4oJis1QTs+U1BBMzc6P0RFSDg9ODk6Q0ddUEBAQkxNRz9AUUg1Pzs+GhQTGhYWGBQUFhcREBMUDA4PKEpFSFZeSDU+TUlaW0ZYVjstJjc5YmtygX1oYFtbZl9NRU5QWU5HQy0SKjJCZUcxJTZdZFFHR2Rua1hZXFlKU11BNTo0MSIcExMoNkJLRkpRWEpQX1xbW1AyLShAOkA/PD01Sk9RTEFAREVRVFhaOzdDR0REWUo9OlNTTUNGRT5WUEI8FRoXExYXGBUUFhMODBAIBgsoSVVIQ1lQRUlJWmx7bmSBeD81PT41WGdxgId6cX5ma2xMQ0dOUlJAUzsZNDdSbk48SVx3elpLV2ltYlNha3BiYmNKUFJFOiYUBg4YHzhBRkRWXGNWY2FkcF1ETEdSQEdJNy0xS1ZPSDxCQ0NPU1JMQEBEOD82PEZKT1BSWE5KSE1TS0FAExcYERMWGhYVFxEQCxILBQ82UUtOUnF3cmdmf5F+gYyZhUpHTUtBUFt1fYB4bmpjb3dSPUtPR1VleWJFRlFwd1tga3mGh2tMUmJmemxRX3V7YGFlU09FOBgSChwcGCM1QE1bX2NgZGlqd2VRTlVTUV9mQzxFU1hIRj5AQ0RUWUlGVU1PNkFBR1pcVVVLTkc9SUlOSUtUFRUXFBQVFxUYGRMRDAkNDR4zOzNXf5WJfn2Ipaujn6eCXGF2aExCUVN5gXR1dGdeXl9PN0ZJS15/kYBuaYaPeW1/jZGGalUxRlpgdHFrcIF+dHF1XllTMhQcGyMgGRQpMktaW2htcXBjaWxLTVlTX213WVVPT0pCR0NHT1ZhX0hLXU1OTUhSVWRYVllYSUI3OENOWVRfFhcUExgWFxUYFhQUEwoLHCo6LTN5mYhganufvbjEu5hfWoCYnoNxbGZ2c3V1e3ppWVRPREZEWW12k56ZnKiSeH6rp5x/VzY0RWBZXW5qc4GHiH9oamhOFAIKGhweGA8SKUdGTW58hoR6ZGBUUlZqfn97cm1fVFtTWFdOVWReXlRdV0VQTEtXWWFMREVPTkM+O0hLZF5LFhcUExcVFBYZFRYXFxUVIi4yKj6PmVplhqLHy83HyLKcmJmttJ6Ae3N9c3x7hXVvYVlbVUs7SV5njKqxsq6WjaG5saSIXk1cbWViZ2txf3F9gYV7ZGI6DgAABQgBDxsgNjpAVXdzeoJ+c2ddVFpqfYWCgn5nZ15XYFxVSFhXZlpVSkpQW3BwaVtQTUZSUE1KUF1WWUtGFBUWFBUVERUXFBgYFxoeJRMUKkOGkniOq8DU09nSy8jBwbi2r6eUgmh1enRtcHhkYmRTUT9IV0tZcpS0srCstLzCu7WlhnJwd3p6cW55e3BwfIiHaGRLJBITAwAABxgoOjE6WWtzfX6AfmdUXF1gZnF7gnRwZl9obXluWVdZYF1WWlhRYHVscFtUWk5cVUxJUVxaU01FFBAWFBIVEhIREhUVFhkfGxANOlRuf5KjucDa29PPxLvAycK2sbqch294d3B4bnJtYmhmTTs6Rz9NVnGns73Qz7/Cx82+q5t+goSBZ2hxfm5re4qHb2FkRTkwBAAADxIeKzFGX3KChoeTkn5mXEpUU1h1en19anNydn9uYWVwbFplX15PV2RaZ2FeX19salU+SVBSUV5VFhITExUWFRQUEhETFxwfISQqX2djZIeluM3Pz8e1qqimt7Wtqa2UkIBxcHd5Zml6bG5zWD82PzI4MFOHpL7N1sfP3uDWu6SUj4iKdm5pdHt3gYeGbm9yYFY4DAAJAAAIFTdJXXeOm5CQm5d0W0NgV1Brcn6HcHJtanR5cW5ya2VhYmpka2diYHJsamtgXltBSFM9Q09QExMVERQRExYZFBEWFhsiKSYfR1xcY3iJmr7Nxrqmpqqen6eioZ6ShnZpanV0Z2poWmlyUjtFPSsgMFOAobvM28vQ2NLItaOPi3qChXd7dnJ1gnRubnV2X19UNhkSAggWGTZQXGeMn5abl5B7b2htY19rcW55eHh0aGxzdX1oWltiXldqcG5kWFZaX2VgX2taX2VKTFBTDRETFhUTFhcaGBYVFhsgJCckM0BUbG5ygaDAy7SmqKOek5Wgop2XfXFkXmFrYlVUU1NXRDo3JBofPGCHkJaz1dbW1djCqZiCgXuLfHd1c2tseGBgZW58dGtmXz0oBg4MGEJfaGt8hI6QmJiTemhiaXRWVmd2jY+DcWt1dHtYUmBnbFtkXm5WZldOVGZlYGZgamZZWVxUExITExYWFRMYFhUVFhcYGCgiISZGZHBrgJyotLCrl5mmmZiUnZqUd21hWVVaT0xJT1FNQjo2Jx8cM1+Je3l8teHcz8TBpIR1bHiGa3h6eGVjcGlnY2ltdXZrUjcoHAwQJkpsd3t6houVl5+RfntsbGdVSk5lioh4dIKDgIJpX2hoZF9jYGJZaVxmU1xtbWBRYFVaaGxjGBcUFRgXGRcaHBobGBcaHCkgHStCSW59f42fsqmrm6Opk5KWi42Ce3h1bFtTS0lERkY8MzwwJiQkNFt+XldSf6vKx66Xg3x9gH19Z294bWFQVlxbY29qdYBzY0o+OTQwJEtweH9+kpCZnaCPipF/b1lYT1ZbXmWCiY6Dgoh7Z1lpZl5XXWlib2dnVFViV1dkc2FTXGZiHRsWGRUVGhgbHxobGRkjKzIoKBouRGuFf4WUmJiclZWrkY+clJKLenZ8c1RTVFRCSD4/P0Y1OS8qPlJhQSgxX4eorp6JfX1/doV4ZGRsYlxOWFpeal9jcHVwcFhFRUAxMkpXcIWOoaOUmKCMiYyAZllVT1hXa4WUn5uBh49zcGpxbmxlb2dkb3NnWltpW19ncmJYXV9WFhUVFRgYHBsdHRsXGBolKTUxKCQwPlFnenyZlIaDenWKkYyLiol+bWt0ZE1YWVdFRDo3Pzw1OjIzRl1KNxwgN1SGkYZ1anN5bH99cF5nXl5TUFFZZ1heZGlrbWBLXU1PVUtZdIaOnKybnKaSk4aBd2BXTU9WaIONmJaSl5Z7fWZrfXFgbHFwdG9lVVphXGlqc25eTFZgGhUVExAXGRkcHiQbGh4lMz46Mi02QDxFdYCUjYuCj41+cXx3hIJzZWRwallVV0o2ST87QTs4PS82RFU7KR8pLj1qc3pnW2pxaGx2aWRjXWJgYWNZbGhwY253bmpjaFlUZGZlc35+jKCrraOfoI+Le2ZeV1tmdn96eH+amZaUhmdwcmdRWWFtc2toW2ZaZWxqbGttYGhrFg4QEhMWFBoeICQiHyYsNDg/Qjc2PjVLaHWPi3pvg4mFfHNqeH1xYldTYFhAR0w2S0hKTEdERjQuLz8/MjExNDxNT2NsbXZvcW5uYW5la2NVZHF0cmtzXmRrYnJxY1VbbGxhY25ndp2oqKWqpZWGeW9fU2ZrdHJiWVx/lpmWinl4al1WYGFlbWl1YWZoYmBgbmZ3cWx0FRMQERQQERcdHyYsKDQyJio1QUQ+OjVJYXSSiXJ2fHhzdnR1enFuaGBeYFFCQUlHRjdASj49Q0tGOEBORTo6OkJHRFFicHBrZmdkaHZsZldKWGZqX2htYWFoa3ByYGhmcXp0cnZsfI+amKCmoZiGgnJmV15gY1BDNyxKeZCYlYJ2bUxVX2dtdXVfX2BWW2lkb2x0bmxvFRgUEhQSGh4dHSQoJzEwJjI+OUFFTUdWaHJ6dml2dXJrbW9wc29sbWlubFhTTEk6PkFAS0ZKWF5TUFJiSUhHPS85PlBZdG5qYVhebGxpWlladXV6cHpyaWpnXGVmZmVgZnJ3d21udHqQlZefpJ+XiH11XlxaUElHLRckTnCFlpJ6bFheYGJib3BmaV1lWmNpaV9hW2NiGhYTExITFxoYGhsjKTItKz5LOkNKTE5bY2llbW9zeHd1eGhub2dkaG9+eF5XTkQ3OT9HU05XWlpNWVhgVlFUQjtLU1xecXV3VFVrdHV2cX5/ho2Md3l6c3p4c3R3fWhdXF9qZHBxZ2eIi4+Rl6OVjYBnVUpFQDQpDgUIG0lmgJOLfXJsaWNcbmdlampsXmBpbGVYbmpeGxYVGBMSFBYcFxgfJiwlNT0/QE5PR1FtaFlYZV1ZYmRkbmhmaF5RWmtmZGJKPjw0LjpRUkZQaGZqdW1lUlBZUlVTU1hbbXNrXl1ye4WNhoeIkKiYiI2Ig4B9g5WTkop+cW12Z3ZvbWp0eYOIlZuenIhoUUE/KCsZCAYBCCpRbZONjoRtamdXZWRiXGpzamJkaWBUXVxfHBoWFxgXGBYWGBwdIyEiLTdFR09VRk5iVEhHTVZeZW1rd3FaWl5SYWBgaXNOQDMzLjxPSkFMYGhzg4F4aVdXY1dVQklYXVxcW1h9eIihlZKeq7m5rZmPiY+CfYudmJafn52Sf3luenuCfHeAlp6goYJyWUNDOyUdEwkBARIxP3aJgYp+aWteXl9iaWRtcXBqaF1cbWpeFRkYGRkWGBMVGBoYGxwlICw9O0FKU1FORkZBRk1bXmNkdWNWXWBTW1ZdYm1XRS8oKDxMRzhKY29/jY+Tm3FnZ05IRU1JT1RaXml7dpOwppqst73HxK2kmJ2dkZGrm5Snq5+bgnl4jYJ9bXh3iJ+qq49xYVJSRz0sGxQEAAESIUlnbHt1bXtvdGtsb2NiaGppY11hZGZqExMWFBATGRYUFhQVFxkmGCM9Q0pIU0w+LztCQ0BPSU1bZVlUXmNDPEdeZVpeVkEoIzA6OT1PVmBxgZScpYp0aE5KQEFLVGBiXGVyeJ2usbavvMHQ0Ly5opyqpJ6lmZaiqpiaiYSMinp2ZH2NiJaapJd7XFhgSjUqFRQDAAENABNLTl9ygYB8enFqam1kYWNYYFlXbHl3FhISFBIWGhkXFREVFhcfIyw1QTg1RTw4MkA4Ozg9NkBKW2FVU1lZSz9gWFNjXzckJS0+Q0lNVVhZd5uzpYuFeFpOQEhYXl1hXWRpeI65ytDAwcbM0sq/r5+ii5+im56psKegmY+HhXVjYIKSkpOOjI17Y11nRjo2JBsPDRMPAAAbLkxzi4CBfWZdaGdWYWBYXFNZb3VuFRUYGhUWFBcaFhISFhcfJiEuPiooMCgvPUUqLTMvLjlFVVtSQVBRRTZdY1xmWDY2Myo4TVtUX1dVcH2TjpWbfGZfTktbbFxqbmpoc36v0c/NzcC+1cu7qaKlmaCelJequMOqoKKIgHpoaHmBh4mQjJJ/a1FaTEk+OC4cEhcUAAAJEDRSfoiGfGFjaGRba2haU1dpaXl3EBUdGRcXFRMWGBcWFBchIxYlOi0oMC0nMjwjJS8pKC9BXl5USFpZRzVEbXJaTC80RkRITFBVX1lcY2J6hJKcjo12W1JUYmJreG5kYWyXwcvS0NfR2MSuoaClnq2mm6q3x72np52Mi4JubGeAhn6NjY13c2NqZktBOzMqFgkJCQsAACBDZIKHkHZfVlZkbWxzYFNdYnBpFRMVFRUXGBMTFxYUFRocIx8oGy0tMiUrNi0dFRokGzE+UFFIPE5LRzE0UVZIQDo4Sk5JWVJQUE9ZXk9leYyVnJiNgWNWX2prdHRlZGhvocDWydHT1b2msbCsoKirqK+9w6ubp7OppJOGdHSDgHySlYJ9emxjWEZMQjkiHxMLEwkAAAMmTniHk3xcSlBnXl9oXVNPYWtfGhkWFRcYGBYUExQTEhMXHBkeFxsoKRgXJCEUChcmEisvQFRKQExOPi0zSFNOUU88T1NaX1dSSlRQUERRY3eJh4qLf2xjZ3BxdW9ibWphh5+/z9HM2Mu9wbexo6+yurO3wq6gtMPCtpSLfX11d3SGjXxweG5qYkZFPjwsHwgAAAMBAAAIJUlwiYZbSGZsXWRlZ15nZGVXGhcTFRkaGBERExUTFhcQFBwRIyIYIiYWFigYCx4iFxwhOlJKNTQzMDZMT09LUlFVV1NlWFVnYWZmXlJKT2x7eoiPf2h1aV5ndnNsbFVLepWhsdHQ18Kzu7asvrO+xrnHxcG8xbi6ua6bk4yAXlJfcHBudntyXk9BQjkoHQAAAAgDAAAADDZkb2tWSl9tYF5OWmJpY2RfFhcTERcaGBMSExcWFBkZIBsTCA4YERogHx8bHyYcFhwhSExEMjUzMDlRVUtMSlFdcGVxZlxmdX56a01LVWx3c4CSjHdxbGVZb2dtdF9PXoWGnbzS28/BuLWttamvwMPW2MfFybS+urStl4eFb2FqcXpxd312XlhUV0AqERMKAgQGAAAAAB9OVFtTVl1nXFRUYGBiYmp4GBoZERITEhUSFBgUFBgXIB0YCwsfERghJigkKicTEBcpQTxCKDg5QUVUSDxNWmZebW5zYWZabn92c2NlY2doc3aEiYNybm1pZ1RWb2RgWW91hLLV3MfDxLukmJ6wuczR3MbMz7/Ms6uynI+XiHxyd3t4dHdvXmJjXlNBIh4YCgQAAAYAAAA7T09DSmVyZGRjamNiZWloFhcWFBYUEhIUGRoWERQcGxgZDREWDx0kKiM0OyokIDUtKyo7KTZHUVVaUFRibHFmaGxvaXR8hX97iYyRdGFnZ2h1fH1ucXt0Z2pkem1oY3Fyd5W20M3Jxa2fpqSnrr3O3M7U0sa/oaKtm46ln4F3cm1mcnBpb2lxbVxUOCUXCgoAAAMAAAw3V0s2P2VjWFxcW1tcXG5wEBMUGBQUFBIVGxgSEhMYDxQVBw4VFBo0LyEmLDY8Pz4mHSs4JzBNW2Jga2RlbWttc21teoOJjHiNpamjjn1mVl9wcm5qenNvW2Joc3dsbHNsaH6LrsvOyLmipZqdp7jL1NHe29DLv66oko2dl4hzamhmcWtvenR1c2tUMigyGBcEAAAAAAoiSEIrOlgkGhwWKTY5QFhzFBkYGRYTFBUXGhQQEA8QEh8VDBgjFxQnLi80QVNZTTchIykuL0FRbnJoeHFramNpcHNpeZeHiYagv72zraF+amJma2lndGtnYmR7cXxsb3hwb36CmKq9z82iqKWTnae2wcTe1MvMyb2vnIuamo9xcGtvd3h2d4aKfX9mQjVAIxsGBgwCBgYhPTMtSFAUBQEECQwECi9WHhkXFhYTFBMWFBYVFRYPDRgYGyQkJh0ZJyw3SVZSOzQ6QjMuPlRccoyKhoeEdW1ma3N9h4mAj6KmrrOzw8ejfGZfYGxzeHRnaWZ0dHdsdHl4b2x7f4SazNa3prGkk5CvtLzX29LTzb6xpZ6imId4fHKHiY5+fpOThI13STo8IC4dFxUKBwwOIyInPkMOAwAAAAAAAAQkFhIQEhcVFxcXFRUTExcbFw4TFREaICoTIyM0SFBCO0pQSyEuNWFteI+Xo6mcinp0bXGCg36Ip6ahpqq2ycjAoH9mbXpwanSBamdvdYF2d3x9c3BpVXCIprenqqKYlZicqa/Lz9PRx7ilp5+qsY6QkYKElKiYkYiQj5eAWko7M0tCLRkCAAAAFBQYQVYRAQAAAQAAAwAHDxATExQVGBobGxcRERQYGh4SFg0NDjIjKS0vQENKVFdQRDdXV3h2go6VpqyqqZx4c3J5f4eiurOnrqvBx8q9r6Fua2dmbmtoaWp0f4SCd3V6eXdvYWmDmJWgoZSTo6CRobW+xbvOx7y5uam0s5WepZCEpK6fjoyXoJaNdW5PR2RYQSYPAAAAAQImRkwTBAcAAAAAAAAAEBQXFBYVGBUWGRUQFBsZERUXGRQOEi0gLzMtODxJSk9RQFxka3p8fYuXn5+fpqaPk4d6eJKqraecq6i9xdTJsq6WiG1oZ3NxcWdocX2JhX5tZmdqcnCBl46VkomPoaWgqbK9sa/DyNHRwbOrt7KmrJ2bsLCWk6Cnn5ybkYhwW11RPTgyEwAAAAAfS08aAAAAAAAAAAABDREUFBQUFRQRFxYYGyIiGhwVFBkgISAgJy0XNT9GU1RfWHhxeoiIi52kpqKZoKupoY6FfI2ZoKGfq7Sosr6+uLGglnNzhYuBdFxfaHKCgHBkZWVzfXuJhIJ/hoqerKWlraSxrqqwv83IvL7IxcC4t5GWraqflqGXlJabk5SCblxWRUpHLhcHAAAcO0YdCggEBAAAAAAHEhEYFxUSERIRFBAXGhofHBQVICAOFREeLzAsP0dNVFddbIOIe5OTiZqvvbylo5+gn5OQnpuQjpCcqKibnKysoJOQfWl3iYxzZWVfZnVvdW5rfGtven19d3qChI6erKqytZ+hr7CrrbnLzMTMwMa8sqCnqJWhlZeUnaGWn5ueh29mVl9lUDsjDQMeREsVAQAAAAACAQQCFhUWExQQEhgTEQwTEw0VFgkWFxYKFCApJio4NzpCQlJTa4aFhqypo6++uMK5pJ2bn6SZpJ6UjpydkpWalK22q5OHgHlrgIVmX2NrZXN8g3l1e3J2e2NleIeAfYWMpbWxrqyls7CprbfMzc/Uu7jAw7izpIuXkZyckZKOpaKkmIN1YGlnX1BCIQcdSE4ZAAACAAAAAQAAFhYVERYPExgXFxgVDwsUEgkXGxQRDiAsJiguOTc/PkxfdYiNoLSeqMDFwbi7u6+enKegl5OWk5qdnZ2MhZuvoYd4b359j4BoZGlhZG6Ee3BwdWt4eVxXY3h4gYyMmKqfoKiou6iosbfEx8/Tv77D0L+6q52ZkJKWlZmTnaKYkI6MeH1pa3BlRyglRUsxFRISAQANEwoAExUTDxUTEhQSFhgYERYcFxgUHxYYFxYjKzE5QEM+Tldle4adtLSqqLrIxb+wtLSuo5+ekI2WkomcoZeGhZWXkXt9eYCFiYl/cmtiYXZ0Y2dtc3R5Z11SWW94ipCKioyYnZecsqqrt77ExMTJwMDBwri7t6KRk5KJipmgmKGfnZuXmo+If4uDd0wwMlBoZUUsGAUZGgYAEBcYExUWFhMSEhMWFR8hHBgTJRQMEBAXKCsyQUI8TVprf4iYqKe5uMHAusKzsq6zsaSgk5KSkYeTl5WBdYyEhnmKkX+HopeVeGRhZXd7dHlxa3RwbmJWWGBwd42AcXSWopSLlpmiuMPAzL2ks8nIyMPCra2ljoSIkJSao4uFm6KosK+UgJOZl2M2N1d/jn2AajooKiY3FRYXFxYVGRYUFBYVFx4hJBMHDxIVFw8VHhkhNjA3P1VodYWZsrm7w8Wzs723rq6mnpqam5CTeoOPloxvdH51fISVoJmOl5GagGxoboWHfnJybnd0cGFbUWJzcYCEcXh+iYeEhpKfoLLE1sqwvc29urzBsayWhYqLlY6QkYRyiJussrOjjqSgl21FQVWJpKOqopaNjYyZFBYVGBcaGRkWGBcTFxwbIBEVDA0XHBkYJCQsJDE7QFNgdYeTnbW5sq2jnrLBp6aakJKMloeRiISFf3lxc3Z4jJWsqq6kpJ2ek3pweImPeGNreXp/eHVyc4R9eX90bHB1dnKFgnWNjZ2zzbiwtMe1rLrCt7CUiJGIjIF6e3R0fY+mpJ2rsK+ol29DO1uXsKatrrS3s7OqGxoZGRYTGRQUGRYVGBUcExUjGBAJEw4VKCgsKDEwRFVadoSIoLfKvaiuqbu9nJuTjI+UkYByd3qMfXNmXWdqjJmzsbS7rKGckoWFfHZ6cWhye3B2bmlsaXhyb3V5b25rZ2x8fnqKiZyjtrSrp6mel6KtsaydmYt8joiAfGNsb4KXpKisrqeon4BcN1SIm6q6vLa8ta2jGxoYFhcVFRMUGBIQFhkfFRofDgUHEg0UIigpLClJaWFcZ36Dore9vaaourWrmJKKhJOWjoV1a2+De2trbmtmc4+lt7e4q6CbmJufi4F+cXV4gnd/dWdsand0bGdnbWVwcWtwent7eYeSpbCem5aZlZmstauln5N/iYCLeW5tdnmSnqessLOsqI1eO1KFpK2xt7eyramoFhMTFhcWFRIUGRQUGBgcERYRBAMEAhITJyEkKiVASFdcaXuIkaOfp6azuKqelpaNhYuDd292fXBvaF1lanBzapKltru8u6GOjJSRh4mIhIOFiHR/d2Frb3tyamVocGNjZmNaZG1wcHl8kJ+Wn5mYlIuNlqi5taKRjnyDc3VrbH+ZmJmjr7inrpdyUVyMqbOsq661rpl4GRYRERQVFhUYGxcWGRsgISYhBgYMHBkYHwkUGxkyO0ldbXSDhJeVj5Wrq6alnaOPeImAc3Z3d4BsZV1hamxwZ22Pp6y4xLWhmpWKhXuBgniEfXZzaGVybXhuY2RqZGJpaGhiYmBhZGZzgZSYjI6Qf4aQmrOxua2kl5F2aHRga3KAiIOgq7qwu6t7V2iapqiqp6WcjnZxFBUTFhYWEhQUGhsWGBwmJCghFBIWGA4UFQoQHiAzR0lTaGt1d4l7fJWkrqOZk5WPfnx+g310anh6ZmJ1bFljbHWIoLGytbCzs56IeIKLinN5ZF5lZWVubnZfVldZU2FeW1pfVlxncGxkcHeDgIGOioSTlKGitca5oJ13bWljaWxyeoCVnbKlrbeQWmqirbK7pph6Y2RgFxgZFhcREhcUFRQRFxslJS83JBkMEwgICAsJGhs3QUFJVmVmeYFrdJqelZOOiJGHenJ8g4RvdW98aG11YVRhcXV4j5umpq+1pZqPeXF+hnt2ZW1mZmZ0cnliXl9TVmBqYltfUFpial9SZHZxdHF8fY+ZiZCctszDtqWWlH5mXGZvdn2KkpmbnqWea2GToq2skHNmY2ZnGBYYGRYUFxUTEBIVGB8oJykuKCcWGBwSAwkMFxUfOjxDT2VienmDgY2Zk5qYhY2Ghnp/d3d1g3N2dmdqWVFTZG9mb3+RmLC6qJmOeHZyfH5xbnFhZGNjam1jVmBfYmVgX2VkXlVWVFZORFZjaGV0hIF4fX6WssW5rKmqjHtgVFpdaneGi5SdoZmXeG6appB4c2ZiVl1tFhcZFxYWGRESDhUYGSInJR8mJCccGhUJAw0GFR8iOzo+TGBXZGd5enyNj52Zj5CGhHh2dH9scn59f11ZWFliZWNbWGNqe56vpp+Vfm16g3p7d2diaWBoaWBWSUdSbGRZVF5iUk5VVFA9R1tWZG93eXFoeoeVrLSzsrO3kXxsX1hXW2eBiX+UlqOYg26NhmVjcmViXWhcDhUXFBEUFRQSEhcaGyEqLxwqIhkUEgoIBgAGDhkmLyo6TFdaU1JYb296kJOIg4yKfHNsfX5tcoF3fldST2BtW1VkaGFZb4KcoIuHgHSGd3Vwc2dhcGVwcm5bUVJSYWBVTlFVSkpOTURASkVLVVtoZnR2eYCGnaaouLewlYp1ZFNZYWB6hW+Jj4uBe2dxY2VhcWhhYWVsERQXGRQTExYSEhMWGx0jLCgsLSoUAwIHCwADDhgpKhImQk1LT1dXZ2JuhYN2c4uEbW13iYZ0hod1amRiWmlnXGNrZV1cY3WOiIpyiYuFd3RfaHhtaFxramtgV2JUXGlmV0xXTU9NSUM9NjVESExeX19jbW12g4aStsGvo454dVlVW2FrcG56ioN3emttYWJfanF3Y2ZrEBcZFxYVFRcVEQ0QGiQnJh8jHR4VBw8PEwoGEhEZGBMeIi43QFZQWWZ4en96dHx8bW99kZKCfXducG1oX2JcX2VhX11eY2ZucXNcaIKMgnRrcXx0ZWt0en1zaG5gWV9dWWFbSEVGQEE9Pzc6PDdXWk9ZX117iXWKrKunnn99emJaX2JZVmRwe310dmd0ZWJvaGx4YmhtFxQTExcVFBcZEg8RGR0dISAiFxAWFRAHERQKDQoKER4fFicxLjFNVVxlc36AfIBxZGF4j5KGeXBxdmVkXV1VZF1gcmZjZWRoYFxUXnd1goFybGxjZXV7h4N4c3NtZVRaVWJeWUZGQDhAQTg7Mi1AV1xra2hkdnKAkI2Jg3F6e2paT05PXGRudnpucGhkYV9rZGBiX25xGhIUGRgWFRYZExcWGhgYGSMnIBsVFhkjDxcZFg8KEBsXHCk1Mi9FSUlWWF9pZnBoWGR8kph8doBvbnFrZGVXY1dhaW9gWmJoYVxdZnZscYByZGRrXGd7gHyAf3B6amZsZ29kX1Y7MTIsND86LCAtQFt+eoBtcHaDiX6AeXyLiHVdXE5YT2B5bWtwY2xpaGNhW3FmV19YExMUFhgWFhUVEBITFxUVIisiGx4WCRInDRALAQQGCBYQEQ8mLCo4Qz9JSlhjcYF5XXWJlpKEhodwb3d9cmFjZmZlZG1tY1pQV1ZVZGpua4BxbWlrYWZvdH2TjXh9gH54dHRrYVtELSQsMD0vIRQeNmV3eYOGdG5vcm9sZ3V+j35ybFxfUF95a2hzYFtfYXNrYnBuXWVdGBoYFhYYFhkVEhEVFBQUGBUUGRoSESEPBQsTBwAOBwICChkgJSg2QkNIZW5rd3h3c3aFlIqLin5rZ3Jxalthc35sZGN3b1RLR0pSZGBhX210cG5fYml2b25+ent4gn10dHpjZGBLLi03ND0kHg4HJFpre318fXpoW15YWV1men12dmNdVF9qZV9qYGRhZHFoY2NsanFqGBkWFBUVFBUVERYVExIQCQwWGBUQGRsDAAAMEQoNBAAABBcSGiAwQVRPaHZ8enJ9fnR4foCCeGZcY3BqbGhvgoN5bWFlbmRWTE5cX2hcUV58c3ZwbGVgaHV4cnZ4f4iKbmplb2hOOTQ3Nz0qHQkGI1NueXhvgIRuaF9FVWVuf354dGxgYmBkY2JjWFxjaGxiYWhqaXJaFBYUFhgXFhcVFhkXEREWGBcZFwsJEgcAEAIADx8RExMKAgsZIBEvPU5bZHuSjHV3b256cHN9dmJfZWZtcnR0gHt+b2xtcXpdX19fVllIO0FkY2Jfa2RaZm1lZnFnbXt/ZWxqb2NQSEpAPUZMLAoYOFNtenSEl4JtaltLUmNxdHZycG9mc2Zvd3BnZWFgYmJoYWBkamhRERYVFBIXGBsXFhkWFhUaHhgeHhEWFAIADAYFEA0UFAwAAwoMEAcTKTFEWG55enNqdW9zbnWCcmxvbnJhXWR5fIKCeXF+iIRoXmJiTUw9PElhc2NSY2d1ZmNgZWddXnJ1cHl6c3FmVlFLRFNJJio1RUBSdHSMkpGDeGlQTU9VaG1sfHt0fn5sZW52gW1aYGZhXVNlbmZPEhMOEhYXFBkZFxkYGBUdGhgVGRcaGAMADRQEAAAMCAMCCQwDEwwaKC9BUF9qdmpqfGtpZn18c3NxaldMSVRyfYZ+dniTkoBoXWFZSUo7SFBpY1NedW9yYVhpZV9UWGNrbW1vZmtjZGlTSEw1L0pKPDRHaIiLkJyVc2hfT1JZbXFze3yEgndoYnWHhWJTa390a19haF5aFBEOEBcXFBMUFBcVFRYWGB0YICoiHA4CDAoMBgQJBhAOFgYGHw4NFytDTk9XbGhfbGBia21lXnBdX1RLT1ZrdXtraIiTiY1vZGhlWU82RFJqaVloZlNiUE1kYFVIT1JYWVpaYWxgbGpNPzs3Rl5QSENecXmJk52ZinZeRkRVcH2AioN7i4aKh4yVhG9aYnVyaGlkZWaGExMSFxoWFhQUFRoWGB0bJSQfIDMxIRYAAAUAAAAAAAYFDwsNFgYLGB43PDZLZWRdXVVgZWhrX25mXE1PWFxrWE9PdpabnZZzbWhfa1RASlRXYV9fZFNWU2VxV1lNS05QUlNXYnJye3NMP09SVmFUVlt/eX6XjIiPiIJcTFVWZnaJkoWJm5epsqKbhXh1b3NsZ2Rqa2l0EBQQExgYGBUUFhoYFhcXHiguHjA2NSoaBAACAAAAABIKBgADCAwLAQETLDNMXk9JTU9iWV9mX1NWTj49R0thWkxnj5+mpJyIe2pqgGliVlNTY11aXVlbY2xpUltUU1hWWWJZX2hzc11janJjXmpjaXOCb2iCd3WAg4FnV09gf3qVk3yLnpees6KSf4eqqIl0YGVvZGdsFBYTEhYSExQVFRYVERMZGylAMC48PTQdEwgGAAAABwgLBQAABQkHAAAAGTdGSUlPVk1aV1phWU5QW0JAU0VPY29/loqKpJiCcHJ8gHp9blhbYFxQUGFlZGpUVlpNQ1BRU15NU15sYl1bbGpfaGZjaXFxcG5paGp4hoNlUVp0gYiIhHWKqKWrraGag469w7igd2hqYWyBFBUUFxYRExQVExMSEBgdHiM0Mzk4NCciKBgMCAAAAAEDABQMDg0MAAAADik/PkJFTFZbX2dZVFNNTj05QT1Ha32DgnZ7hYlyVmV2eH9+gWtuZGNVU2diYmhYYmJUQD9OVlVVVFhraGhjbHFqeG9lZG5pf3dzdnRsZl5hVFhpbIRzg4mSrKq8pKCag5e/wca8tY9wXmd9ERETGRcQEBIUERIRERweKiUpLT0+PjIrOS0hJQgAAAgTFA8FDRcODA4QFRoqJjpGR1JXWFdNS0pLREpEOzlAYHF8b1Zhc3ZmbYWSkYF6h3JtcXJlYmZhcHZtcXRqT0RMT0BJSUxkYFpoYG51gnhxcWdmeWx8c3dsYFRgVV1kW3N8iJWlpKStoJ2FeoK+ys7HzbGDamR5EBQXGRMPERUSEA8QERoeLiUqMjIyPyoZMi4pIhQAAAAQEAAIGyEYAQAECwkSJC04SEVBUk5VSEZRRUZCRTsvSWR9XUthY1xvjZmnrJuNh4OChHxxZ2poa2d7hISDXD9CST1NOjheUlZgW2hxioR3cmFhc3V7cXJyZVJVZXZ8aWJqcomOj5Sjl5uEdYS2xNDNy8Oph3VvEhgYFRcUEhMRDQ4QDxUhIyMlNzEpNDglHy0gCQ8DAAAGCwAGExEHAAAACg8JHy0vNzxANjZPSVNSSk5HTD0tU19hTFhxYFyAu7Kpo6KNe4uUjoyMaXhsYV15fIF+a1dGVEJJOz5WSU5Xa26Hm4d6b2JrcG95eYB6YU9fbG93bWFjcYWIjJuhpaaOeYewvM3WxMLDuqmKFBoXFBoYFBQSDA8SDxEXHRwlMTYoPkUyGygiBQkHAAIEDgUAAgAACgUAAxAADBwsK0RDKy48PUhNOTlJSS00TVFfbXB+dHJ8sLW3vMKdhoycpqOQaXx7b2t3g4R4gHdXTT1DNjE9TFVeZW6EiHtyb21hZnF/gn11ZWRmYFlgZWRmZmtxdpKcoZmfgIKvxM7OyMq/yNDAGBcXGBYVFhQQCAwQDhQZIR4kMC81OjgpJCYmEgsIDQ4KBQcDAAABBgAABBAEChMRGjA1Ki4yLTxTRzc6PzlOYl1laWyAdW9tjqOwvcSxo6iboKOPe36BdniOipCEhnppXklJQzQ3Qz5MYGOAe3KLhnJsaF99gIVyZ2VnaFthVVFoYmBweoWJkJWlfHu62NPKx8TBztbJGRcWGhgUFRMQCQkMDxQPGh8mMB8lKzEdGyAVFhcFAg0TCQANBAAAAAAABA0HBgoRFh8pISw5OjpLSzIzPUNjdGNXSVZlXUpSfp62x9HKuLOmoJ+ViHiEgoOOgomVlIZ+fWVGNTdAPC4+VVt6f4SYkn14d3ByfopyZmdtZ1h1ZEhTWnVrdICAi4iNfoOx0tHNx8CzsbyqFxUTGRoVERARDw0MCw0MCxUrFRcfIjcpIB8eFQ4SCxIRAAAJBQAAAAAAAwwACAYJGB0bFRwzMDZMTUhUV01ValNDQVddQUppfJOnu8rIwLWpnp2fjIeIgISMgI2bknl/g3NeRzUoJjU+Wl92joqVk4p/fHVwaHVlXmdxbGdxaltjYnZpd3eCg3l9gX2jsaymsqp4a4dyExQVGRsWEhQWEhIMDREWEhcoGxQZJC4vKyUqGBoXCAcPAAAFGwkADQQAAAIABQAIEgkIFxUqMCs6QEZYZF5gVkU7RUo7RW2Rj5itvMTFv721rp+fkpqTiX97cYKNhG12iYJoT0s4JDdMXl5viY+LkpGCc2tsZl9Va2xuaFxjY2RoZHZlamuLiHx8eHx5eHxzdnhiYWlZFxYUFRYSExYYFhcQDhETIRwaDxUgKis3HRsfGRcRAAAVDwAABAACBQEQBgUBAAAEEBEOCgQVFhksMztKYGlkRjg4QSkhUIOck520xLa1v7e8t6WclJiajYiFgX2HkHlwgYNpWUY2JDhRWFVlbICNl5SOeWh4cl5YbnF3dWdjZGZdYHNgZYKLiH5zZV9lZl9gYltcaWFWFxUTFRYUFxYYHB4WExUUICMfGB4fGCo7IBoVHxsSDg4NBQAAAAAACAsZBwACAAEADgsLCwABAg8iKCJFYVhORUpDOiw9Y4OQg5muuLW1yMXAuqupnY+ZiYyHenqHhoNud25fTzs0OSwzS1JTVXV7kJV/dWxvcWRpcl5jam9tXF9ZU2NfVnaJiH12bV1bWldVYVtaaGBYEhQSFxkYFxYcHBkaFxofMTAnHRgPJz86JBsPGg0HDhELBwYAAAAAEQ4KCgcACQYAAAAKGQAAAAMIHys4REpGSFJDOTlad3p+i5yorsC/xsO6wK6ZoI6RgIiHjoyGiYB9ZllLTEtHQDs0QUdPTllre4aGkX90YWViX1tpaXFuXmVbVmpsUmN3fYKDd2dWV0pQU1xiYGRYDhESFRgYGRgeHxodHCAmNDU1KSwiLS85ORobEw8JCRUGAAAABAAAAAACAAAAAAAAAAAAEwAAAAQFHTElJ0JPXF9XTVpucHV9kZGfuL62xM3Ft6+nrY6NjY+TnJCNinB6YllZVlJOKzdASUVDSlFhd3t2hYaBcGZgX2pmcm9qXVtea1hVT1doc3iOeF9dX1RbU2BeXWRTFxUXFhgaHhobHR0fHiYoNj03ODxEQi44Sz88HBsVDxMFBgAACgAAAAEDAAIHAAAAAAAMDw4AAAcXNEIyOENKYGhYZWRsboKGhoiZrLG6w9HEurOuqY2XlZ2foI+Rf19iZ1lSR1NMPDI3NzcwNVtmeXt/f358bG5raXpxZ25pUUdOZVJXSk9jdHp8ZVRlaFpWXVRQUlNOFxcXFRkaGxwdHR0hIS4wMjg8QEBQR0FFVWFcMioaHx8iCQABCQMAAAsTJR0XCgsACyMiIxwCCAETLzU0PjQ1WGNeX2pqhJB9go6Tq6K2vcm+wcm2qZCQkJKcm5SVgXFrbFtTVldKPTg5LSknLENJXW2CioyFeG1uYG9ybmNaRUdIT0xJWGZqaGpzbFRkYFhTZmVaW2hWFBIXFRscFhodHyAhHzI3OkNITVFNT1xiZmZTNzgtKiIpHQ8LAA0AABEnQzIcFwoLH0MxLR0ECggbJSczPTUvTlVdZWt1g3x3iqCfsqq/v8TFysC4qZ6WmI2Zmo6KdnluYF1eX1pJMi0oODcpHywuSl5xdn9yaXJ0Z2heWVZQNTdMUVNFU2deWmxscFtfYlhOUllVWWdnFhMXGRoWFx4dHiAgHS05P01IT0VPWFpmZGlaQD80LSwoKSgXDQcAAAEdQ049KBMTHT4oHxkJCwAQEhYyODk/XFhkbXKEhnWDmq+uwr3R0srGvr+xn52gl5aXln93Z3RxaFdQS1RNMyspKisgFR4mMUxUbnV4bXd/eWNYTUk9KTtOTk1HT2RiYW1rbmJlUVZgX1xbXGRhExcdHxwbGx8jJSIiISUuNj1YWlxnbV9rXVpcWlFOPSsmLjIWFwUAAAQLNk9SMCsvOUctDQcGDxEUDhMoJzdWX2lren+Jf3iEoa+5xcnHxMbFx8Kym5yompOQiYJwc3tuXlpVTEQ4NiswKBcSAAIUKztFY3Zxd3V5bllQSUM4KjZLUUhIWWhqZF9iYVpYS1VfYmJlZF5YFRYeHRgcGx4hIyIdHiszND1fZ2VwaF5mZF9XWFdOSzotLyglJhAFAAcTIypBS0hTVVQyGR8QEQ4WFB0xLDBQVWJqcnKLgISLm6Wxv8rLzMfDxsO+s7OjkYuIiI13dHdsZ1JVTjo0KywvHg4CAAYNDCtPYXV9iXl6ZUpJQTcrHiQyQ0RQYVxoZ1VfaWFcVVhiZGNiXmpbGBgcHBcdHiAbGxweHi4yLURhU1ZmZWBmZVhTXVZLX000MTY0IxcHAAsVHB8yU2NpbV07Ni4ZDBYmKCUhJyxFVGtlZGB6fYSRk5WersbK3cu9wrq6uayjjJmTiX1zdmleXFJRSzwuIhoaFRsYDQ4VDB87S11yhHRwY01OTTskFBg7QkNXZlpXXmBlYFxiYmZgZWBkYWVYGBcWGxgdHRwcHRwaHjE2O0VmVldlamdnYWNgWVFNTElOTT4uJSIQBw8LFycmP1NufWtZTDMtHBwxNyQgGzRJYW1lZ2VucnuLkoOVoMPHzc7PxLy5trCqmI2OjXt1cGFjaVtYQD0xHBgmJiolEAYdIBEZLEFRc3FtY11nWkcpGQ4nNDRNa2xmW19jVF9eYXJpY2hhZGVUFxMTHBkeISIfHxocHi43QEZOTlNNU2tZXGNhW01HUl5TU0YkHyUnFQcAECwzOldwgHZtZ1xNNzU7NSkkJjRSanxlXmpteXSNkoudqb3Kw8nNz9DGtqWpqJGLkoN6fGVoZk5URzw6KSo0MTomGBUbJhEPGyhBWlxlXFRZWktAGwsWIClGa3VoWlteYWFiXF1lYGZiYmBUExMQGR4eHyEdHBodGyo2PENEQFVcXV9ZWV5KQDs/S2BTUUUgEBQhFgAAFS0xPVFsinh6hoJtSkM5PjU0PlVqcnp8bm9vc22OmpaXnajGw8PByNLLtrKzuI2Hh3h2c21pZ1tcW0A9MzE/PTwyGBQSGgkEDxkzTFpbTVBfWkxBIAwIHho2TmRYR1JgZF1YWFhfYFpFWmNRExEQFiAdGBgYGh4cFyEjMTA+QlZfY2FVUFVFNT4+QlpXRzs3DxAcFwAAFDUzXmJle3qAhZaMcF47NklLTWhpeHNtb2dvfn6MlI2Cmqirvr29w8HN0b6zpZOWjH+CeWRlWFthXkc6ODw5PEY9OB4FEg0JEBkeLkhORE9WUEtBJRQCEhM5XFJKQ05VXWVZU1ZcX1xIXXJgFhUPFB0aFBQVGRoTFh0lMDJCRlRUYGJQQD5DOD9MOD9CPT1BHx0iFgIBEiwvXGhodHJ+lZiUi2tFPE9cWWpvdmdcYWFteIZ+io2Gp5+aq625xMrN1ri/uKGmlIKGeGhtX19eT0pFNi02SFNLRzQRCggIEBsiN0c+PEZZZ1ZILh4THh5DUkc+UFFZY19gZVhYWWRfWl9iGxgUFRgZGBYVGRcPDBUhKzA0PUZEVl1LNS0vMS06O0dAMT85ISwnFwEAEiEuSmNZXmxwh4SJk3poYl5kZmRlZWZsbXR/fn5+koiAlZulpaOrvMDCx7i4sKKglHNrb3BwV0xRTkZAOD1GVl9SSkUiDBEAABIkJzc9P1trd11RQywmMDpGLyk5X2heY2BmbGBoYGBhZ19oIRYTGBcWGBcWFxgUEBYgISUzPzxBVEg/MiguNjYzMjY+OTs5NDkyIBgBAwUYQ1JRWGlyfoKUkYOHeWhUXGR2bG9/goGDhoOHhHeGjI6eoqertL7IxLyzp5aeln9tZnBtUU5UVkIzQFRcVFdgTVFEJx4OAAMYHCBCX4KGeG1VVT9GVko0ISg/UV9TaWJka2ZdZGNmZmRqJBgSFBMVERIUFBEQExYVGyc2QDc8TUE3NC83NywgGiQ1MSk7QEJJJSYPFBsjNkxPY2htdYmKjI5zcHxuanh4aG6Gh4B4fn6KfXV4hIeQmKCiorO+wbexnpicmJN+anZoXlhQRD86SltrWmVqVFRPPygNAAAEChBAbn93ZGpoYlBWWFIwLjI5SVBHbVhWVlNbYWVdW1BiIxsZFRQYFBIUFQ4PFx0iIiQ4RTs/SUczMjk7OCkdEys1NCQ2R0M/NDUkFhosRUhAVGZpZG91ipKAenl4eHtuYmVxe4JydX+VkIJ6fXyCh42Tm6Orp6udlJGTjId+am9bWFFDPi8sRllnZWtkUk9NODYiAAAAAAAsTFRlbGpoamReX1lKP0M+U19bZmFZVVNgZ15aVlBlHxgZFhUcFhUTEAsPFhglKycoNjw0NzMZFTU/NCckLSszLxkrSUY6SUpBPzM5RExOWVtZV15pcXOAgXV8cnlvenN1fIV6d36Jh4NwdHOFf3R8g52dl5qJfnd2a3x0XlZaWU02KiIkQVhraGdmW01INjQgFQAAAAAJK0JRYGRkbmdTVFlXRkhNVmRmXWBfXXBpaGNSWlZiHhkZGRkZFRUQCwwNERcdKSYgLigmLjMcDx0tIh4fIRkiJSg+SEI5QEdQUTY2PEJUUUhVZV9hXV53gnB9cGVsbmptanV6eYqCd3N1cmpocnN7hYaKg3NqZmxiVnZsU1NhVkQ0MCktNEtlYl9jWVBMRzYnIxUJBQEDHi9CUmVlbl1NX2RiXFZZWVpaZHNnb4BoWF9dX2FmGBUZGRcSGBgTCwsMDhQVJiowMS4dHCciEhISEBIPEiAeETdWTUI9OkZESkhFTkxFVFxYXGppXl1rfHVrampoY2dlUl5seXx4eG9taWVddW5pbHd+dmtdWVRETVhFPkdgVkMzMC4uMUVTXFVgW05OUkc5JxEHFAsAEx43Q1pkZ2hwfHNdZ1lVYV1bVV9kb3VuVl1fXWRkCgsWHxkTGBYSDwkNDxARFyAuMjUWGCgkHBUNDAcHCBUYHzdQSjpERkM/UE5VVElNWGNgYXF1bnB1bm5lWWRcUl9aTmFyc252cnFuYWNwcmteX2hvZ2I8QkE1SVBDS1VcTUc0MS46SEM7S1FgaFtnXEZALBoaJhUJEhk6TFJja3OGhnZla2NgWVlfVlZebW55dGloYmNlCwsTGhYZHhcTDQkMCQ8UHh4jLTIkKS8YFw4QEwoEDRQpNkZRTjdCVVNKU1pZTD9QYGRna2VyeXt6c2lnV1pdXlhQWm9pbWxwZ3FxY2VkW15YYGNjYFM3SU1AP05CUlRTRkY9NT1FQjc8OUxfaGlzXEdBPygoKBcHFyg1QEdeZXKKhHlsal5lX2J0a1NXZm5mZWZiWFJNDgsOFhgXGhUUEA0LBw8aIhwfGic1MzQpHgsQDwsFAAgjO1VRUUBSY2BXV2ReVE9IX2NdbWtuc3eBdl9PQUZPVVleZ2xmalpPTWRnY29eTFpMT2BSRDwzRj9DPE5VXlZKR0hBPEFJOD5PSU1cV2JjWUU6Rz4xJxsVLUk3Lz1TaHmKf5ODcm5mbG9kVl5lYmpeaWxdXVZODAcIFRgWFxcSDg0KBAwXIhYiGCgrRV5MOSAYEQcAAQ4gL0c3PVRSSFdWUGFobWdSYmNqXm+BiYKFa0s5MDo4RVhlWF9hWFhRU2JhTFtUQVNXTz4wJiQvOzdBQUxOSUJAQ0hDQjpCQ0JVZmZfYV9hVVNFRUAuJyMzQU82Kkhed42Vj6KZiYJ/fGtnWHFtZmx5b2JeWmVoCAoNGRoZFxUSDQsNCQ0SGyEpIiMlRnaDgGI7EgUPHykyPjsuL1JSPE5jXV1sbGNcZGlsY3SGi3t3aksyJjU0PlFNVFZORERLUlVfV2tTTUpFNSgnHx05NT1BPlFUQ0ZEQUI0PDpBRj1ZZ2hjam9zb2BPSEE0ISI5RDghNk9tcn+ko7C1qI1+e2puaGxpZ29xaWJfVlxeDhAPFRUVGh0XDg0RCwgOGBYOFRoiQ4Glp5t/RBwcHhw4QURER1xdTElYWnBvZW93bHBhanmFfGtlVz8iJTE5QEY7TUxKS1dNTE9XXGRMTElFKjlDNSxFOjhMQk1ORkVIOjpHVEtGRkBUZmt1b3B9d11bUEtNPDc2PD82TFNkZnCLnq+wrJqIeGtobnOAfHdcWGxgV2t0EhAKDRUVGBgXDwgIBgYKBw4SGBErVorC2tm0ez0pKyg1QUJHX2RLSE1kVGdgWm9sZWZse3uAdnRrUEkwMTQ9Mjk/RktCTE1VUGJrX1ZGRT4qIjE/RTc9Oy9EPDc9PixBTEtbVktEQkBMX1tzfnN7a1hOXFxdVEhBLjdGWl5lZXV5jqqvsp2bg3BxfJinl3xxa2RmWmdnCAsLDBcYGhoWEg4JCAkKAAEVGR83apy32OjMs3tSPEJDPz1OWVFMUGFwW2tlZGZna2pqa2lxc3aBb2RKPDQ4LCo4REVPU0NXT2VoZmJTTDMlHB8nKCgvLCs5NyQyRzFAQkZdV0hAQUlPWHN4fHtral1TVVpdWkE2KD9JWGJpbGdmgJarsamfg2tgdKK6oo2blH98cWRvBwgLDhgbGxsTDxAMCQgIBwMNFS9dlZ+Ssc7d3L6RZ1RKNC9RX2pkZmNlZWtlcmlvZ21sbnRueoKafXdcSz87LTk/RFFEOTJDQVNYUVBNSjkoHBsnHCIlFhgpOjE0PDpBRU5fYVZPS1BYV3B0bnN1d2tqZlxhVEE0KkdGU15SWWVwiYydpq2Zi25YbqK3o5KitqCUl3+BCAcKDBEcGhoUFBEKCgcABQ8LEkiOsIhohrbc8uHGj2JKOkRic2xkaFtgZnFvcHCGf3NyhIl8gX+EhohkV0IpLzQzNDcrIy09PkZWTU5WUjstJQ4SEBcpHAsUMC0rMjIyPVBdWlhaVFtTUVBZbW50enV7emxiS0QwKDRBUVNLTV94jYmXnqeUgHFgbp27sZ+nu7Guo6SfDAkLDAwZGBcREBAMCAYAAAoNEz2DflVjgaC+0eXlvo1zYltZX2Ntc2hvdntpcHZ/dXZ9enp7hISQjYp4a1ExPDUuMzMtKzo6PDlXXFNQTT4mFQoHAwkaIQoIFRgdLC4pKjlMTkFKQ0NBPEJFX11kd4SHj4ZzXz4aJy8tLzk7R1NkcYCFi5yWfnpubpSqtKuvrKyvpbOuExURDw8VGBYTExELCgUJAQUNGS5TWWeKgWuFqdPh4beieGdbUl5tcW97gHt1dnl2c3F2foaIhoiTkYyEblZOSz40JiwvKkAsMDlKVmJUUkgmGSIQCQAHExAPERQXGiUnMDE3QzA0Ojg2OEpITlJleHyDkohzVjobKCYZHCo3Oj1OcYeHiImPk4duan+Zlq3Br6unsLikFxoVFxMTFhkYGBMODAkUCAQUFB84Yn18UDZVe63P8eDUnnNVSm5tbmt7hnlwe3d/fG9zhoeLlZWUoZuIe2BaUT0oHS8oLTs3S1VdYWliZF1PNCADAwMOIBoRFRgeHxkcLCUnKTM5ODY1NkpFOzpXY3d7gn5zXj8XHyAoGiAlMDxNbHmBhoWNk3dqYXmTeoSboqqzqZ+EGhkYFxMTFhsbGBEODQocEgQDBQMVNVtJJh82XZK44NbDmX5XUW9wYVtrgoR7fGxobmZveoOHh46Sj4h+fG5iXUIuKiUiJjdFWmZxd3Ntd2JlSTQWBhQdMSscERQVDSYhKCIhKSwpJiotLEE5OCs3WF1ia3dpSzgaExASHSQaOk1TSFRtdnmLkod4YnR3bGhyfoSOhH50FhoWExMTGBoYExgVDhAdFAUAAAABCCopIBctR3iww8Smg2pcT1dbTFBkdXBtamJoa2dzdI+FdomPfXd9gHtuaFNCMy8sMDtRXGh4d3Z5d2tiS0E2Gx0oQS01IRMOFhoOGxMSJi8sICstNTkuMyc1TlRmeXxqSi0FBRIQCw4XLUZEP0plcmFrgoV0YVhSXlRbdHl1Zl5tGBcWFBITGx0ZEBYWExocDQsABBYAAA0SHyAkP3KgsbKTeFRSTUlOUVNmbGlqZWppZ2lpaXJvbIl8bn2HgHxuZFRQPDItODlGU2JwfnyEdHFiV15bPjMvQD5DLRUNDQMADhonMh4eKDA3SEItHyhARlBebGBYQykREREVDAkbJTk6OENMX15ieXNobmRfXExZamxqbmh6GhcbGBMVGxwcGRcVFRcYEAcNFhcMBQYMICQhPXCVl4WBYU1NX1xcYmdydW9lbHV7f3pzZ2VkZ3FwcnmEeXd1aEtHSDc5MT1GWGVqdoJ+e29kaWtsWVFJRFBGOS0UCAMKEh0kIhcWJTErKjkvGyc6MEFTX1FQMRYKBwQQBgAOIzMvQ1FMWFddbnR1bmZaUVNmaGJrcGlcEhUYFRUXFRQZGBgVEhIRDQcYExwjGAMLIB4dSG+QjH9vYFlSUVlgYmRyc2pjaoGJgGZtZ1llZGx9dXh/fXNyb1JJRjdFODE9TV5reox/eW5hYXB2amhsUVNWTkw7GQ8WCwcKGg8OFiMqIjg3IR4tJz1HRkJCJgkJCxETAgAOGCEuQD1KUlZRYHp5aFhaY3V0aGBtXVRTEBQVExEUFxgaGBcYFBAHBAYUHCQhHBIUEB0xTXKEiHddV1NaV0xhXVdaW1tbaG9+gXN1cWJgX2Zua3F6dW9qZ15WTTlFOjA1Sk5jZnZ0eXpjXGVgYGpxaGNhZ2pkQCcYCwYcHQcIDxUeMDgiDAkdIjUrMzIuHQoVFw8TDxQgHSo3Kyg8V1BVdHdrWU9cWWFjcWdubGFoFhUVGBQVExceGxobFBIMCRcxMyUjIioqHyIqPmNtal5aWFRNTD5QT1ldUkxVX2J4fnZ0aXRuZmlmV1ZqZWVpalpPPUVMSUM2RFBkdXFze3VkXW9odYN7f39zYWdqXjklAAAZFBIWHyUiKSMYDwwLFxURHRoUBgAEBwAGHConKCcuIzU6TExedWphalZbXV5gZWZzZ2RwGRYWGRgZFhgeHR4eFhEQFyc+NyIRCxgTHis1REhYWFRNP1ZRQC5FS2JsZlFdYlpgaG54b4CCZ2VmXlpaYGFpaWdcT05PU1JBS2FyfX54eXRnZHCBgoRyfIV8cmpxZEIqCwEEDQoQICcvJRUeFhEQFwUIEQoIAAAACgIVJi02Oz09NDRCU1VbYmBvd2VrXmZmcmxpYmZeExAQFhgbGBUZHR0cGBERGzQtIhoNCQ0MKDZIP0VaYE1LO1BXTkFNUVyAe15eYWtsVGx/gY6JgXF3XlVWV1pYXW1iTlBnY1RMV21+gn+LdHBtc4KAjo2Hf3t3fnd4bE0uGA0LCQIZKz40IyIwExwbIBECCgUIAAMGDhsqLCwtNDZHPC1EWWdgaGtqX2NlW1xfX2JsZ1tRFxcXFxkYFhQZHx4gGxoaFiMsHh4cDA0THiQ+Q0lQUU5CNDtNQURGTWJ6dF9tWmJaU2mAh5WYj4F7Wl1aSF9fYmZgYmBpVUlZYWR7gIOGenuCg4Z9kJ+ci4qJiIqLeVozKCkbBAomOS0pNDopCxQfFgwNGgoAAAMUGB42Nzc1PEE8LjFIX2hVW3BuYGFlXWBlW1VeXGFYHx0iHiAZExcbHh0cGRgYHCorHhsfEg4QFgkiNUpHSEI6MDE4NUFEVW1/f3B1bFVRWWZ9gIuXi4+GX1VHO0dMaG5uZFtcSkZHUWJ0cXd7gomHiY2FkJ2nqZWSkpiPdmFBSEQ3HRk4OigyOT8sJzA0HSMlGQwOERAbIjE6N0BBP0xHO0NWY2NWVGprZmdhYWBuaFtPV2tuIh4fISEdGxwgHB0gHCEjLTk3LCUeExESFQ0oNlFNYFQ8Nzo3KTE/VGp/moeBa1pRWGB0dHuDf4eAWFBFMkBRaG5nYWhtVVdTVWhkaW2Ak42Si4uNlo6XrZmOjpmNdWVUWWJNNjw6PTpAPTIsPkJCNS8oFi4wJx4eLTUxLkFSUk5QSlJWYGFYWmZ3cGppX2Fjc2dfXmlhIB8dHyEhIiIiGBwiJCcmICU1KBwaGRwPFSc8TVVFTUczJy01Mzc9VGqBlZqbiHRpZGxocXt/h4+DaWFLRFNfY2VkZm5uWWJrYFlbZnSAiZmKipmdn46dtKmcmY+SlHViWF1dWVI/QEU9JTU2RURESD4sMktEKR8mPSMpMlNZVkpQTU5hblldZGVsZmRoYWNlcl9dYVtWIyEhIB8jIiIhGxwfKCwuJzFDPS0wNCwVFSRBV0pKST0uLSkoJTk+SmR2gpKglH5vd3Rkbnl/hnpxZVZES2BcWGhfboR4aXJ8bW5fVWZyiJ+ZobGosay/w7qtqpCNln1rcGxdZmdSSkImEztNSExLUUhBREs8NTk/QRovTlVWYVxoZWNlZW5uZWp0YmNdXGZldGZaWlJiIyEjIR0fIR8fHB0gJjE5N0djcVI1My0zNS1FVUtJRzMtLyMhIh0uQ15zg5KknYiGiWtcanqDhGdpYElCTlteWGJfaGlnY210ZWVcVlxff6Kera6tvbO2tsG6wK2mqJCQmXluZFpTUjETHEBbSEVNUU9NPEFAT1dNSDJMZmddbHt1YFZhZW50bG1tX2hbXGlpb2plbWxwISEjIh8fIyMgGh4iHy85RmGBmnlAM0hPQzU8TFdTRDQnLBwfIBYsTE9thpqnoZSMmINramVlcnBoXk5YYGFiamlmZlliVlBSYFtfV2Bnd42QpKijtayuuMPK07i6ua6xuJx4YFlcTCsmM0ZOQjxJV1BMSU1VX2lgV1hwcGVebm5kbWRnYG5ydnlybXRma25ta2ZmamxnHiEgIiIfICAeHBwkIzM+UYeeoXE+OFhVRT9KVFlZS0UvJxscFB8ZJz9nkZeamJ2MmZGDeWRkcmhiaWdkV2pnZmprW1RiWlpMT05WY2BeZmt8mKytsrW5zMXQ3MfHwsnSybucdm1XVUM9PkpSPDpRY1lPUlRdYl5faG1oc3FnbGtoeG1raXFnZmdiX15ocG9namFjaG9kHSUjISEdHyAeGyEkKTdEXJGrh25ZVXR9ZVNdXVJOOz02IhkdDRYREj1wgJKPkqipm5ONg3ttdGNbWmRmW2hmY2NbS2JrXVxRV09XamVWYHJqgqe6vbq4x8fJzMu+wMrS1MizkYZhX1tLRU1ORkdPU0xNVVxsZGRea2lnenBpbWpyhGVZYnRvXXVvV1lcX2htbmdfZW5bHB4fHiEiHR4gIiUqKTZFU2+Dhot+e46PZ1FhZGFRQD4sJS4mFB0WETtthpecmp+moKWYhHxzZVZWYmBjW25wal1LTWRiU0xKVldeaGBfYXBxcJCsw8fE0NLR0tfO0dbK0M28t5d1YmJQSUxXS1BMQzlER1NkaGdgaHp3jXx2gnmAinxnXWVdX3V7X1dja2loZWBkZ2NWHiEgICMiHyQlJicrKTRCT1tyfp2djaWiak5fZFhOPi8rIS4jDxAXGDxZbZClmpmcm5uSjn55a2NwcGhcXWZ0bWFTWGJnX1JSWV9aXWZrbWxqc32Qv87J0tLQ6erS09nW2NPKv6qVf2dZTl1YTlNWUlJRVWFjZVRgX25+hISCioqPiYiGhm5ib3p3XExnZWBxbG1vZF5hHyIkIh4eHiIlJyUmJzE+RlN0hqK2r7aqfFtmZF5TQkU5KiYjFA4aM0RWW4SKh4yamJWFlI2Aa21ya19qa15ramNsYGJrXVVXUVheYltjc2FidXVyjLjJ2uTP2unX3Njj3c/LxrumkXBnT1hWVlJOU15UUF1fZWF2bHqIj4h9iqSlmJeVmYBrg4V6Z01nYmNoaGtua29yGiAiHx0eIB8iJCMiJi9BWmFnbo240crClXFiWltQUUM3PSwsIB4gOj9DQWh9foGQoI9/jomFfXRmZmJcVmhkY2Nkdm9qXVtbU1ZcYFVndmdjb3V0c5a7v8TNxtTT5+bv3c7Mx7mjmIdxV01UXmFYXXNsWVpebXR7c4KJjpibp6+pqZqgoI+Ah5GHeGBjZmNZcWtmX2J1ISAbHB8fIR8hIx8hJzI+XGZnZXeUwc3cqnplYVhTVT48OTAuGRk2PTpANUtgbnmDk4iAjH6DfXNram5jXWVhYl1ecWpgZmZnX1hcYlBXY1tseG15bmuSrrizs8jG4urs49rKw6+ck4RzaF5WVGFkZHNpW1phbnd5goOFmaCdqKmZlJyzrZ2Nlqijnn5iaWFSbnBmX2F6HSIhICIlJB4aHB0hJjI+UmJmX3GDoL3QrnxrXmBUVUhDPjknGTlIQUZGPkdUZX6FhIWEhnZ/gHVrbmlfVVlcZ2lgamBYWmJfS1FeZ2JkcWFqYFxzaltym6mgqbfA3Ojm2dLJwLSWi4lrX1pTVVlVVmhrcWhzgpOFgoSEkqCXm5uUk6O3pp2go6ajqqaDd2NTZG9jW2J7ICMjISEhHyEhIB8nJi89R2JvXmNxe6K4o4NqX2VYRENPMiwoM0pJP0ZITlFLVGmDfoN2eXV5eHd2bXFoXWJmXVlnbGBmXWBTUE9ZYWFlXlRTWWZlbmplgZOUlaOzzdPg2cvOwquFenRrcGZUVlJJT1hcbmRwe4mRgISXj5qsrq2hoKuwsquqpqGjoquwoIJfZWxqYGFvICMhHh4eHiYnIyUnJi87SlxfZm1rcoCanX9pWGNgSURHOCs2QUE+P0Q6RU5CTlyAeWpydHRxen6GdG1pWFphVFZYXldpbGdTUVpaXF1hWmRiYVtjcXprbnl/jqCltL3Izc3BtZ+Ccm9ub3BWUldXX1lXZ2JyeoCEhYqTk5mlpaumq62yv6+xpLCtoKWjpJl9aFxva2dtISAdGx0gISEjIyQlJS8+TV5aY2tnY2x+fGdgaV1qWFRLRjlJRj8/SEs/R05ZWVphZWRzcXN3gYF+em5vVVVSSlNZZ1Njcm5zW2FjcWliZXBcWEdDWWllcnt8hp2epLKyt764rpqDenNrdWtQUFNUcGtiWk1janZ/iZ6Kmqutt7S0urCluKq5urSeqLGfq6uQemVkYVVgHB0dICAkISEhICInJjZBTlxecWVuX11hWVlXZGNxZ0xIT1FSS09ISUxRV1tjZGhkVVNhdHVkdISAend2ZlhUSldjaVtqZlNnZ15LZ35qYWNWTkFHXGlrd4uHg5ONmKyoo7C1opN7eGtmbWNdX01aaGtfZ2hqcnV1f4qQprC5trnBvaSwuLe5urOptseqqrCVnZh8ZVdoHyMiHx4hISEhIyYpJjRDSGFsfmxhYFZUT01RYWpqYU1LRFZdWlRSU1dUVFFNXWBqY2p0bmJRanRpdXR1ZlZOSFhRUmJaT05PZWlZaHRxaWdRUk9MaG9oeZGIeHqBhZeamKGbm4iDdGhob2NlYlJcYGtpYGRpc3pzfYCToaa3w8nHubfGur6tvsHEusvBt6+ho6uegF5fJCQkIyAhHiMkJSsqJzNGSl9ramBkamNbUlhWVmh6e1hLTVZUVkxQTFJaXVZKWmJpb29qZmRWZmlxgHZ6a2RTU15jW1VcX2FkfXRjaG1tYl9ZVE1camdgcIR1Y2NwfIyYo6KZlYyCdG1gamVcYWloY2ldXF9fbnJ3e4OSprLE0Mi/uru+sqGrwMXSwc3OyMfFt7m4qnV7HyAjJiEfICIlJykjJjFETUxaeW1raV5XW2RiXmNjYFpXXWNbVE5OSlNVWmRda29ldWtiZWJRW19jd25pZmFZWVhZXlJWZ2Rpb2ViZmZgXWJgXE9jbWVbYHaBbXZ3bHyKlKCdiJF9dHVoZ3FpYHBnYV5XY2VcZXBzg5inuL+5yMfDvtHHxLi/wMvOxcLIxtDJwtDCxK+0ISEmJh8eIyMmJyciIzBAR09SY2xsb2xoY2pjVVZnZFdOWFtVXmZgXWNfZWhhb35qYV5iYl5RWF1jcmZobmhcXF1YV1RgZ2Fibmphb396cGtfZlthcWddXWlvcHZ4cHZ7h5SWiY2Gg4F2cXFxZHRmWV9pamZeb29sg5uqp6Kds8HIy+DW2dfUyNbdycPKtMfRwdDH0cTNICAhISAkIyUoKCwnKDVBQ0dcZWdqeHd1ZGdkaWVzdFxOVk9aZ21kXFxcaGlwdnJkbGlpa2RbaGFwb2JmenlqWGBUWU5bZllhY15ee4N/cG94b1xnbnBwa2lrYmBnampsd4WJiomHgoiCenl4bW1eVF1nX1RUYWZwhZWakI+Gn7fM2tnX3dnbwMnH293e0M/HvNHQy8zeHiIgISErKCcpJyooJjc/PUBbZWVpfHpzcGJnXVtsfHJiW1hmZmdoaVxeY2twemVYZXZuYVFPWWRgXVdecXNsY2NfVk1XYlplamJlcXFwcm59b1hTYGlycW9zcWp5bnJqZ3p2en93fouBeXuAdH5xY2RdXllaYGBleHiBin1zfZ+zydrU2djRytDBzNvf2NXHx9XFz9/RHSAfIyYqKCQlKiomKDY8PE1eZ3lygXt0eHRsZWJmbmVmZGhfX2RfYVNlZGt2cmxub3NkXVZMU2JfYlxjamtqZm1cTE9WYktGWWVvbWtubWV8e21dZ3SBamFngYiBc2xibYeHhIF4hZaNgXd/gHpuc3NbWFdTW2ttZmZybnZ7gKGss8/PyMbH1s7Gx9fRyMvR19nU1t/WHyAeJCcrKCgrLCsqLTUyOE5ccXVoaXZ3enx3dmNmcV5oZ3NeamVLVVppZHFxWWh8bWhqY1pgaWxdYGRqaV9saYJvWllcZVdXXWJYX2hscmZgdXJubHNmaWhhcouCeXVwfpCRioCFfo+Rgn2BgHxwb3FiXl9XWWNpYGRlZHVyiKCvqr7IxsHI28zIytnKv8PK2tPT4NTOJSEhICkmJiwrKiopLC81OEdScG9tb3l0gXFydXNramFXX3Bnd2pYZVtpcXFuWGVuYF5rb2JcYGRjYWhta2ptfJN5Z2NrYV9gXFZSTVlbcm1nam1xdnlydHNqfIiJi5CGjJKci5iTiYyNhYiDf4d6YF1kXFdYYmhgYWJkcGVgeJyvornS0tPS4tXPz9rKxsjS1cHBwMG8IyYmJSgkJSUmKSEeIB8nLjlFZHRwbm9wdW1maHl3bGtcX2ttdWpibWdVX2FeU2daRkhbXVBTUllbYnFzd4CNn5yJb2BzXlllWlxUWFldcmhnYVdpd3V3cXx+eIWUi5SLj42Li5WSm4Z6hHp4dINxY1xiVVFOXGBhXlZTVlBVZ4aXnK3HwsnN1s7CzNTUxMHOyre8uM29JiMjJCUiHRoaHhgaHyAmMjhHY3Rrbmdqc2twb2tzZ11eY21tamVtbGNaWlVVSldMQUdWT01TV2NhZ2VsgJGgqJqRf3B2WFRjX1xnZVxZZ1JeWE9od3qAcoOJgIOYlJCHhYWQjICDl5SZiYWDent/alpkVlBKTUhYXFZTTFFVbXyUn52ura67w9PR0NTU0M3KzMTRycfFJiAfHBweGxwZGBkaHCQlMz9ZY2JfamhycmxsZV1kYllZY2JYWFpzbVtQYVxXUkhAQFRfWVJVWmdmbF9qdIaXp6SZgnt3UVtxa1xfXlhXWVJfXlJibGp6goeGeZGakIh/h4SgrZ2bm6SVjIV0cnmEbmNaZVheU0pbZV5VTkxNYm9+iYmXtMnXydbc1NTZ4NrSy8LU0czNHh4dEhYcHh0XGh0YGyAgN0RKU2VkbnpiY2dlYmRjZmhuY2ZkWk9qbmNVZ2JbU09GV19VW1FGT1FZbV5mbIiNn62uinp0XmNpbGZgW1pXUVBiaWBcXl9fZHJ2c42Pgnlyg36Xm5uXnqedj4R7c21kYm1daGhlYF1kbVtKRztHVm6KmJeXvcrWyNDPydHf3eTs08HHycTLGBweGRkaHB0dHRoYGB4mOUBFTGJebHNYX2ZqaGRdXGdfXWNoYFhgZWRhZV1YVmZUS1VERE5DSk9cZnBudIiYnqWtiYiCbV5aWmdjZl5TX2pjZmdcW2JiYm1wgY+GbXV4eXGKkJObkqWYeHOEdmhgYmpqamFgZGlpZlROUUZHYmh6ipaNm7rIw8/FxMrP09ff18nOxdHQHBkcHB0bHBscIBodHScvN0xfWWBScXBjY2pdZ3NqXWVmZFphYV1gcHVrUFNPU2FQT05TU0hOT1JccG5teo+ZpJ+nkpGJcmtobWVgZlpcaGpbZWNlXF1eXXODgnp9bmtzeXmAhICHj4uHgXN5dm9jaGllY2VkX2ZlX1RUXl9hb2pnd42Efa67wsjCx8zO1NTRwcaytc/OGhcZGR4cHhcZHBocHCg3PklmdW1fZWdpaGZiZGx5a1hmaWFja2Jrc25fTl9YYV1RVUxPVkhOX2BheHmChJSXpqKhlYV7eXpxb29hYltccWhVWl1cXl9cWWJ6fGltdnRwe3B5h4B9gXd6h4B7b2NXbGRhXWdiWW12X15XV0labGBnbHpxe6i5xcO8y9XRzdDJxdTHxdPTFxkYFx0dHBgaGBgbGyQ3OENkgHFkZ2RpcnZnVWBhaVxaZm9pZlldcmteYWdpZGNkWUpXXl9PU1hga3F6eIqUnpWXko2If4qCeHBicG5mc2ZQVmFqYmVdWl5uc3BsfXNogH5/hYF3dmxrdWlzXFZSaWNkaGNmX3JtZmlZUVNXRlVbWV1nb42zyMzJztXQztDPvMTPy8XVFhgXFxoeGRkZGRsdGyo7QVJwaW9oZFlgZ2ReZWRgZW9bYmdfaVlbYFpiamtoZWRsaWBRWFZRWmRgbG1gZoKQn5CQjI6MiH57fXNkX2FvbFtUZGdpZ2BdXWhydW9ncndqcnN+gIFpZmZhbmZxZWZtbV9TYGhaWGVpaWlQSlBQSFBOREVaYHegutHOxsbK08e/xcnO09XRFhoXFxoeGxgWGx4fIi5BT1lpZGRnamlkaHBjZWhvWmJkbG5ncl9bV1lhZXBrcV5xbGRMZl9eYmZgbGRia4KNkIx7fH6DeGlsc21uZ2d0ZGFsbmpsal5fW2VvdGhrgGxdVmNsbXVkY25jZmFdZWprY1ldZGliWl5pYmNNT1JSUUZHRDxJS193lrfOyNDMw8TNxMTCzMi9GB0YFRgcHhsZFhwhJDBCWWJdWmVncG1oXGZpX2JuXGheZWlybWhhT1VgXWxqY1pma2JebW1oYGFaaW5iZnWCgXx3c3psYV5mbmRocHNpWWl3fnFraVtlZWhsclxdW1FeW15jaX9lWV9gY2heXGFeVlVYYFhWYFdjYGZdU1tPUkRSUUVDR1NXYZbRys3azsjU0r/G0MvLFxsaGhUVGxkbGiAiIS47VV5mZGhucHBjVWRkZGlsZW5rc21rZHVmXWJpZ15db3NzaWZgdmplZmZqYmNuc25zaWxubm9wZF5rbmNgcHdlVWp3e3ZrbWRcW2Rnal9dUVReX2RecYSCYVpbXWpdZ1hTTFlhZVRTXVhYYmBWSFRLTkxYWFtUWFVKQF+ew9LX0cfMz8zY2dbYGBcYGhgSFRYbGRwhICxBUlxobGZmbnZnV15gZ3Zma2ZsZGRrcX5yXmB3b1pgaWpzZ2BRZ2hqfXFxZ1NkdWReYmRjcmZycGtxaWplbXJwX19mZ2VbYmhaZW5lXVxYS2F4fHt0hYeUhYSGhXFobVxpXFZmYWlrdWBSWU9KSENDSFVaZ1VHV1lNQlJrq8PEz97UzNnY0M3LHRoYGxsaFRUcHR4iJTRHUl5obXBrbGhjaF1WZXNua2hnY2ZnbGddWmFvbl9kXVZiZGFjZF1zcGFfZ2NhZVpWYWZlb32NhXxzaWVscnNuY2RraV9ZZm1fY2FcZF1XTl5sfnh2f3+QmJ+hlXJmbmhxal9aUGBhZGReW09EPTtFRkxQVVJVWlVUUFRVd6bAzNXn2s3V0MW9GhgXGR0fGhYbGR0lJjU+S1thXmZma2VhWVZTZmdsaGNbW19maFxmXVttbGdwZltkXlteVmFuYF5maXJxZl9aanNuYGd7hoR3cHJ4Xl5baG1lZ2xsb3ZmXFVdaWdoWmlsf4R8eHeNi4ufoWtmb3ZuZWRaUFlbZGVWWlZFSVBCQz5KVlFgV1BJSFVQWIKzwsPO09DY3MjLGhoYFxkWGBwcGh8mKTc+SVx0em1pa2NYWF1kcGRnXWhkXFptbVlkZm1pZ2d1dmdrYmhtX2ZtX2xqb3JyaVpgaHR3dXV+hoqBamJtU1dXa2ZkbHRlWXFvXl9ob2VmZ2VwdHeBfYiaooqSjm5XXWZnZ2FYWl9nbm5fU1RNTFJIU0pOWEdZV1FKRU5RTkltqLy9xcnKz8nHHh0YGxoVFxsdICMkKTY9TFhpbmloYFxfWmBldnFsY2FkXmpkZF5XZWdxcHBvalZkY2hoa2drZmZpX2pqYmRsX2hzcXiBg4SCcGhjXF5TYWJlZmJfXYSAa2Zlb2tqZGVyb2+QipGWm4+Fa2lfaWdcYGFfaF5eZW9rVk5VTUZMWFtVX09iVEY9TUlMXj9Fcq3Awc7Hy87NGh0YGBwWFhwgIyAjKDNBSlppbl5bYWt4Y19lbWhpZFNYbnJiX1xQW2Z1am5oaGNvX3Z4a2hiaWdrW1xna2xqZGVpZm59g4+AYllUYllQV2JZYGJjZ3prYmtpZ2VhWWJrdXmNiIqOmpKHaWRwanJnX2JiaF5jZ29rU01OUExHS0xJUENRSElMU1NOSTdCUmqmxdXBwM/QGB8aGBwbGyIiIyQkKTY9WGBcdW1yfIBvZFldVE5nZGRncGtPWWdnY2JraXJcXmVlYXx7cGxnbHRsamtgYV9hXl1gXmlqdI6FZ1tTVVxnWVVSV2lqbHp3Zl5rdXRqYHNucnt7fIydl5CMa2RyY2ZtX11wZ2VrXmNbSEZLTEdcUj5JSUpPUFhOUEVFRURHTU2AtMW6v8XCHBscGBocHiMkJSgkJzM4TFpdZWp/hHtjbHBYXGZnYGBhYW9ZWmdmYWZrbWlobWtpX3Bva2hwaWVeZXJtbGpqb2NWX2NogZWAZFZUXGFkXmBWZmRhXnVpaWNqa3F3bW9da3BqdX6NjJ6QbGVuVE9fY2ZmY2dsXWNYXV5TU1dgWkZGRURCSFNIVk9KRVBFSFljfbHFxce/HxsVFxweISUjJComIzM+T1hdYWVzgn5raXRpc3lyaWlwaWtjWWRlX3FxY15xX19sWWRqZm1sZVZra3NybWppbF1VWVhpe4F1ZWJbbm9rWmRfcGJeZnJfYV1jY2Jwc3Jra3ZtfnqHm6iKZGlnXU9RXmRVSlpja25eUlJTUFBOVVJKS0dQTUtFRkxNS1RVU1lQUnGsvtDOGBgWGBodHCcpJCcnJDJBXmJfbmBscHVraW1jb3N5dW9vanN0aGJhX2xhX2Z1amZyZ2dlc3BrbF1pZHVqY1pqa2Fhbl9mfYJ6cnFeXmdmYHxuaGRdYm5bbl9QXHBqaGRnb3p2fH+HlqCGbGJYX19kYWBVUlpzbG1eUUxTTUZDWl9DQTxNWFlVUkxLTFdWT0xXUE51q8fKFhcbGh4fHiQnJycsKTZGXF5bY2dqcXFmZ25cXmZrZ2ZwbmdpaGhuY1xdaWFucmxmYFthcnh2Z11wcX1sYF9ZUmBha11cf5J6bWxgbWxkZ3tlW1llbmZdZ2xncHBtcWRYbH6GdXN/kJmJcWlaW2FYY2hkaGBhaHJoV09OQEdCT1NDUEpFUllSYE5LRVNNPERVUTpJeL7GGBQXHiIhICYqKSQqLTtLVFhZYVVhaGdnY2FbY2ZoZlhoZGBbW11odnxwbWpxeHBkX1RdY2p9Z1teY2drZGRiYl1ZXl9depF9bWxid3dmY2txenNuZ2tlX2xiZ2dnY2ZfanCEcWd+jKOPa15te2ZeZmxnbWNYZGlaUk5QPUA/T1BGTU1LT09HT0ZISVJKRD9BQDtQaqm8GhgYISEjJCkrKCUpLD9KUV9wY2VeZ3xyYVhsZ15kZlthYVleWGRvXmpocGJsemplXVRbY3R7b2NeZ2VfXWxubmFZXlZTZX6FfXBnYWlmYmFtdn+CbGxmZXBhY2Bqa3Brd2yHh3x9hJqFXWBzeGBibmhmZWZaXmNYTkxOQEFOW1ROS1VTTkVMS0FGSFtYQ0ZBPz1JXHKRFhobIyQjISctKCgqJTJOXGR3a2pTU2pfXFdoYmlcamJrYWBpXGtlVFZTWltiXE9ja1tkbH+Aampja25bbXRqcHljX0taampzal9iX1pTUFBjZGtrWGNvbHJoYGNja29galyDeneIl56LWlxsZGhfX2FobGVjcHZZU1BPRVNZWlNMTltNSD5CRkhALUg+QkpZWVBTUl1t");var h=new Float32Array(NU*NW);for(var i=0;i<d.length;i++)h[i]=d.charCodeAt(i)/255;
var CM=[[0, 0, 255], [8, 32, 208], [8, 64, 168], [16, 96, 136], [16, 128, 104], [8, 150, 80], [0, 176, 64], [0, 216, 32], [0, 255, 0], [170, 255, 0], [255, 255, 0], [255, 208, 0], [255, 168, 0], [255, 136, 0], [255, 100, 0], [255, 64, 0], [255, 32, 0], [255, 40, 40], [255, 80, 80], [255, 96, 96], [255, 100, 100]];
function cm(v){v=Math.max(0,Math.min(1,v))*(CM.length-1);var i=Math.min(Math.floor(v),CM.length-2),t=v-i,a=CM[i],b=CM[i+1];
return 'rgb('+Math.round(a[0]+(b[0]-a[0])*t)+','+Math.round(a[1]+(b[1]-a[1])*t)+','+Math.round(a[2]+(b[2]-a[2])*t)+')';}
var c=document.getElementById('cA');if(!c||!c.getContext)return;var x=c.getContext('2d');
var sil=[[66.6, 225.9], [68.8, 223.7], [74.6, 229.6], [81.9, 220], [91.4, 204], [95, 206.2], [102.3, 198.2], [108.2, 183.6], [111.8, 177], [115.5, 179.2], [118.4, 188], [122.8, 205.5], [127.2, 205.5], [135.9, 196.7], [141.8, 186.5], [147.6, 173.4], [149.8, 158.8], [152, 150], [156.6, 146.6], [160, 149.6], [165.8, 144.5], [170.2, 144.5], [174.6, 141.5], [179, 131.3], [180.4, 119.6], [182.6, 116.7], [184.8, 119.6], [187, 131.3], [190.7, 131.3], [195, 132.8], [197.2, 123.3], [200.1, 126.2], [203.8, 132.8], [206.7, 134.2], [211.1, 124], [214.7, 110.9], [218.4, 118.2], [221.3, 113.8], [225.7, 108.7], [230.1, 110.9], [234.5, 116.7], [238.8, 125.5], [241, 115.3], [244.7, 102.1], [249.1, 94.8], [252.7, 91.9], [253.4, 78.8], [255.6, 76.6], [257.8, 78], [260, 85], [264.4, 88.6], [268.8, 87.9], [273.9, 85.7], [274.6, 76.2], [277.5, 78.4], [281.9, 71.8], [287, 68.2], [293.6, 63.8], [299.4, 61.6], [303.8, 59.4], [306.7, 53.6], [308.9, 45.5], [311.1, 47.7], [314.7, 39], [316.2, 36.1], [317.7, 39], [319.9, 30.2], [320.6, 27.3], [322, 31.7], [327.2, 44.1], [330.1, 38.2], [332.3, 44.8], [334.5, 48.5], [338.1, 45.5], [341, 48.5], [344.7, 41.2], [349.1, 47], [353.4, 53.6], [357.1, 56], [360, 54.4], [364.4, 58], [368.8, 56.6], [373.1, 66.8], [379, 69], [381.9, 71.2], [386.3, 62.4], [389.2, 71.9], [393.6, 81.4], [398.7, 75.5], [402.3, 84.3], [406.7, 85], [410.4, 89.4], [415.5, 99.6], [419.9, 98.2], [424.2, 100.4], [427.2, 96.7], [431.5, 108.4], [435.9, 114.2], [439.6, 108.4], [443.2, 105.5], [445.8, 100.7], [448.8, 108.8], [453.9, 111.7], [457.5, 101.5], [459.7, 111.7], [461.9, 117.5], [467, 119], [469.2, 124.8], [472.1, 138], [475, 138], [477.2, 142.3], [479.4, 140.9], [481.6, 133.6], [483.8, 138], [486.7, 134.3], [490.4, 135], [491.8, 138], [491.8, 152.6], [494.7, 150.4], [498.4, 152.6], [503.5, 148.2], [507.2, 155.5], [511.5, 156.9], [514.5, 161.3], [518.8, 170.1], [523.2, 171.5], [526.1, 178.8], [529.1, 183.2], [530, 184], [526.4, 184.6], [522, 190.4], [517.6, 198.5], [514.7, 200.7], [511, 198.5], [505.9, 205], [503, 199.2], [498.6, 209.4], [494.2, 213.8], [488.4, 218.2], [481.1, 218.2], [478.2, 226.9], [475.3, 235.7], [470.9, 238.6], [465, 240.1], [460.7, 245.9], [457.7, 251.8], [455.5, 256.1], [443.1, 263.4], [440.2, 259.1], [438, 264.9], [436.4, 265.5], [430.5, 267], [424.7, 268.5], [419.6, 269.2], [415.9, 267.7], [411.5, 269.2], [407.9, 275], [405.7, 282.3], [402.8, 286.7], [399.9, 290.4], [395.5, 292.6], [389.6, 294], [382.3, 295.5], [377.2, 298.4], [375, 308.6], [369.2, 312.3], [363.4, 311.5], [359, 315.9], [354.6, 318.8], [348.8, 316.6], [345.1, 317.4], [342.9, 321.8], [340, 329], [334.9, 333.8], [330.5, 336.7], [324.7, 339.6], [319.6, 341.8], [315.9, 344.7], [310.1, 344], [304.2, 348.4], [299.9, 351.3], [296.9, 352.8], [292.6, 357.2], [288.2, 363], [283.8, 365.2], [279.4, 365.9], [277.2, 369.6], [273.6, 372.5], [269.9, 371.8], [267.7, 364.5], [263.4, 361.5], [259, 358.6], [256.4, 358.3], [252, 353.2], [247.6, 348.8], [243.2, 354.7], [239.6, 356.1], [235.9, 353.2], [231.5, 347.4], [227.2, 345.9], [222.8, 340.1], [218.4, 338.6], [215.5, 341.5], [213.3, 334.2], [210.4, 331.3], [208.2, 333.5], [203.8, 332.8], [199.4, 331.3], [195.8, 328.4], [193.6, 319.6], [190.7, 315.3], [187, 310.9], [181.9, 311.6], [177.5, 306.5], [173.1, 305], [168.8, 302.1], [164.4, 299.9], [160, 297.4], [156.4, 298.8], [152, 297.4], [149, 303.2], [144.7, 298.8], [140.3, 285.7], [134.5, 278.4], [128.6, 279.9], [125.7, 286.4], [124.2, 281.3], [119.9, 274], [115.5, 270.4], [111.1, 272.6], [107.4, 271.8], [103.8, 263.8], [99.4, 255], [95, 251.4], [87.7, 250.7], [81.9, 247], [74.6, 239], [71, 233.9], [66.6, 227]];
x.beginPath();x.moveTo(sil[0][0],sil[0][1]);for(var k=1;k<sil.length;k++)x.lineTo(sil[k][0],sil[k][1]);x.closePath();x.clip();
var ux=(R[0]-F[0])/(NU-1),uy=(R[1]-F[1])/(NU-1),wx=(L[0]-F[0])/(NW-1),wy=(L[1]-F[1])/(NW-1);
var q=[];for(var i=0;i<NU-1;i++)for(var j=0;j<NW-1;j++)q.push([i,j,-(uy*i+wy*j)]);
q.sort(function(a,b){return b[2]-a[2];});
x.lineWidth=0.7;x.lineJoin='round';
for(var n=0;n<q.length;n++){var i=q[n][0],j=q[n][1];
var k00=i*NW+j,k10=(i+1)*NW+j,k11=(i+1)*NW+j+1,k01=i*NW+j+1;
var h00=h[k00],h10=h[k10],h11=h[k11],h01=h[k01];
var bx=F[0]+i*ux+j*wx,by=F[1]+i*uy+j*wy;
x.beginPath();x.moveTo(bx,by-S*h00);x.lineTo(bx+ux,by+uy-S*h10);x.lineTo(bx+ux+wx,by+uy+wy-S*h11);x.lineTo(bx+wx,by+wy-S*h01);x.closePath();
var mx=Math.max(h00,h10,h11,h01),mn=(h00+h10+h11+h01)/4;var col=cm(mn*0.85+mx*0.15);
x.fillStyle=col;x.strokeStyle=col;x.fill();x.stroke();}
})();
</script>
</body></html>
